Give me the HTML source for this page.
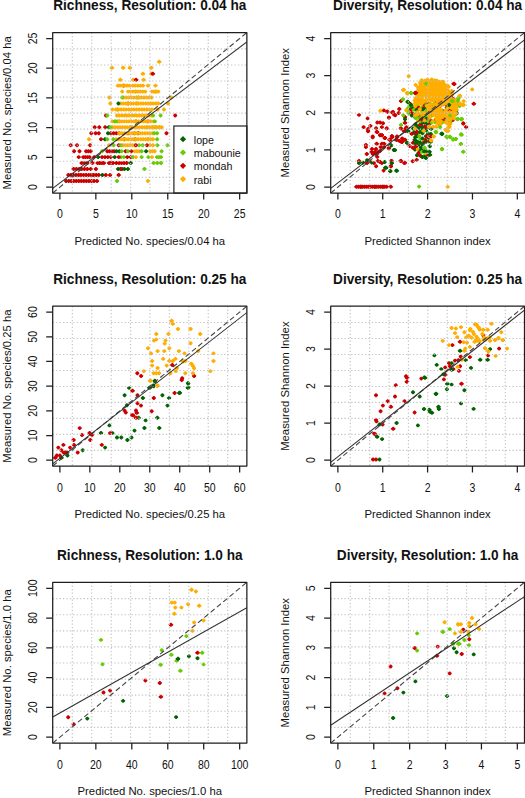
<!DOCTYPE html>
<html><head><meta charset="utf-8"><title>Richness and diversity</title>
<style>
html,body{margin:0;padding:0;background:#fff;}
body{width:525px;height:798px;overflow:hidden;}
svg{display:block;font-family:"Liberation Sans", sans-serif;fill:#000;}
text{fill:#111;}
</style></head><body>
<svg width="525" height="798" viewBox="0 0 525 798">
<rect width="525" height="798" fill="#fff"/>
<clipPath id="c0"><rect x="52.7" y="32.55" width="194.16" height="160.52"/></clipPath>
<g clip-path="url(#c0)"><path d="M157.23 61.32l1.47 -1.47h1l1.47 1.47v1l-1.47 1.47h-1l-1.47 -1.47z" fill="#FFAE00"/><path d="M109.93 67.28l1.47 -1.47h1l1.47 1.47v1l-1.47 1.47h-1l-1.47 -1.47z" fill="#FFAE00"/><path d="M121.23 67.28l1.47 -1.47h1l1.47 1.47v1l-1.47 1.47h-1l-1.47 -1.47z" fill="#FFAE00"/><path d="M127.93 67.28l1.47 -1.47h1l1.47 1.47v1l-1.47 1.47h-1l-1.47 -1.47z" fill="#FFAE00"/><path d="M149.23 67.28l1.47 -1.47h1l1.47 1.47v1l-1.47 1.47h-1l-1.47 -1.47z" fill="#FFAE00"/><path d="M140.93 73.24l1.47 -1.47h1l1.47 1.47v1l-1.47 1.47h-1l-1.47 -1.47z" fill="#FFAE00"/><path d="M149.43 73.24l1.47 -1.47h1l1.47 1.47v1l-1.47 1.47h-1l-1.47 -1.47z" fill="#FFAE00"/><path d="M150.83 73.24l1.47 -1.47h1l1.47 1.47v1l-1.47 1.47h-1l-1.47 -1.47z" fill="#CD0000"/><path d="M118.43 79.19l1.47 -1.47h1l1.47 1.47v1l-1.47 1.47h-1l-1.47 -1.47z" fill="#FFAE00"/><path d="M131.33 79.19l1.47 -1.47h1l1.47 1.47v1l-1.47 1.47h-1l-1.47 -1.47z" fill="#FFAE00"/><path d="M134.13 79.19l1.47 -1.47h1l1.47 1.47v1l-1.47 1.47h-1l-1.47 -1.47z" fill="#CD0000"/><path d="M141.63 79.19l1.47 -1.47h1l1.47 1.47v1l-1.47 1.47h-1l-1.47 -1.47z" fill="#FFAE00"/><path d="M121.63 85.15l1.47 -1.47h1l1.47 1.47v1l-1.47 1.47h-1l-1.47 -1.47z" fill="#CD0000"/><path d="M115.93 85.15l1.47 -1.47h1l1.47 1.47v1l-1.47 1.47h-1l-1.47 -1.47z" fill="#FFAE00"/><path d="M118.21 85.15l1.47 -1.47h1l1.47 1.47v1l-1.47 1.47h-1l-1.47 -1.47z" fill="#FFAE00"/><path d="M120.49 85.15l1.47 -1.47h1l1.47 1.47v1l-1.47 1.47h-1l-1.47 -1.47z" fill="#FFAE00"/><path d="M122.77 85.15l1.47 -1.47h1l1.47 1.47v1l-1.47 1.47h-1l-1.47 -1.47z" fill="#FFAE00"/><path d="M125.05 85.15l1.47 -1.47h1l1.47 1.47v1l-1.47 1.47h-1l-1.47 -1.47z" fill="#FFAE00"/><path d="M127.33 85.15l1.47 -1.47h1l1.47 1.47v1l-1.47 1.47h-1l-1.47 -1.47z" fill="#FFAE00"/><path d="M130.73 85.15l1.47 -1.47h1l1.47 1.47v1l-1.47 1.47h-1l-1.47 -1.47z" fill="#FFAE00"/><path d="M133.3 85.15l1.47 -1.47h1l1.47 1.47v1l-1.47 1.47h-1l-1.47 -1.47z" fill="#FFAE00"/><path d="M135.88 85.15l1.47 -1.47h1l1.47 1.47v1l-1.47 1.47h-1l-1.47 -1.47z" fill="#FFAE00"/><path d="M138.46 85.15l1.47 -1.47h1l1.47 1.47v1l-1.47 1.47h-1l-1.47 -1.47z" fill="#FFAE00"/><path d="M141.03 85.15l1.47 -1.47h1l1.47 1.47v1l-1.47 1.47h-1l-1.47 -1.47z" fill="#FFAE00"/><path d="M146.03 85.15l1.47 -1.47h1l1.47 1.47v1l-1.47 1.47h-1l-1.47 -1.47z" fill="#FFAE00"/><path d="M153.53 85.15l1.47 -1.47h1l1.47 1.47v1l-1.47 1.47h-1l-1.47 -1.47z" fill="#FFAE00"/><path d="M133.63 91.1l1.47 -1.47h1l1.47 1.47v1l-1.47 1.47h-1l-1.47 -1.47z" fill="#66CD00"/><path d="M153.53 91.1l1.47 -1.47h1l1.47 1.47v1l-1.47 1.47h-1l-1.47 -1.47z" fill="#66CD00"/><path d="M126.13 91.1l1.47 -1.47h1l1.47 1.47v1l-1.47 1.47h-1l-1.47 -1.47z" fill="#FFAE00"/><path d="M128.59 91.1l1.47 -1.47h1l1.47 1.47v1l-1.47 1.47h-1l-1.47 -1.47z" fill="#FFAE00"/><path d="M131.04 91.1l1.47 -1.47h1l1.47 1.47v1l-1.47 1.47h-1l-1.47 -1.47z" fill="#FFAE00"/><path d="M133.5 91.1l1.47 -1.47h1l1.47 1.47v1l-1.47 1.47h-1l-1.47 -1.47z" fill="#FFAE00"/><path d="M135.96 91.1l1.47 -1.47h1l1.47 1.47v1l-1.47 1.47h-1l-1.47 -1.47z" fill="#FFAE00"/><path d="M138.42 91.1l1.47 -1.47h1l1.47 1.47v1l-1.47 1.47h-1l-1.47 -1.47z" fill="#FFAE00"/><path d="M140.87 91.1l1.47 -1.47h1l1.47 1.47v1l-1.47 1.47h-1l-1.47 -1.47z" fill="#FFAE00"/><path d="M143.33 91.1l1.47 -1.47h1l1.47 1.47v1l-1.47 1.47h-1l-1.47 -1.47z" fill="#FFAE00"/><path d="M150.03 91.1l1.47 -1.47h1l1.47 1.47v1l-1.47 1.47h-1l-1.47 -1.47z" fill="#FFAE00"/><path d="M152.13 91.1l1.47 -1.47h1l1.47 1.47v1l-1.47 1.47h-1l-1.47 -1.47z" fill="#FFAE00"/><path d="M154.23 91.1l1.47 -1.47h1l1.47 1.47v1l-1.47 1.47h-1l-1.47 -1.47z" fill="#FFAE00"/><path d="M156.33 91.1l1.47 -1.47h1l1.47 1.47v1l-1.47 1.47h-1l-1.47 -1.47z" fill="#FFAE00"/><path d="M120.23 91.1l1.47 -1.47h1l1.47 1.47v1l-1.47 1.47h-1l-1.47 -1.47z" fill="#FFAE00"/><path d="M136.03 97.06l1.47 -1.47h1l1.47 1.47v1l-1.47 1.47h-1l-1.47 -1.47z" fill="#66CD00"/><path d="M121.63 97.06l1.47 -1.47h1l1.47 1.47v1l-1.47 1.47h-1l-1.47 -1.47z" fill="#FFAE00"/><path d="M124.18 97.06l1.47 -1.47h1l1.47 1.47v1l-1.47 1.47h-1l-1.47 -1.47z" fill="#FFAE00"/><path d="M126.72 97.06l1.47 -1.47h1l1.47 1.47v1l-1.47 1.47h-1l-1.47 -1.47z" fill="#FFAE00"/><path d="M129.27 97.06l1.47 -1.47h1l1.47 1.47v1l-1.47 1.47h-1l-1.47 -1.47z" fill="#FFAE00"/><path d="M131.81 97.06l1.47 -1.47h1l1.47 1.47v1l-1.47 1.47h-1l-1.47 -1.47z" fill="#FFAE00"/><path d="M134.36 97.06l1.47 -1.47h1l1.47 1.47v1l-1.47 1.47h-1l-1.47 -1.47z" fill="#FFAE00"/><path d="M136.9 97.06l1.47 -1.47h1l1.47 1.47v1l-1.47 1.47h-1l-1.47 -1.47z" fill="#FFAE00"/><path d="M139.45 97.06l1.47 -1.47h1l1.47 1.47v1l-1.47 1.47h-1l-1.47 -1.47z" fill="#FFAE00"/><path d="M141.99 97.06l1.47 -1.47h1l1.47 1.47v1l-1.47 1.47h-1l-1.47 -1.47z" fill="#FFAE00"/><path d="M144.54 97.06l1.47 -1.47h1l1.47 1.47v1l-1.47 1.47h-1l-1.47 -1.47z" fill="#FFAE00"/><path d="M147.08 97.06l1.47 -1.47h1l1.47 1.47v1l-1.47 1.47h-1l-1.47 -1.47z" fill="#FFAE00"/><path d="M149.63 97.06l1.47 -1.47h1l1.47 1.47v1l-1.47 1.47h-1l-1.47 -1.47z" fill="#FFAE00"/><path d="M107.23 97.06l1.47 -1.47h1l1.47 1.47v1l-1.47 1.47h-1l-1.47 -1.47z" fill="#FFAE00"/><path d="M120.23 97.06l1.47 -1.47h1l1.47 1.47v1l-1.47 1.47h-1l-1.47 -1.47z" fill="#66CD00"/><path d="M169.43 97.06l1.47 -1.47h1l1.47 1.47v1l-1.47 1.47h-1l-1.47 -1.47z" fill="#FFAE00"/><path d="M126.13 103.02l1.47 -1.47h1l1.47 1.47v1l-1.47 1.47h-1l-1.47 -1.47z" fill="#CD0000"/><path d="M135.03 103.02l1.47 -1.47h1l1.47 1.47v1l-1.47 1.47h-1l-1.47 -1.47z" fill="#66CD00"/><path d="M118.73 103.02l1.47 -1.47h1l1.47 1.47v1l-1.47 1.47h-1l-1.47 -1.47z" fill="#FFAE00"/><path d="M121.24 103.02l1.47 -1.47h1l1.47 1.47v1l-1.47 1.47h-1l-1.47 -1.47z" fill="#FFAE00"/><path d="M123.74 103.02l1.47 -1.47h1l1.47 1.47v1l-1.47 1.47h-1l-1.47 -1.47z" fill="#FFAE00"/><path d="M126.25 103.02l1.47 -1.47h1l1.47 1.47v1l-1.47 1.47h-1l-1.47 -1.47z" fill="#FFAE00"/><path d="M128.76 103.02l1.47 -1.47h1l1.47 1.47v1l-1.47 1.47h-1l-1.47 -1.47z" fill="#FFAE00"/><path d="M131.26 103.02l1.47 -1.47h1l1.47 1.47v1l-1.47 1.47h-1l-1.47 -1.47z" fill="#FFAE00"/><path d="M133.77 103.02l1.47 -1.47h1l1.47 1.47v1l-1.47 1.47h-1l-1.47 -1.47z" fill="#FFAE00"/><path d="M136.28 103.02l1.47 -1.47h1l1.47 1.47v1l-1.47 1.47h-1l-1.47 -1.47z" fill="#FFAE00"/><path d="M138.78 103.02l1.47 -1.47h1l1.47 1.47v1l-1.47 1.47h-1l-1.47 -1.47z" fill="#FFAE00"/><path d="M141.29 103.02l1.47 -1.47h1l1.47 1.47v1l-1.47 1.47h-1l-1.47 -1.47z" fill="#FFAE00"/><path d="M143.8 103.02l1.47 -1.47h1l1.47 1.47v1l-1.47 1.47h-1l-1.47 -1.47z" fill="#FFAE00"/><path d="M146.3 103.02l1.47 -1.47h1l1.47 1.47v1l-1.47 1.47h-1l-1.47 -1.47z" fill="#FFAE00"/><path d="M148.81 103.02l1.47 -1.47h1l1.47 1.47v1l-1.47 1.47h-1l-1.47 -1.47z" fill="#FFAE00"/><path d="M151.32 103.02l1.47 -1.47h1l1.47 1.47v1l-1.47 1.47h-1l-1.47 -1.47z" fill="#FFAE00"/><path d="M153.82 103.02l1.47 -1.47h1l1.47 1.47v1l-1.47 1.47h-1l-1.47 -1.47z" fill="#FFAE00"/><path d="M156.33 103.02l1.47 -1.47h1l1.47 1.47v1l-1.47 1.47h-1l-1.47 -1.47z" fill="#FFAE00"/><path d="M108.33 103.02l1.47 -1.47h1l1.47 1.47v1l-1.47 1.47h-1l-1.47 -1.47z" fill="#FFAE00"/><path d="M116.43 103.02l1.47 -1.47h1l1.47 1.47v1l-1.47 1.47h-1l-1.47 -1.47z" fill="#006400"/><path d="M166.03 103.02l1.47 -1.47h1l1.47 1.47v1l-1.47 1.47h-1l-1.47 -1.47z" fill="#FFAE00"/><path d="M115.53 108.97l1.47 -1.47h1l1.47 1.47v1l-1.47 1.47h-1l-1.47 -1.47z" fill="#66CD00"/><path d="M113.93 108.97l1.47 -1.47h1l1.47 1.47v1l-1.47 1.47h-1l-1.47 -1.47z" fill="#FFAE00"/><path d="M116.51 108.97l1.47 -1.47h1l1.47 1.47v1l-1.47 1.47h-1l-1.47 -1.47z" fill="#FFAE00"/><path d="M119.09 108.97l1.47 -1.47h1l1.47 1.47v1l-1.47 1.47h-1l-1.47 -1.47z" fill="#FFAE00"/><path d="M121.67 108.97l1.47 -1.47h1l1.47 1.47v1l-1.47 1.47h-1l-1.47 -1.47z" fill="#FFAE00"/><path d="M124.24 108.97l1.47 -1.47h1l1.47 1.47v1l-1.47 1.47h-1l-1.47 -1.47z" fill="#FFAE00"/><path d="M126.82 108.97l1.47 -1.47h1l1.47 1.47v1l-1.47 1.47h-1l-1.47 -1.47z" fill="#FFAE00"/><path d="M129.4 108.97l1.47 -1.47h1l1.47 1.47v1l-1.47 1.47h-1l-1.47 -1.47z" fill="#FFAE00"/><path d="M131.98 108.97l1.47 -1.47h1l1.47 1.47v1l-1.47 1.47h-1l-1.47 -1.47z" fill="#FFAE00"/><path d="M134.56 108.97l1.47 -1.47h1l1.47 1.47v1l-1.47 1.47h-1l-1.47 -1.47z" fill="#FFAE00"/><path d="M137.14 108.97l1.47 -1.47h1l1.47 1.47v1l-1.47 1.47h-1l-1.47 -1.47z" fill="#FFAE00"/><path d="M139.72 108.97l1.47 -1.47h1l1.47 1.47v1l-1.47 1.47h-1l-1.47 -1.47z" fill="#FFAE00"/><path d="M142.29 108.97l1.47 -1.47h1l1.47 1.47v1l-1.47 1.47h-1l-1.47 -1.47z" fill="#FFAE00"/><path d="M144.87 108.97l1.47 -1.47h1l1.47 1.47v1l-1.47 1.47h-1l-1.47 -1.47z" fill="#FFAE00"/><path d="M147.45 108.97l1.47 -1.47h1l1.47 1.47v1l-1.47 1.47h-1l-1.47 -1.47z" fill="#FFAE00"/><path d="M150.03 108.97l1.47 -1.47h1l1.47 1.47v1l-1.47 1.47h-1l-1.47 -1.47z" fill="#FFAE00"/><path d="M110.43 108.97l1.47 -1.47h1l1.47 1.47v1l-1.47 1.47h-1l-1.47 -1.47z" fill="#FFAE00"/><path d="M155.73 108.97l1.47 -1.47h1l1.47 1.47v1l-1.47 1.47h-1l-1.47 -1.47z" fill="#FFAE00"/><path d="M162.03 108.97l1.47 -1.47h1l1.47 1.47v1l-1.47 1.47h-1l-1.47 -1.47z" fill="#FFAE00"/><path d="M115.03 114.93l1.47 -1.47h1l1.47 1.47v1l-1.47 1.47h-1l-1.47 -1.47z" fill="#FFAE00"/><path d="M117.49 114.93l1.47 -1.47h1l1.47 1.47v1l-1.47 1.47h-1l-1.47 -1.47z" fill="#FFAE00"/><path d="M119.94 114.93l1.47 -1.47h1l1.47 1.47v1l-1.47 1.47h-1l-1.47 -1.47z" fill="#FFAE00"/><path d="M122.4 114.93l1.47 -1.47h1l1.47 1.47v1l-1.47 1.47h-1l-1.47 -1.47z" fill="#FFAE00"/><path d="M124.86 114.93l1.47 -1.47h1l1.47 1.47v1l-1.47 1.47h-1l-1.47 -1.47z" fill="#FFAE00"/><path d="M127.32 114.93l1.47 -1.47h1l1.47 1.47v1l-1.47 1.47h-1l-1.47 -1.47z" fill="#FFAE00"/><path d="M129.77 114.93l1.47 -1.47h1l1.47 1.47v1l-1.47 1.47h-1l-1.47 -1.47z" fill="#FFAE00"/><path d="M132.23 114.93l1.47 -1.47h1l1.47 1.47v1l-1.47 1.47h-1l-1.47 -1.47z" fill="#FFAE00"/><path d="M134.69 114.93l1.47 -1.47h1l1.47 1.47v1l-1.47 1.47h-1l-1.47 -1.47z" fill="#FFAE00"/><path d="M137.14 114.93l1.47 -1.47h1l1.47 1.47v1l-1.47 1.47h-1l-1.47 -1.47z" fill="#FFAE00"/><path d="M139.6 114.93l1.47 -1.47h1l1.47 1.47v1l-1.47 1.47h-1l-1.47 -1.47z" fill="#FFAE00"/><path d="M142.06 114.93l1.47 -1.47h1l1.47 1.47v1l-1.47 1.47h-1l-1.47 -1.47z" fill="#FFAE00"/><path d="M144.52 114.93l1.47 -1.47h1l1.47 1.47v1l-1.47 1.47h-1l-1.47 -1.47z" fill="#FFAE00"/><path d="M146.97 114.93l1.47 -1.47h1l1.47 1.47v1l-1.47 1.47h-1l-1.47 -1.47z" fill="#FFAE00"/><path d="M149.43 114.93l1.47 -1.47h1l1.47 1.47v1l-1.47 1.47h-1l-1.47 -1.47z" fill="#FFAE00"/><path d="M103.93 114.93l1.47 -1.47h1l1.47 1.47v1l-1.47 1.47h-1l-1.47 -1.47z" fill="#CD0000"/><path d="M105.33 114.93l1.47 -1.47h1l1.47 1.47v1l-1.47 1.47h-1l-1.47 -1.47z" fill="#66CD00"/><path d="M151.13 114.93l1.47 -1.47h1l1.47 1.47v1l-1.47 1.47h-1l-1.47 -1.47z" fill="#66CD00"/><path d="M158.63 114.93l1.47 -1.47h1l1.47 1.47v1l-1.47 1.47h-1l-1.47 -1.47z" fill="#66CD00"/><path d="M173.23 114.93l1.47 -1.47h1l1.47 1.47v1l-1.47 1.47h-1l-1.47 -1.47z" fill="#CD0000"/><path d="M134.03 120.88l1.47 -1.47h1l1.47 1.47v1l-1.47 1.47h-1l-1.47 -1.47z" fill="#CD0000"/><path d="M146.03 120.88l1.47 -1.47h1l1.47 1.47v1l-1.47 1.47h-1l-1.47 -1.47z" fill="#CD0000"/><path d="M113.33 120.88l1.47 -1.47h1l1.47 1.47v1l-1.47 1.47h-1l-1.47 -1.47z" fill="#66CD00"/><path d="M115.33 120.88l1.47 -1.47h1l1.47 1.47v1l-1.47 1.47h-1l-1.47 -1.47z" fill="#66CD00"/><path d="M117.33 120.88l1.47 -1.47h1l1.47 1.47v1l-1.47 1.47h-1l-1.47 -1.47z" fill="#66CD00"/><path d="M117.33 120.88l1.47 -1.47h1l1.47 1.47v1l-1.47 1.47h-1l-1.47 -1.47z" fill="#FFAE00"/><path d="M119.76 120.88l1.47 -1.47h1l1.47 1.47v1l-1.47 1.47h-1l-1.47 -1.47z" fill="#FFAE00"/><path d="M122.19 120.88l1.47 -1.47h1l1.47 1.47v1l-1.47 1.47h-1l-1.47 -1.47z" fill="#FFAE00"/><path d="M124.62 120.88l1.47 -1.47h1l1.47 1.47v1l-1.47 1.47h-1l-1.47 -1.47z" fill="#FFAE00"/><path d="M127.04 120.88l1.47 -1.47h1l1.47 1.47v1l-1.47 1.47h-1l-1.47 -1.47z" fill="#FFAE00"/><path d="M129.47 120.88l1.47 -1.47h1l1.47 1.47v1l-1.47 1.47h-1l-1.47 -1.47z" fill="#FFAE00"/><path d="M131.9 120.88l1.47 -1.47h1l1.47 1.47v1l-1.47 1.47h-1l-1.47 -1.47z" fill="#FFAE00"/><path d="M134.33 120.88l1.47 -1.47h1l1.47 1.47v1l-1.47 1.47h-1l-1.47 -1.47z" fill="#FFAE00"/><path d="M136.76 120.88l1.47 -1.47h1l1.47 1.47v1l-1.47 1.47h-1l-1.47 -1.47z" fill="#FFAE00"/><path d="M139.19 120.88l1.47 -1.47h1l1.47 1.47v1l-1.47 1.47h-1l-1.47 -1.47z" fill="#FFAE00"/><path d="M141.62 120.88l1.47 -1.47h1l1.47 1.47v1l-1.47 1.47h-1l-1.47 -1.47z" fill="#FFAE00"/><path d="M144.04 120.88l1.47 -1.47h1l1.47 1.47v1l-1.47 1.47h-1l-1.47 -1.47z" fill="#FFAE00"/><path d="M146.47 120.88l1.47 -1.47h1l1.47 1.47v1l-1.47 1.47h-1l-1.47 -1.47z" fill="#FFAE00"/><path d="M148.9 120.88l1.47 -1.47h1l1.47 1.47v1l-1.47 1.47h-1l-1.47 -1.47z" fill="#FFAE00"/><path d="M151.33 120.88l1.47 -1.47h1l1.47 1.47v1l-1.47 1.47h-1l-1.47 -1.47z" fill="#FFAE00"/><path d="M110.43 120.88l1.47 -1.47h1l1.47 1.47v1l-1.47 1.47h-1l-1.47 -1.47z" fill="#FFAE00"/><path d="M152.93 120.88l1.47 -1.47h1l1.47 1.47v1l-1.47 1.47h-1l-1.47 -1.47z" fill="#66CD00"/><path d="M112.73 120.88l1.47 -1.47h1l1.47 1.47v1l-1.47 1.47h-1l-1.47 -1.47z" fill="#66CD00"/><path d="M128.73 126.84l1.47 -1.47h1l1.47 1.47v1l-1.47 1.47h-1l-1.47 -1.47z" fill="#CD0000"/><path d="M144.93 126.84l1.47 -1.47h1l1.47 1.47v1l-1.47 1.47h-1l-1.47 -1.47z" fill="#66CD00"/><path d="M150.63 126.84l1.47 -1.47h1l1.47 1.47v1l-1.47 1.47h-1l-1.47 -1.47z" fill="#66CD00"/><path d="M154.03 126.84l1.47 -1.47h1l1.47 1.47v1l-1.47 1.47h-1l-1.47 -1.47z" fill="#66CD00"/><path d="M157.53 126.84l1.47 -1.47h1l1.47 1.47v1l-1.47 1.47h-1l-1.47 -1.47z" fill="#66CD00"/><path d="M110.73 126.84l1.47 -1.47h1l1.47 1.47v1l-1.47 1.47h-1l-1.47 -1.47z" fill="#FFAE00"/><path d="M113.18 126.84l1.47 -1.47h1l1.47 1.47v1l-1.47 1.47h-1l-1.47 -1.47z" fill="#FFAE00"/><path d="M115.63 126.84l1.47 -1.47h1l1.47 1.47v1l-1.47 1.47h-1l-1.47 -1.47z" fill="#FFAE00"/><path d="M118.08 126.84l1.47 -1.47h1l1.47 1.47v1l-1.47 1.47h-1l-1.47 -1.47z" fill="#FFAE00"/><path d="M120.53 126.84l1.47 -1.47h1l1.47 1.47v1l-1.47 1.47h-1l-1.47 -1.47z" fill="#FFAE00"/><path d="M122.98 126.84l1.47 -1.47h1l1.47 1.47v1l-1.47 1.47h-1l-1.47 -1.47z" fill="#FFAE00"/><path d="M125.43 126.84l1.47 -1.47h1l1.47 1.47v1l-1.47 1.47h-1l-1.47 -1.47z" fill="#FFAE00"/><path d="M127.88 126.84l1.47 -1.47h1l1.47 1.47v1l-1.47 1.47h-1l-1.47 -1.47z" fill="#FFAE00"/><path d="M130.33 126.84l1.47 -1.47h1l1.47 1.47v1l-1.47 1.47h-1l-1.47 -1.47z" fill="#FFAE00"/><path d="M132.78 126.84l1.47 -1.47h1l1.47 1.47v1l-1.47 1.47h-1l-1.47 -1.47z" fill="#FFAE00"/><path d="M135.23 126.84l1.47 -1.47h1l1.47 1.47v1l-1.47 1.47h-1l-1.47 -1.47z" fill="#FFAE00"/><path d="M137.68 126.84l1.47 -1.47h1l1.47 1.47v1l-1.47 1.47h-1l-1.47 -1.47z" fill="#FFAE00"/><path d="M140.13 126.84l1.47 -1.47h1l1.47 1.47v1l-1.47 1.47h-1l-1.47 -1.47z" fill="#FFAE00"/><path d="M142.58 126.84l1.47 -1.47h1l1.47 1.47v1l-1.47 1.47h-1l-1.47 -1.47z" fill="#FFAE00"/><path d="M145.03 126.84l1.47 -1.47h1l1.47 1.47v1l-1.47 1.47h-1l-1.47 -1.47z" fill="#FFAE00"/><path d="M147.48 126.84l1.47 -1.47h1l1.47 1.47v1l-1.47 1.47h-1l-1.47 -1.47z" fill="#FFAE00"/><path d="M149.93 126.84l1.47 -1.47h1l1.47 1.47v1l-1.47 1.47h-1l-1.47 -1.47z" fill="#FFAE00"/><path d="M152.38 126.84l1.47 -1.47h1l1.47 1.47v1l-1.47 1.47h-1l-1.47 -1.47z" fill="#FFAE00"/><path d="M154.83 126.84l1.47 -1.47h1l1.47 1.47v1l-1.47 1.47h-1l-1.47 -1.47z" fill="#FFAE00"/><path d="M157.28 126.84l1.47 -1.47h1l1.47 1.47v1l-1.47 1.47h-1l-1.47 -1.47z" fill="#FFAE00"/><path d="M159.73 126.84l1.47 -1.47h1l1.47 1.47v1l-1.47 1.47h-1l-1.47 -1.47z" fill="#FFAE00"/><path d="M92.73 126.84l1.47 -1.47h1l1.47 1.47v1l-1.47 1.47h-1l-1.47 -1.47z" fill="#CD0000"/><path d="M97.33 126.84l1.47 -1.47h1l1.47 1.47v1l-1.47 1.47h-1l-1.47 -1.47z" fill="#CD0000"/><path d="M103.23 126.84l1.47 -1.47h1l1.47 1.47v1l-1.47 1.47h-1l-1.47 -1.47z" fill="#CD0000"/><path d="M106.83 126.84l1.47 -1.47h1l1.47 1.47v1l-1.47 1.47h-1l-1.47 -1.47z" fill="#006400"/><path d="M108.53 126.84l1.47 -1.47h1l1.47 1.47v1l-1.47 1.47h-1l-1.47 -1.47z" fill="#66CD00"/><path d="M126.03 132.8l1.47 -1.47h1l1.47 1.47v1l-1.47 1.47h-1l-1.47 -1.47z" fill="#CD0000"/><path d="M132.53 132.8l1.47 -1.47h1l1.47 1.47v1l-1.47 1.47h-1l-1.47 -1.47z" fill="#CD0000"/><path d="M136.03 132.8l1.47 -1.47h1l1.47 1.47v1l-1.47 1.47h-1l-1.47 -1.47z" fill="#CD0000"/><path d="M93.63 132.8l1.47 -1.47h1l1.47 1.47v1l-1.47 1.47h-1l-1.47 -1.47z" fill="#CD0000"/><path d="M96.83 132.8l1.47 -1.47h1l1.47 1.47v1l-1.47 1.47h-1l-1.47 -1.47z" fill="#CD0000"/><path d="M108.73 132.8l1.47 -1.47h1l1.47 1.47v1l-1.47 1.47h-1l-1.47 -1.47z" fill="#CD0000"/><path d="M111.6 132.8l1.47 -1.47h1l1.47 1.47v1l-1.47 1.47h-1l-1.47 -1.47z" fill="#CD0000"/><path d="M114.46 132.8l1.47 -1.47h1l1.47 1.47v1l-1.47 1.47h-1l-1.47 -1.47z" fill="#CD0000"/><path d="M117.33 132.8l1.47 -1.47h1l1.47 1.47v1l-1.47 1.47h-1l-1.47 -1.47z" fill="#CD0000"/><path d="M117.33 132.8l1.47 -1.47h1l1.47 1.47v1l-1.47 1.47h-1l-1.47 -1.47z" fill="#FFAE00"/><path d="M119.89 132.8l1.47 -1.47h1l1.47 1.47v1l-1.47 1.47h-1l-1.47 -1.47z" fill="#FFAE00"/><path d="M122.45 132.8l1.47 -1.47h1l1.47 1.47v1l-1.47 1.47h-1l-1.47 -1.47z" fill="#FFAE00"/><path d="M125.01 132.8l1.47 -1.47h1l1.47 1.47v1l-1.47 1.47h-1l-1.47 -1.47z" fill="#FFAE00"/><path d="M127.58 132.8l1.47 -1.47h1l1.47 1.47v1l-1.47 1.47h-1l-1.47 -1.47z" fill="#FFAE00"/><path d="M130.14 132.8l1.47 -1.47h1l1.47 1.47v1l-1.47 1.47h-1l-1.47 -1.47z" fill="#FFAE00"/><path d="M132.7 132.8l1.47 -1.47h1l1.47 1.47v1l-1.47 1.47h-1l-1.47 -1.47z" fill="#FFAE00"/><path d="M135.26 132.8l1.47 -1.47h1l1.47 1.47v1l-1.47 1.47h-1l-1.47 -1.47z" fill="#FFAE00"/><path d="M137.82 132.8l1.47 -1.47h1l1.47 1.47v1l-1.47 1.47h-1l-1.47 -1.47z" fill="#FFAE00"/><path d="M140.38 132.8l1.47 -1.47h1l1.47 1.47v1l-1.47 1.47h-1l-1.47 -1.47z" fill="#FFAE00"/><path d="M142.95 132.8l1.47 -1.47h1l1.47 1.47v1l-1.47 1.47h-1l-1.47 -1.47z" fill="#FFAE00"/><path d="M145.51 132.8l1.47 -1.47h1l1.47 1.47v1l-1.47 1.47h-1l-1.47 -1.47z" fill="#FFAE00"/><path d="M148.07 132.8l1.47 -1.47h1l1.47 1.47v1l-1.47 1.47h-1l-1.47 -1.47z" fill="#FFAE00"/><path d="M150.63 132.8l1.47 -1.47h1l1.47 1.47v1l-1.47 1.47h-1l-1.47 -1.47z" fill="#FFAE00"/><path d="M152.33 132.8l1.47 -1.47h1l1.47 1.47v1l-1.47 1.47h-1l-1.47 -1.47z" fill="#66CD00"/><path d="M155.13 132.8l1.47 -1.47h1l1.47 1.47v1l-1.47 1.47h-1l-1.47 -1.47z" fill="#66CD00"/><path d="M89.33 132.8l1.47 -1.47h1l1.47 1.47v1l-1.47 1.47h-1l-1.47 -1.47z" fill="#CD0000"/><path d="M106.03 132.8l1.47 -1.47h1l1.47 1.47v1l-1.47 1.47h-1l-1.47 -1.47z" fill="#006400"/><path d="M164.53 132.8l1.47 -1.47h1l1.47 1.47v1l-1.47 1.47h-1l-1.47 -1.47z" fill="#CD0000"/><path d="M133.33 138.75l1.47 -1.47h1l1.47 1.47v1l-1.47 1.47h-1l-1.47 -1.47z" fill="#006400"/><path d="M146.03 138.75l1.47 -1.47h1l1.47 1.47v1l-1.47 1.47h-1l-1.47 -1.47z" fill="#66CD00"/><path d="M122.03 138.75l1.47 -1.47h1l1.47 1.47v1l-1.47 1.47h-1l-1.47 -1.47z" fill="#CD0000"/><path d="M114.03 138.75l1.47 -1.47h1l1.47 1.47v1l-1.47 1.47h-1l-1.47 -1.47z" fill="#FFAE00"/><path d="M116.5 138.75l1.47 -1.47h1l1.47 1.47v1l-1.47 1.47h-1l-1.47 -1.47z" fill="#FFAE00"/><path d="M118.96 138.75l1.47 -1.47h1l1.47 1.47v1l-1.47 1.47h-1l-1.47 -1.47z" fill="#FFAE00"/><path d="M121.43 138.75l1.47 -1.47h1l1.47 1.47v1l-1.47 1.47h-1l-1.47 -1.47z" fill="#FFAE00"/><path d="M123.9 138.75l1.47 -1.47h1l1.47 1.47v1l-1.47 1.47h-1l-1.47 -1.47z" fill="#FFAE00"/><path d="M126.36 138.75l1.47 -1.47h1l1.47 1.47v1l-1.47 1.47h-1l-1.47 -1.47z" fill="#FFAE00"/><path d="M128.83 138.75l1.47 -1.47h1l1.47 1.47v1l-1.47 1.47h-1l-1.47 -1.47z" fill="#FFAE00"/><path d="M131.3 138.75l1.47 -1.47h1l1.47 1.47v1l-1.47 1.47h-1l-1.47 -1.47z" fill="#FFAE00"/><path d="M133.76 138.75l1.47 -1.47h1l1.47 1.47v1l-1.47 1.47h-1l-1.47 -1.47z" fill="#FFAE00"/><path d="M136.23 138.75l1.47 -1.47h1l1.47 1.47v1l-1.47 1.47h-1l-1.47 -1.47z" fill="#FFAE00"/><path d="M138.7 138.75l1.47 -1.47h1l1.47 1.47v1l-1.47 1.47h-1l-1.47 -1.47z" fill="#FFAE00"/><path d="M141.16 138.75l1.47 -1.47h1l1.47 1.47v1l-1.47 1.47h-1l-1.47 -1.47z" fill="#FFAE00"/><path d="M143.63 138.75l1.47 -1.47h1l1.47 1.47v1l-1.47 1.47h-1l-1.47 -1.47z" fill="#FFAE00"/><path d="M146.1 138.75l1.47 -1.47h1l1.47 1.47v1l-1.47 1.47h-1l-1.47 -1.47z" fill="#FFAE00"/><path d="M148.56 138.75l1.47 -1.47h1l1.47 1.47v1l-1.47 1.47h-1l-1.47 -1.47z" fill="#FFAE00"/><path d="M151.03 138.75l1.47 -1.47h1l1.47 1.47v1l-1.47 1.47h-1l-1.47 -1.47z" fill="#FFAE00"/><path d="M87.03 138.75l1.47 -1.47h1l1.47 1.47v1l-1.47 1.47h-1l-1.47 -1.47z" fill="#FFAE00"/><path d="M99.03 138.75l1.47 -1.47h1l1.47 1.47v1l-1.47 1.47h-1l-1.47 -1.47z" fill="#CD0000"/><path d="M103.03 138.75l1.47 -1.47h1l1.47 1.47v1l-1.47 1.47h-1l-1.47 -1.47z" fill="#006400"/><path d="M105.33 138.75l1.47 -1.47h1l1.47 1.47v1l-1.47 1.47h-1l-1.47 -1.47z" fill="#66CD00"/><path d="M111.33 138.75l1.47 -1.47h1l1.47 1.47v1l-1.47 1.47h-1l-1.47 -1.47z" fill="#66CD00"/><path d="M155.13 138.75l1.47 -1.47h1l1.47 1.47v1l-1.47 1.47h-1l-1.47 -1.47z" fill="#66CD00"/><path d="M121.03 144.71l1.47 -1.47h1l1.47 1.47v1l-1.47 1.47h-1l-1.47 -1.47z" fill="#FFAE00"/><path d="M123.37 144.71l1.47 -1.47h1l1.47 1.47v1l-1.47 1.47h-1l-1.47 -1.47z" fill="#FFAE00"/><path d="M125.71 144.71l1.47 -1.47h1l1.47 1.47v1l-1.47 1.47h-1l-1.47 -1.47z" fill="#FFAE00"/><path d="M128.05 144.71l1.47 -1.47h1l1.47 1.47v1l-1.47 1.47h-1l-1.47 -1.47z" fill="#FFAE00"/><path d="M130.39 144.71l1.47 -1.47h1l1.47 1.47v1l-1.47 1.47h-1l-1.47 -1.47z" fill="#FFAE00"/><path d="M132.73 144.71l1.47 -1.47h1l1.47 1.47v1l-1.47 1.47h-1l-1.47 -1.47z" fill="#FFAE00"/><path d="M137.03 144.71l1.47 -1.47h1l1.47 1.47v1l-1.47 1.47h-1l-1.47 -1.47z" fill="#66CD00"/><path d="M140.73 144.71l1.47 -1.47h1l1.47 1.47v1l-1.47 1.47h-1l-1.47 -1.47z" fill="#66CD00"/><path d="M148.03 144.71l1.47 -1.47h1l1.47 1.47v1l-1.47 1.47h-1l-1.47 -1.47z" fill="#FFAE00"/><path d="M151.03 144.71l1.47 -1.47h1l1.47 1.47v1l-1.47 1.47h-1l-1.47 -1.47z" fill="#FFAE00"/><path d="M68.73 144.71l1.47 -1.47h1l1.47 1.47v1l-1.47 1.47h-1l-1.47 -1.47z" fill="#CD0000"/><path d="M75.03 144.71l1.47 -1.47h1l1.47 1.47v1l-1.47 1.47h-1l-1.47 -1.47z" fill="#CD0000"/><path d="M88.13 144.71l1.47 -1.47h1l1.47 1.47v1l-1.47 1.47h-1l-1.47 -1.47z" fill="#CD0000"/><path d="M107.03 144.71l1.47 -1.47h1l1.47 1.47v1l-1.47 1.47h-1l-1.47 -1.47z" fill="#FFAE00"/><path d="M111.63 144.71l1.47 -1.47h1l1.47 1.47v1l-1.47 1.47h-1l-1.47 -1.47z" fill="#66CD00"/><path d="M116.73 144.71l1.47 -1.47h1l1.47 1.47v1l-1.47 1.47h-1l-1.47 -1.47z" fill="#CD0000"/><path d="M119.03 144.71l1.47 -1.47h1l1.47 1.47v1l-1.47 1.47h-1l-1.47 -1.47z" fill="#66CD00"/><path d="M133.93 144.71l1.47 -1.47h1l1.47 1.47v1l-1.47 1.47h-1l-1.47 -1.47z" fill="#CD0000"/><path d="M145.03 144.71l1.47 -1.47h1l1.47 1.47v1l-1.47 1.47h-1l-1.47 -1.47z" fill="#CD0000"/><path d="M155.33 144.71l1.47 -1.47h1l1.47 1.47v1l-1.47 1.47h-1l-1.47 -1.47z" fill="#66CD00"/><path d="M165.43 144.71l1.47 -1.47h1l1.47 1.47v1l-1.47 1.47h-1l-1.47 -1.47z" fill="#66CD00"/><path d="M84.13 150.66l1.47 -1.47h1l1.47 1.47v1l-1.47 1.47h-1l-1.47 -1.47z" fill="#CD0000"/><path d="M86.43 150.66l1.47 -1.47h1l1.47 1.47v1l-1.47 1.47h-1l-1.47 -1.47z" fill="#CD0000"/><path d="M88.73 150.66l1.47 -1.47h1l1.47 1.47v1l-1.47 1.47h-1l-1.47 -1.47z" fill="#CD0000"/><path d="M105.33 150.66l1.47 -1.47h1l1.47 1.47v1l-1.47 1.47h-1l-1.47 -1.47z" fill="#CD0000"/><path d="M107.6 150.66l1.47 -1.47h1l1.47 1.47v1l-1.47 1.47h-1l-1.47 -1.47z" fill="#CD0000"/><path d="M109.86 150.66l1.47 -1.47h1l1.47 1.47v1l-1.47 1.47h-1l-1.47 -1.47z" fill="#CD0000"/><path d="M112.13 150.66l1.47 -1.47h1l1.47 1.47v1l-1.47 1.47h-1l-1.47 -1.47z" fill="#CD0000"/><path d="M114.43 150.66l1.47 -1.47h1l1.47 1.47v1l-1.47 1.47h-1l-1.47 -1.47z" fill="#006400"/><path d="M117.33 150.66l1.47 -1.47h1l1.47 1.47v1l-1.47 1.47h-1l-1.47 -1.47z" fill="#006400"/><path d="M132.73 150.66l1.47 -1.47h1l1.47 1.47v1l-1.47 1.47h-1l-1.47 -1.47z" fill="#FFAE00"/><path d="M135.03 150.66l1.47 -1.47h1l1.47 1.47v1l-1.47 1.47h-1l-1.47 -1.47z" fill="#FFAE00"/><path d="M137.33 150.66l1.47 -1.47h1l1.47 1.47v1l-1.47 1.47h-1l-1.47 -1.47z" fill="#FFAE00"/><path d="M148.13 150.66l1.47 -1.47h1l1.47 1.47v1l-1.47 1.47h-1l-1.47 -1.47z" fill="#FFAE00"/><path d="M150.43 150.66l1.47 -1.47h1l1.47 1.47v1l-1.47 1.47h-1l-1.47 -1.47z" fill="#FFAE00"/><path d="M152.73 150.66l1.47 -1.47h1l1.47 1.47v1l-1.47 1.47h-1l-1.47 -1.47z" fill="#FFAE00"/><path d="M72.13 150.66l1.47 -1.47h1l1.47 1.47v1l-1.47 1.47h-1l-1.47 -1.47z" fill="#CD0000"/><path d="M77.53 150.66l1.47 -1.47h1l1.47 1.47v1l-1.47 1.47h-1l-1.47 -1.47z" fill="#CD0000"/><path d="M100.13 150.66l1.47 -1.47h1l1.47 1.47v1l-1.47 1.47h-1l-1.47 -1.47z" fill="#66CD00"/><path d="M119.63 150.66l1.47 -1.47h1l1.47 1.47v1l-1.47 1.47h-1l-1.47 -1.47z" fill="#66CD00"/><path d="M123.63 150.66l1.47 -1.47h1l1.47 1.47v1l-1.47 1.47h-1l-1.47 -1.47z" fill="#CD0000"/><path d="M125.93 150.66l1.47 -1.47h1l1.47 1.47v1l-1.47 1.47h-1l-1.47 -1.47z" fill="#66CD00"/><path d="M129.33 150.66l1.47 -1.47h1l1.47 1.47v1l-1.47 1.47h-1l-1.47 -1.47z" fill="#CD0000"/><path d="M139.63 150.66l1.47 -1.47h1l1.47 1.47v1l-1.47 1.47h-1l-1.47 -1.47z" fill="#66CD00"/><path d="M144.13 150.66l1.47 -1.47h1l1.47 1.47v1l-1.47 1.47h-1l-1.47 -1.47z" fill="#006400"/><path d="M159.63 150.66l1.47 -1.47h1l1.47 1.47v1l-1.47 1.47h-1l-1.47 -1.47z" fill="#66CD00"/><path d="M81.33 156.62l1.47 -1.47h1l1.47 1.47v1l-1.47 1.47h-1l-1.47 -1.47z" fill="#CD0000"/><path d="M83.43 156.62l1.47 -1.47h1l1.47 1.47v1l-1.47 1.47h-1l-1.47 -1.47z" fill="#CD0000"/><path d="M85.53 156.62l1.47 -1.47h1l1.47 1.47v1l-1.47 1.47h-1l-1.47 -1.47z" fill="#CD0000"/><path d="M87.63 156.62l1.47 -1.47h1l1.47 1.47v1l-1.47 1.47h-1l-1.47 -1.47z" fill="#CD0000"/><path d="M100.13 156.62l1.47 -1.47h1l1.47 1.47v1l-1.47 1.47h-1l-1.47 -1.47z" fill="#CD0000"/><path d="M103 156.62l1.47 -1.47h1l1.47 1.47v1l-1.47 1.47h-1l-1.47 -1.47z" fill="#CD0000"/><path d="M105.86 156.62l1.47 -1.47h1l1.47 1.47v1l-1.47 1.47h-1l-1.47 -1.47z" fill="#CD0000"/><path d="M108.73 156.62l1.47 -1.47h1l1.47 1.47v1l-1.47 1.47h-1l-1.47 -1.47z" fill="#CD0000"/><path d="M119.03 156.62l1.47 -1.47h1l1.47 1.47v1l-1.47 1.47h-1l-1.47 -1.47z" fill="#66CD00"/><path d="M121.93 156.62l1.47 -1.47h1l1.47 1.47v1l-1.47 1.47h-1l-1.47 -1.47z" fill="#66CD00"/><path d="M125.33 156.62l1.47 -1.47h1l1.47 1.47v1l-1.47 1.47h-1l-1.47 -1.47z" fill="#CD0000"/><path d="M128.73 156.62l1.47 -1.47h1l1.47 1.47v1l-1.47 1.47h-1l-1.47 -1.47z" fill="#CD0000"/><path d="M155.03 156.62l1.47 -1.47h1l1.47 1.47v1l-1.47 1.47h-1l-1.47 -1.47z" fill="#66CD00"/><path d="M157.03 156.62l1.47 -1.47h1l1.47 1.47v1l-1.47 1.47h-1l-1.47 -1.47z" fill="#66CD00"/><path d="M159.03 156.62l1.47 -1.47h1l1.47 1.47v1l-1.47 1.47h-1l-1.47 -1.47z" fill="#66CD00"/><path d="M76.73 156.62l1.47 -1.47h1l1.47 1.47v1l-1.47 1.47h-1l-1.47 -1.47z" fill="#CD0000"/><path d="M92.13 156.62l1.47 -1.47h1l1.47 1.47v1l-1.47 1.47h-1l-1.47 -1.47z" fill="#CD0000"/><path d="M96.13 156.62l1.47 -1.47h1l1.47 1.47v1l-1.47 1.47h-1l-1.47 -1.47z" fill="#006400"/><path d="M112.73 156.62l1.47 -1.47h1l1.47 1.47v1l-1.47 1.47h-1l-1.47 -1.47z" fill="#006400"/><path d="M116.73 156.62l1.47 -1.47h1l1.47 1.47v1l-1.47 1.47h-1l-1.47 -1.47z" fill="#CD0000"/><path d="M131.03 156.62l1.47 -1.47h1l1.47 1.47v1l-1.47 1.47h-1l-1.47 -1.47z" fill="#66CD00"/><path d="M133.93 156.62l1.47 -1.47h1l1.47 1.47v1l-1.47 1.47h-1l-1.47 -1.47z" fill="#FFAE00"/><path d="M139.63 156.62l1.47 -1.47h1l1.47 1.47v1l-1.47 1.47h-1l-1.47 -1.47z" fill="#66CD00"/><path d="M146.43 156.62l1.47 -1.47h1l1.47 1.47v1l-1.47 1.47h-1l-1.47 -1.47z" fill="#66CD00"/><path d="M149.93 156.62l1.47 -1.47h1l1.47 1.47v1l-1.47 1.47h-1l-1.47 -1.47z" fill="#FFAE00"/><path d="M79.63 162.58l1.47 -1.47h1l1.47 1.47v1l-1.47 1.47h-1l-1.47 -1.47z" fill="#CD0000"/><path d="M82.48 162.58l1.47 -1.47h1l1.47 1.47v1l-1.47 1.47h-1l-1.47 -1.47z" fill="#CD0000"/><path d="M85.33 162.58l1.47 -1.47h1l1.47 1.47v1l-1.47 1.47h-1l-1.47 -1.47z" fill="#CD0000"/><path d="M95.63 162.58l1.47 -1.47h1l1.47 1.47v1l-1.47 1.47h-1l-1.47 -1.47z" fill="#CD0000"/><path d="M97.73 162.58l1.47 -1.47h1l1.47 1.47v1l-1.47 1.47h-1l-1.47 -1.47z" fill="#CD0000"/><path d="M99.83 162.58l1.47 -1.47h1l1.47 1.47v1l-1.47 1.47h-1l-1.47 -1.47z" fill="#CD0000"/><path d="M101.93 162.58l1.47 -1.47h1l1.47 1.47v1l-1.47 1.47h-1l-1.47 -1.47z" fill="#CD0000"/><path d="M107.03 162.58l1.47 -1.47h1l1.47 1.47v1l-1.47 1.47h-1l-1.47 -1.47z" fill="#CD0000"/><path d="M109.03 162.58l1.47 -1.47h1l1.47 1.47v1l-1.47 1.47h-1l-1.47 -1.47z" fill="#CD0000"/><path d="M111.03 162.58l1.47 -1.47h1l1.47 1.47v1l-1.47 1.47h-1l-1.47 -1.47z" fill="#CD0000"/><path d="M114.43 162.58l1.47 -1.47h1l1.47 1.47v1l-1.47 1.47h-1l-1.47 -1.47z" fill="#CD0000"/><path d="M117.01 162.58l1.47 -1.47h1l1.47 1.47v1l-1.47 1.47h-1l-1.47 -1.47z" fill="#CD0000"/><path d="M119.58 162.58l1.47 -1.47h1l1.47 1.47v1l-1.47 1.47h-1l-1.47 -1.47z" fill="#CD0000"/><path d="M122.16 162.58l1.47 -1.47h1l1.47 1.47v1l-1.47 1.47h-1l-1.47 -1.47z" fill="#CD0000"/><path d="M124.73 162.58l1.47 -1.47h1l1.47 1.47v1l-1.47 1.47h-1l-1.47 -1.47z" fill="#CD0000"/><path d="M90.43 162.58l1.47 -1.47h1l1.47 1.47v1l-1.47 1.47h-1l-1.47 -1.47z" fill="#CD0000"/><path d="M128.73 162.58l1.47 -1.47h1l1.47 1.47v1l-1.47 1.47h-1l-1.47 -1.47z" fill="#006400"/><path d="M151.63 162.58l1.47 -1.47h1l1.47 1.47v1l-1.47 1.47h-1l-1.47 -1.47z" fill="#66CD00"/><path d="M155.33 162.58l1.47 -1.47h1l1.47 1.47v1l-1.47 1.47h-1l-1.47 -1.47z" fill="#66CD00"/><path d="M159.03 162.58l1.47 -1.47h1l1.47 1.47v1l-1.47 1.47h-1l-1.47 -1.47z" fill="#66CD00"/><path d="M71.63 168.53l1.47 -1.47h1l1.47 1.47v1l-1.47 1.47h-1l-1.47 -1.47z" fill="#CD0000"/><path d="M74.48 168.53l1.47 -1.47h1l1.47 1.47v1l-1.47 1.47h-1l-1.47 -1.47z" fill="#CD0000"/><path d="M77.33 168.53l1.47 -1.47h1l1.47 1.47v1l-1.47 1.47h-1l-1.47 -1.47z" fill="#CD0000"/><path d="M79.63 168.53l1.47 -1.47h1l1.47 1.47v1l-1.47 1.47h-1l-1.47 -1.47z" fill="#CD0000"/><path d="M82.48 168.53l1.47 -1.47h1l1.47 1.47v1l-1.47 1.47h-1l-1.47 -1.47z" fill="#CD0000"/><path d="M85.33 168.53l1.47 -1.47h1l1.47 1.47v1l-1.47 1.47h-1l-1.47 -1.47z" fill="#CD0000"/><path d="M118.53 168.53l1.47 -1.47h1l1.47 1.47v1l-1.47 1.47h-1l-1.47 -1.47z" fill="#CD0000"/><path d="M120.03 168.53l1.47 -1.47h1l1.47 1.47v1l-1.47 1.47h-1l-1.47 -1.47z" fill="#CD0000"/><path d="M122.43 168.53l1.47 -1.47h1l1.47 1.47v1l-1.47 1.47h-1l-1.47 -1.47z" fill="#006400"/><path d="M125.93 168.53l1.47 -1.47h1l1.47 1.47v1l-1.47 1.47h-1l-1.47 -1.47z" fill="#006400"/><path d="M88.73 168.53l1.47 -1.47h1l1.47 1.47v1l-1.47 1.47h-1l-1.47 -1.47z" fill="#CD0000"/><path d="M93.93 168.53l1.47 -1.47h1l1.47 1.47v1l-1.47 1.47h-1l-1.47 -1.47z" fill="#CD0000"/><path d="M116.13 168.53l1.47 -1.47h1l1.47 1.47v1l-1.47 1.47h-1l-1.47 -1.47z" fill="#006400"/><path d="M142.43 168.53l1.47 -1.47h1l1.47 1.47v1l-1.47 1.47h-1l-1.47 -1.47z" fill="#66CD00"/><path d="M69.93 174.49l1.47 -1.47h1l1.47 1.47v1l-1.47 1.47h-1l-1.47 -1.47z" fill="#66CD00"/><path d="M78.43 174.49l1.47 -1.47h1l1.47 1.47v1l-1.47 1.47h-1l-1.47 -1.47z" fill="#66CD00"/><path d="M90.43 174.49l1.47 -1.47h1l1.47 1.47v1l-1.47 1.47h-1l-1.47 -1.47z" fill="#006400"/><path d="M66.43 174.49l1.47 -1.47h1l1.47 1.47v1l-1.47 1.47h-1l-1.47 -1.47z" fill="#CD0000"/><path d="M68.96 174.49l1.47 -1.47h1l1.47 1.47v1l-1.47 1.47h-1l-1.47 -1.47z" fill="#CD0000"/><path d="M71.48 174.49l1.47 -1.47h1l1.47 1.47v1l-1.47 1.47h-1l-1.47 -1.47z" fill="#CD0000"/><path d="M74.01 174.49l1.47 -1.47h1l1.47 1.47v1l-1.47 1.47h-1l-1.47 -1.47z" fill="#CD0000"/><path d="M76.53 174.49l1.47 -1.47h1l1.47 1.47v1l-1.47 1.47h-1l-1.47 -1.47z" fill="#CD0000"/><path d="M79.06 174.49l1.47 -1.47h1l1.47 1.47v1l-1.47 1.47h-1l-1.47 -1.47z" fill="#CD0000"/><path d="M81.58 174.49l1.47 -1.47h1l1.47 1.47v1l-1.47 1.47h-1l-1.47 -1.47z" fill="#CD0000"/><path d="M84.11 174.49l1.47 -1.47h1l1.47 1.47v1l-1.47 1.47h-1l-1.47 -1.47z" fill="#CD0000"/><path d="M86.63 174.49l1.47 -1.47h1l1.47 1.47v1l-1.47 1.47h-1l-1.47 -1.47z" fill="#CD0000"/><path d="M89.16 174.49l1.47 -1.47h1l1.47 1.47v1l-1.47 1.47h-1l-1.47 -1.47z" fill="#CD0000"/><path d="M91.68 174.49l1.47 -1.47h1l1.47 1.47v1l-1.47 1.47h-1l-1.47 -1.47z" fill="#CD0000"/><path d="M94.2 174.49l1.47 -1.47h1l1.47 1.47v1l-1.47 1.47h-1l-1.47 -1.47z" fill="#CD0000"/><path d="M96.73 174.49l1.47 -1.47h1l1.47 1.47v1l-1.47 1.47h-1l-1.47 -1.47z" fill="#CD0000"/><path d="M100.43 174.49l1.47 -1.47h1l1.47 1.47v1l-1.47 1.47h-1l-1.47 -1.47z" fill="#006400"/><path d="M103.83 174.49l1.47 -1.47h1l1.47 1.47v1l-1.47 1.47h-1l-1.47 -1.47z" fill="#CD0000"/><path d="M108.13 174.49l1.47 -1.47h1l1.47 1.47v1l-1.47 1.47h-1l-1.47 -1.47z" fill="#CD0000"/><path d="M116.73 174.49l1.47 -1.47h1l1.47 1.47v1l-1.47 1.47h-1l-1.47 -1.47z" fill="#CD0000"/><path d="M64.13 180.44l1.47 -1.47h1l1.47 1.47v1l-1.47 1.47h-1l-1.47 -1.47z" fill="#CD0000"/><path d="M66.67 180.44l1.47 -1.47h1l1.47 1.47v1l-1.47 1.47h-1l-1.47 -1.47z" fill="#CD0000"/><path d="M69.2 180.44l1.47 -1.47h1l1.47 1.47v1l-1.47 1.47h-1l-1.47 -1.47z" fill="#CD0000"/><path d="M71.74 180.44l1.47 -1.47h1l1.47 1.47v1l-1.47 1.47h-1l-1.47 -1.47z" fill="#CD0000"/><path d="M74.28 180.44l1.47 -1.47h1l1.47 1.47v1l-1.47 1.47h-1l-1.47 -1.47z" fill="#CD0000"/><path d="M76.81 180.44l1.47 -1.47h1l1.47 1.47v1l-1.47 1.47h-1l-1.47 -1.47z" fill="#CD0000"/><path d="M79.35 180.44l1.47 -1.47h1l1.47 1.47v1l-1.47 1.47h-1l-1.47 -1.47z" fill="#CD0000"/><path d="M81.88 180.44l1.47 -1.47h1l1.47 1.47v1l-1.47 1.47h-1l-1.47 -1.47z" fill="#CD0000"/><path d="M84.42 180.44l1.47 -1.47h1l1.47 1.47v1l-1.47 1.47h-1l-1.47 -1.47z" fill="#CD0000"/><path d="M86.96 180.44l1.47 -1.47h1l1.47 1.47v1l-1.47 1.47h-1l-1.47 -1.47z" fill="#CD0000"/><path d="M89.49 180.44l1.47 -1.47h1l1.47 1.47v1l-1.47 1.47h-1l-1.47 -1.47z" fill="#CD0000"/><path d="M92.03 180.44l1.47 -1.47h1l1.47 1.47v1l-1.47 1.47h-1l-1.47 -1.47z" fill="#CD0000"/><path d="M95.03 180.44l1.47 -1.47h1l1.47 1.47v1l-1.47 1.47h-1l-1.47 -1.47z" fill="#CD0000"/><path d="M115.03 180.44l1.47 -1.47h1l1.47 1.47v1l-1.47 1.47h-1l-1.47 -1.47z" fill="#66CD00"/><path d="M145.93 180.44l1.47 -1.47h1l1.47 1.47v1l-1.47 1.47h-1l-1.47 -1.47z" fill="#FFAE00"/></g>
<path d="M72.32 32.55V193.07M52.7 48.9H246.86M91.73 32.55V193.07M52.7 64.95H246.86M111.15 32.55V193.07M52.7 81.01H246.86M130.56 32.55V193.07M52.7 97.06H246.86M149.98 32.55V193.07M52.7 113.11H246.86M169.4 32.55V193.07M52.7 129.16H246.86M188.81 32.55V193.07M52.7 145.21H246.86M208.23 32.55V193.07M52.7 161.27H246.86M227.64 32.55V193.07M52.7 177.32H246.86" stroke="#c2c2c2" stroke-width="1.15" stroke-dasharray="1.25 2.18" fill="none"/>
<g clip-path="url(#c0)">
<path d="M52.7 193.07L246.86 32.55" stroke="#444" stroke-width="1.1" stroke-dasharray="5.2 3" fill="none"/>
<path d="M52.7 188.45L246.86 41.9" stroke="#303030" stroke-width="1.05" fill="none"/>
</g>
<rect x="173.9" y="126" width="72.96" height="67.07" fill="#fff" stroke="#222" stroke-width="1.2"/>
<path d="M179.9 139.2l3.1 -3.1l3.1 3.1l-3.1 3.1z" fill="#006400"/>
<text x="193.8" y="143.8" font-size="10.7">lope</text>
<path d="M179.9 152.5l3.1 -3.1l3.1 3.1l-3.1 3.1z" fill="#66CD00"/>
<text x="193.8" y="157.1" font-size="10.7">mabounie</text>
<path d="M179.9 165.8l3.1 -3.1l3.1 3.1l-3.1 3.1z" fill="#CD0000"/>
<text x="193.8" y="170.4" font-size="10.7">mondah</text>
<path d="M179.9 179.1l3.1 -3.1l3.1 3.1l-3.1 3.1z" fill="#FFAE00"/>
<text x="193.8" y="183.7" font-size="10.7">rabi</text>
<rect x="52.7" y="32.55" width="194.16" height="160.52" fill="none" stroke="#1e1e1e" stroke-width="1.25" stroke-linejoin="round"/>
<path d="M59.89 193.07V199.57M52.7 187.12H46.2M95.85 193.07V199.57M52.7 157.4H46.2M131.8 193.07V199.57M52.7 127.67H46.2M167.76 193.07V199.57M52.7 97.95H46.2M203.71 193.07V199.57M52.7 68.22H46.2M239.67 193.07V199.57M52.7 38.5H46.2" stroke="#1e1e1e" stroke-width="1.25" fill="none"/>
<text transform="translate(59.89 218.47) scale(0.93 1.06)" font-size="11.3" text-anchor="middle">0</text>
<text transform="translate(37.1 187.12) rotate(-90) scale(0.93 1.06)" font-size="11.3" text-anchor="middle">0</text>
<text transform="translate(95.85 218.47) scale(0.93 1.06)" font-size="11.3" text-anchor="middle">5</text>
<text transform="translate(37.1 157.4) rotate(-90) scale(0.93 1.06)" font-size="11.3" text-anchor="middle">5</text>
<text transform="translate(131.8 218.47) scale(0.93 1.06)" font-size="11.3" text-anchor="middle">10</text>
<text transform="translate(37.1 127.67) rotate(-90) scale(0.93 1.06)" font-size="11.3" text-anchor="middle">10</text>
<text transform="translate(167.76 218.47) scale(0.93 1.06)" font-size="11.3" text-anchor="middle">15</text>
<text transform="translate(37.1 97.95) rotate(-90) scale(0.93 1.06)" font-size="11.3" text-anchor="middle">15</text>
<text transform="translate(203.71 218.47) scale(0.93 1.06)" font-size="11.3" text-anchor="middle">20</text>
<text transform="translate(37.1 68.22) rotate(-90) scale(0.93 1.06)" font-size="11.3" text-anchor="middle">20</text>
<text transform="translate(239.67 218.47) scale(0.93 1.06)" font-size="11.3" text-anchor="middle">25</text>
<text transform="translate(37.1 38.5) rotate(-90) scale(0.93 1.06)" font-size="11.3" text-anchor="middle">25</text>
<text x="149.78" y="244.87" font-size="11.3" text-anchor="middle">Predicted No. species/0.04 ha</text>
<text transform="translate(10.5 112.81) rotate(-90)" font-size="11.3" text-anchor="middle">Measured No. species/0.04 ha</text>
<text transform="translate(149.78 10.45) scale(1 1.1)" font-size="13.65" font-weight="bold" text-anchor="middle">Richness, Resolution: 0.04 ha</text>
<clipPath id="c1"><rect x="330.7" y="32.55" width="193.8" height="160.52"/></clipPath>
<g clip-path="url(#c1)"><path d="M359.03 186.2l1.47 -1.47h1l1.47 1.47v1l-1.47 1.47h-1l-1.47 -1.47z" fill="#006400"/><path d="M373.03 186.2l1.47 -1.47h1l1.47 1.47v1l-1.47 1.47h-1l-1.47 -1.47z" fill="#006400"/><path d="M381.03 186.2l1.47 -1.47h1l1.47 1.47v1l-1.47 1.47h-1l-1.47 -1.47z" fill="#006400"/><path d="M354.53 186.2l1.47 -1.47h1l1.47 1.47v1l-1.47 1.47h-1l-1.47 -1.47z" fill="#CD0000"/><path d="M356.53 186.2l1.47 -1.47h1l1.47 1.47v1l-1.47 1.47h-1l-1.47 -1.47z" fill="#CD0000"/><path d="M358.53 186.2l1.47 -1.47h1l1.47 1.47v1l-1.47 1.47h-1l-1.47 -1.47z" fill="#CD0000"/><path d="M360.53 186.2l1.47 -1.47h1l1.47 1.47v1l-1.47 1.47h-1l-1.47 -1.47z" fill="#CD0000"/><path d="M362.53 186.2l1.47 -1.47h1l1.47 1.47v1l-1.47 1.47h-1l-1.47 -1.47z" fill="#CD0000"/><path d="M364.53 186.2l1.47 -1.47h1l1.47 1.47v1l-1.47 1.47h-1l-1.47 -1.47z" fill="#CD0000"/><path d="M366.53 186.2l1.47 -1.47h1l1.47 1.47v1l-1.47 1.47h-1l-1.47 -1.47z" fill="#CD0000"/><path d="M368.53 186.2l1.47 -1.47h1l1.47 1.47v1l-1.47 1.47h-1l-1.47 -1.47z" fill="#CD0000"/><path d="M370.53 186.2l1.47 -1.47h1l1.47 1.47v1l-1.47 1.47h-1l-1.47 -1.47z" fill="#CD0000"/><path d="M372.53 186.2l1.47 -1.47h1l1.47 1.47v1l-1.47 1.47h-1l-1.47 -1.47z" fill="#CD0000"/><path d="M374.53 186.2l1.47 -1.47h1l1.47 1.47v1l-1.47 1.47h-1l-1.47 -1.47z" fill="#CD0000"/><path d="M376.53 186.2l1.47 -1.47h1l1.47 1.47v1l-1.47 1.47h-1l-1.47 -1.47z" fill="#CD0000"/><path d="M378.53 186.2l1.47 -1.47h1l1.47 1.47v1l-1.47 1.47h-1l-1.47 -1.47z" fill="#CD0000"/><path d="M380.53 186.2l1.47 -1.47h1l1.47 1.47v1l-1.47 1.47h-1l-1.47 -1.47z" fill="#CD0000"/><path d="M382.53 186.2l1.47 -1.47h1l1.47 1.47v1l-1.47 1.47h-1l-1.47 -1.47z" fill="#CD0000"/><path d="M384.53 186.2l1.47 -1.47h1l1.47 1.47v1l-1.47 1.47h-1l-1.47 -1.47z" fill="#CD0000"/><path d="M388.73 186.2l1.47 -1.47h1l1.47 1.47v1l-1.47 1.47h-1l-1.47 -1.47z" fill="#CD0000"/><path d="M417.13 186.1l1.47 -1.47h1l1.47 1.47v1l-1.47 1.47h-1l-1.47 -1.47z" fill="#66CD00"/><path d="M445.73 186.4l1.47 -1.47h1l1.47 1.47v1l-1.47 1.47h-1l-1.47 -1.47z" fill="#FFAE00"/><path d="M413.59 123.82l1.47 -1.47h1l1.47 1.47v1l-1.47 1.47h-1l-1.47 -1.47z" fill="#006400"/><path d="M419.06 123.26l1.47 -1.47h1l1.47 1.47v1l-1.47 1.47h-1l-1.47 -1.47z" fill="#006400"/><path d="M422.39 122.23l1.47 -1.47h1l1.47 1.47v1l-1.47 1.47h-1l-1.47 -1.47z" fill="#006400"/><path d="M425.25 122.96l1.47 -1.47h1l1.47 1.47v1l-1.47 1.47h-1l-1.47 -1.47z" fill="#006400"/><path d="M414.5 125.54l1.47 -1.47h1l1.47 1.47v1l-1.47 1.47h-1l-1.47 -1.47z" fill="#006400"/><path d="M417.84 124.78l1.47 -1.47h1l1.47 1.47v1l-1.47 1.47h-1l-1.47 -1.47z" fill="#CD0000"/><path d="M420.61 126.45l1.47 -1.47h1l1.47 1.47v1l-1.47 1.47h-1l-1.47 -1.47z" fill="#CD0000"/><path d="M423.25 125.86l1.47 -1.47h1l1.47 1.47v1l-1.47 1.47h-1l-1.47 -1.47z" fill="#CD0000"/><path d="M426.55 125.65l1.47 -1.47h1l1.47 1.47v1l-1.47 1.47h-1l-1.47 -1.47z" fill="#006400"/><path d="M411.14 128.07l1.47 -1.47h1l1.47 1.47v1l-1.47 1.47h-1l-1.47 -1.47z" fill="#006400"/><path d="M414.09 127.64l1.47 -1.47h1l1.47 1.47v1l-1.47 1.47h-1l-1.47 -1.47z" fill="#006400"/><path d="M417.3 127.56l1.47 -1.47h1l1.47 1.47v1l-1.47 1.47h-1l-1.47 -1.47z" fill="#006400"/><path d="M420.11 127.46l1.47 -1.47h1l1.47 1.47v1l-1.47 1.47h-1l-1.47 -1.47z" fill="#006400"/><path d="M424.12 128.13l1.47 -1.47h1l1.47 1.47v1l-1.47 1.47h-1l-1.47 -1.47z" fill="#CD0000"/><path d="M428.08 127.6l1.47 -1.47h1l1.47 1.47v1l-1.47 1.47h-1l-1.47 -1.47z" fill="#006400"/><path d="M429.23 128.27l1.47 -1.47h1l1.47 1.47v1l-1.47 1.47h-1l-1.47 -1.47z" fill="#006400"/><path d="M412.17 131.81l1.47 -1.47h1l1.47 1.47v1l-1.47 1.47h-1l-1.47 -1.47z" fill="#006400"/><path d="M414.88 131.25l1.47 -1.47h1l1.47 1.47v1l-1.47 1.47h-1l-1.47 -1.47z" fill="#CD0000"/><path d="M417.8 131.65l1.47 -1.47h1l1.47 1.47v1l-1.47 1.47h-1l-1.47 -1.47z" fill="#006400"/><path d="M419.64 130.11l1.47 -1.47h1l1.47 1.47v1l-1.47 1.47h-1l-1.47 -1.47z" fill="#006400"/><path d="M421.58 130.32l1.47 -1.47h1l1.47 1.47v1l-1.47 1.47h-1l-1.47 -1.47z" fill="#006400"/><path d="M424.15 129.9l1.47 -1.47h1l1.47 1.47v1l-1.47 1.47h-1l-1.47 -1.47z" fill="#006400"/><path d="M409.78 133.23l1.47 -1.47h1l1.47 1.47v1l-1.47 1.47h-1l-1.47 -1.47z" fill="#CD0000"/><path d="M413.67 133.43l1.47 -1.47h1l1.47 1.47v1l-1.47 1.47h-1l-1.47 -1.47z" fill="#006400"/><path d="M414.49 133.19l1.47 -1.47h1l1.47 1.47v1l-1.47 1.47h-1l-1.47 -1.47z" fill="#CD0000"/><path d="M420.54 132.79l1.47 -1.47h1l1.47 1.47v1l-1.47 1.47h-1l-1.47 -1.47z" fill="#006400"/><path d="M426.08 133.02l1.47 -1.47h1l1.47 1.47v1l-1.47 1.47h-1l-1.47 -1.47z" fill="#006400"/><path d="M428.83 133.57l1.47 -1.47h1l1.47 1.47v1l-1.47 1.47h-1l-1.47 -1.47z" fill="#006400"/><path d="M413.22 136.74l1.47 -1.47h1l1.47 1.47v1l-1.47 1.47h-1l-1.47 -1.47z" fill="#006400"/><path d="M415.25 135.81l1.47 -1.47h1l1.47 1.47v1l-1.47 1.47h-1l-1.47 -1.47z" fill="#006400"/><path d="M417.37 135.62l1.47 -1.47h1l1.47 1.47v1l-1.47 1.47h-1l-1.47 -1.47z" fill="#66CD00"/><path d="M423.92 135.83l1.47 -1.47h1l1.47 1.47v1l-1.47 1.47h-1l-1.47 -1.47z" fill="#006400"/><path d="M425 135.51l1.47 -1.47h1l1.47 1.47v1l-1.47 1.47h-1l-1.47 -1.47z" fill="#CD0000"/><path d="M428.89 136.06l1.47 -1.47h1l1.47 1.47v1l-1.47 1.47h-1l-1.47 -1.47z" fill="#CD0000"/><path d="M412.82 139.2l1.47 -1.47h1l1.47 1.47v1l-1.47 1.47h-1l-1.47 -1.47z" fill="#006400"/><path d="M418.39 138.49l1.47 -1.47h1l1.47 1.47v1l-1.47 1.47h-1l-1.47 -1.47z" fill="#66CD00"/><path d="M420.5 138.04l1.47 -1.47h1l1.47 1.47v1l-1.47 1.47h-1l-1.47 -1.47z" fill="#006400"/><path d="M423.46 139.31l1.47 -1.47h1l1.47 1.47v1l-1.47 1.47h-1l-1.47 -1.47z" fill="#CD0000"/><path d="M426.21 139.01l1.47 -1.47h1l1.47 1.47v1l-1.47 1.47h-1l-1.47 -1.47z" fill="#006400"/><path d="M411.17 142.17l1.47 -1.47h1l1.47 1.47v1l-1.47 1.47h-1l-1.47 -1.47z" fill="#CD0000"/><path d="M414.37 140.72l1.47 -1.47h1l1.47 1.47v1l-1.47 1.47h-1l-1.47 -1.47z" fill="#006400"/><path d="M415.8 141.47l1.47 -1.47h1l1.47 1.47v1l-1.47 1.47h-1l-1.47 -1.47z" fill="#006400"/><path d="M418.18 142.12l1.47 -1.47h1l1.47 1.47v1l-1.47 1.47h-1l-1.47 -1.47z" fill="#006400"/><path d="M421.69 142.11l1.47 -1.47h1l1.47 1.47v1l-1.47 1.47h-1l-1.47 -1.47z" fill="#CD0000"/><path d="M424.12 141.36l1.47 -1.47h1l1.47 1.47v1l-1.47 1.47h-1l-1.47 -1.47z" fill="#006400"/><path d="M426.6 140.67l1.47 -1.47h1l1.47 1.47v1l-1.47 1.47h-1l-1.47 -1.47z" fill="#CD0000"/><path d="M428.66 141.25l1.47 -1.47h1l1.47 1.47v1l-1.47 1.47h-1l-1.47 -1.47z" fill="#006400"/><path d="M413.45 143.11l1.47 -1.47h1l1.47 1.47v1l-1.47 1.47h-1l-1.47 -1.47z" fill="#006400"/><path d="M415.03 144.44l1.47 -1.47h1l1.47 1.47v1l-1.47 1.47h-1l-1.47 -1.47z" fill="#006400"/><path d="M418.6 144.72l1.47 -1.47h1l1.47 1.47v1l-1.47 1.47h-1l-1.47 -1.47z" fill="#006400"/><path d="M420.69 143.92l1.47 -1.47h1l1.47 1.47v1l-1.47 1.47h-1l-1.47 -1.47z" fill="#006400"/><path d="M414.1 145.65l1.47 -1.47h1l1.47 1.47v1l-1.47 1.47h-1l-1.47 -1.47z" fill="#006400"/><path d="M418.72 146.93l1.47 -1.47h1l1.47 1.47v1l-1.47 1.47h-1l-1.47 -1.47z" fill="#006400"/><path d="M422.78 147.44l1.47 -1.47h1l1.47 1.47v1l-1.47 1.47h-1l-1.47 -1.47z" fill="#66CD00"/><path d="M427.88 145.82l1.47 -1.47h1l1.47 1.47v1l-1.47 1.47h-1l-1.47 -1.47z" fill="#006400"/><path d="M412.97 148.98l1.47 -1.47h1l1.47 1.47v1l-1.47 1.47h-1l-1.47 -1.47z" fill="#006400"/><path d="M415.71 149.12l1.47 -1.47h1l1.47 1.47v1l-1.47 1.47h-1l-1.47 -1.47z" fill="#FFAE00"/><path d="M418.63 150.04l1.47 -1.47h1l1.47 1.47v1l-1.47 1.47h-1l-1.47 -1.47z" fill="#006400"/><path d="M419.74 149.66l1.47 -1.47h1l1.47 1.47v1l-1.47 1.47h-1l-1.47 -1.47z" fill="#006400"/><path d="M416.63 152.41l1.47 -1.47h1l1.47 1.47v1l-1.47 1.47h-1l-1.47 -1.47z" fill="#CD0000"/><path d="M419.97 151.38l1.47 -1.47h1l1.47 1.47v1l-1.47 1.47h-1l-1.47 -1.47z" fill="#66CD00"/><path d="M422.2 150.96l1.47 -1.47h1l1.47 1.47v1l-1.47 1.47h-1l-1.47 -1.47z" fill="#006400"/><path d="M424.48 151.02l1.47 -1.47h1l1.47 1.47v1l-1.47 1.47h-1l-1.47 -1.47z" fill="#006400"/><path d="M427.49 151.31l1.47 -1.47h1l1.47 1.47v1l-1.47 1.47h-1l-1.47 -1.47z" fill="#006400"/><path d="M414.96 154.77l1.47 -1.47h1l1.47 1.47v1l-1.47 1.47h-1l-1.47 -1.47z" fill="#006400"/><path d="M418.48 155.17l1.47 -1.47h1l1.47 1.47v1l-1.47 1.47h-1l-1.47 -1.47z" fill="#CD0000"/><path d="M423.52 154.31l1.47 -1.47h1l1.47 1.47v1l-1.47 1.47h-1l-1.47 -1.47z" fill="#FFAE00"/><path d="M426.02 154.96l1.47 -1.47h1l1.47 1.47v1l-1.47 1.47h-1l-1.47 -1.47z" fill="#CD0000"/><path d="M420.31 156.46l1.47 -1.47h1l1.47 1.47v1l-1.47 1.47h-1l-1.47 -1.47z" fill="#006400"/><path d="M422.49 156.22l1.47 -1.47h1l1.47 1.47v1l-1.47 1.47h-1l-1.47 -1.47z" fill="#006400"/><path d="M451.39 98.39l1.47 -1.47h1l1.47 1.47v1l-1.47 1.47h-1l-1.47 -1.47z" fill="#CD0000"/><path d="M447.63 100.44l1.47 -1.47h1l1.47 1.47v1l-1.47 1.47h-1l-1.47 -1.47z" fill="#CD0000"/><path d="M450.17 100.13l1.47 -1.47h1l1.47 1.47v1l-1.47 1.47h-1l-1.47 -1.47z" fill="#CD0000"/><path d="M452.33 100.89l1.47 -1.47h1l1.47 1.47v1l-1.47 1.47h-1l-1.47 -1.47z" fill="#006400"/><path d="M408.4 103.49l1.47 -1.47h1l1.47 1.47v1l-1.47 1.47h-1l-1.47 -1.47z" fill="#CD0000"/><path d="M420.94 103.4l1.47 -1.47h1l1.47 1.47v1l-1.47 1.47h-1l-1.47 -1.47z" fill="#66CD00"/><path d="M422.98 102.58l1.47 -1.47h1l1.47 1.47v1l-1.47 1.47h-1l-1.47 -1.47z" fill="#66CD00"/><path d="M425.76 102.29l1.47 -1.47h1l1.47 1.47v1l-1.47 1.47h-1l-1.47 -1.47z" fill="#CD0000"/><path d="M427.98 103.1l1.47 -1.47h1l1.47 1.47v1l-1.47 1.47h-1l-1.47 -1.47z" fill="#66CD00"/><path d="M433.56 102.34l1.47 -1.47h1l1.47 1.47v1l-1.47 1.47h-1l-1.47 -1.47z" fill="#006400"/><path d="M436.66 102.32l1.47 -1.47h1l1.47 1.47v1l-1.47 1.47h-1l-1.47 -1.47z" fill="#66CD00"/><path d="M438.07 101.8l1.47 -1.47h1l1.47 1.47v1l-1.47 1.47h-1l-1.47 -1.47z" fill="#66CD00"/><path d="M442.35 102.1l1.47 -1.47h1l1.47 1.47v1l-1.47 1.47h-1l-1.47 -1.47z" fill="#CD0000"/><path d="M447.25 103.22l1.47 -1.47h1l1.47 1.47v1l-1.47 1.47h-1l-1.47 -1.47z" fill="#006400"/><path d="M449.86 102.7l1.47 -1.47h1l1.47 1.47v1l-1.47 1.47h-1l-1.47 -1.47z" fill="#66CD00"/><path d="M451.94 102.5l1.47 -1.47h1l1.47 1.47v1l-1.47 1.47h-1l-1.47 -1.47z" fill="#CD0000"/><path d="M455.73 102.54l1.47 -1.47h1l1.47 1.47v1l-1.47 1.47h-1l-1.47 -1.47z" fill="#66CD00"/><path d="M407.49 104.7l1.47 -1.47h1l1.47 1.47v1l-1.47 1.47h-1l-1.47 -1.47z" fill="#66CD00"/><path d="M409.01 104.42l1.47 -1.47h1l1.47 1.47v1l-1.47 1.47h-1l-1.47 -1.47z" fill="#006400"/><path d="M415.67 105l1.47 -1.47h1l1.47 1.47v1l-1.47 1.47h-1l-1.47 -1.47z" fill="#66CD00"/><path d="M416.36 104.78l1.47 -1.47h1l1.47 1.47v1l-1.47 1.47h-1l-1.47 -1.47z" fill="#66CD00"/><path d="M422.68 104.93l1.47 -1.47h1l1.47 1.47v1l-1.47 1.47h-1l-1.47 -1.47z" fill="#CD0000"/><path d="M424.43 104.78l1.47 -1.47h1l1.47 1.47v1l-1.47 1.47h-1l-1.47 -1.47z" fill="#66CD00"/><path d="M428.11 104.35l1.47 -1.47h1l1.47 1.47v1l-1.47 1.47h-1l-1.47 -1.47z" fill="#CD0000"/><path d="M430.4 104.53l1.47 -1.47h1l1.47 1.47v1l-1.47 1.47h-1l-1.47 -1.47z" fill="#66CD00"/><path d="M435.37 105.85l1.47 -1.47h1l1.47 1.47v1l-1.47 1.47h-1l-1.47 -1.47z" fill="#66CD00"/><path d="M437.6 105.89l1.47 -1.47h1l1.47 1.47v1l-1.47 1.47h-1l-1.47 -1.47z" fill="#CD0000"/><path d="M444.17 104.32l1.47 -1.47h1l1.47 1.47v1l-1.47 1.47h-1l-1.47 -1.47z" fill="#CD0000"/><path d="M447.54 105.98l1.47 -1.47h1l1.47 1.47v1l-1.47 1.47h-1l-1.47 -1.47z" fill="#CD0000"/><path d="M450.21 105.01l1.47 -1.47h1l1.47 1.47v1l-1.47 1.47h-1l-1.47 -1.47z" fill="#66CD00"/><path d="M454.97 104.71l1.47 -1.47h1l1.47 1.47v1l-1.47 1.47h-1l-1.47 -1.47z" fill="#66CD00"/><path d="M457.45 105.5l1.47 -1.47h1l1.47 1.47v1l-1.47 1.47h-1l-1.47 -1.47z" fill="#66CD00"/><path d="M406.09 107.8l1.47 -1.47h1l1.47 1.47v1l-1.47 1.47h-1l-1.47 -1.47z" fill="#66CD00"/><path d="M409.06 108.52l1.47 -1.47h1l1.47 1.47v1l-1.47 1.47h-1l-1.47 -1.47z" fill="#006400"/><path d="M411.59 107.07l1.47 -1.47h1l1.47 1.47v1l-1.47 1.47h-1l-1.47 -1.47z" fill="#006400"/><path d="M414.55 107.21l1.47 -1.47h1l1.47 1.47v1l-1.47 1.47h-1l-1.47 -1.47z" fill="#CD0000"/><path d="M416.99 107.44l1.47 -1.47h1l1.47 1.47v1l-1.47 1.47h-1l-1.47 -1.47z" fill="#CD0000"/><path d="M419.99 107.05l1.47 -1.47h1l1.47 1.47v1l-1.47 1.47h-1l-1.47 -1.47z" fill="#66CD00"/><path d="M421.48 107.97l1.47 -1.47h1l1.47 1.47v1l-1.47 1.47h-1l-1.47 -1.47z" fill="#CD0000"/><path d="M424.62 107.61l1.47 -1.47h1l1.47 1.47v1l-1.47 1.47h-1l-1.47 -1.47z" fill="#006400"/><path d="M426.26 108.24l1.47 -1.47h1l1.47 1.47v1l-1.47 1.47h-1l-1.47 -1.47z" fill="#66CD00"/><path d="M431.63 106.97l1.47 -1.47h1l1.47 1.47v1l-1.47 1.47h-1l-1.47 -1.47z" fill="#66CD00"/><path d="M434.47 108.5l1.47 -1.47h1l1.47 1.47v1l-1.47 1.47h-1l-1.47 -1.47z" fill="#66CD00"/><path d="M436.07 108.55l1.47 -1.47h1l1.47 1.47v1l-1.47 1.47h-1l-1.47 -1.47z" fill="#66CD00"/><path d="M445 107.26l1.47 -1.47h1l1.47 1.47v1l-1.47 1.47h-1l-1.47 -1.47z" fill="#006400"/><path d="M447.13 106.66l1.47 -1.47h1l1.47 1.47v1l-1.47 1.47h-1l-1.47 -1.47z" fill="#66CD00"/><path d="M448.89 107.26l1.47 -1.47h1l1.47 1.47v1l-1.47 1.47h-1l-1.47 -1.47z" fill="#66CD00"/><path d="M453.39 108.53l1.47 -1.47h1l1.47 1.47v1l-1.47 1.47h-1l-1.47 -1.47z" fill="#66CD00"/><path d="M406.16 110.94l1.47 -1.47h1l1.47 1.47v1l-1.47 1.47h-1l-1.47 -1.47z" fill="#66CD00"/><path d="M409.71 109.16l1.47 -1.47h1l1.47 1.47v1l-1.47 1.47h-1l-1.47 -1.47z" fill="#CD0000"/><path d="M411.94 109.18l1.47 -1.47h1l1.47 1.47v1l-1.47 1.47h-1l-1.47 -1.47z" fill="#66CD00"/><path d="M414.75 109.61l1.47 -1.47h1l1.47 1.47v1l-1.47 1.47h-1l-1.47 -1.47z" fill="#006400"/><path d="M419.15 109.62l1.47 -1.47h1l1.47 1.47v1l-1.47 1.47h-1l-1.47 -1.47z" fill="#66CD00"/><path d="M420.96 109.11l1.47 -1.47h1l1.47 1.47v1l-1.47 1.47h-1l-1.47 -1.47z" fill="#006400"/><path d="M424.18 110.99l1.47 -1.47h1l1.47 1.47v1l-1.47 1.47h-1l-1.47 -1.47z" fill="#66CD00"/><path d="M428.68 109.6l1.47 -1.47h1l1.47 1.47v1l-1.47 1.47h-1l-1.47 -1.47z" fill="#CD0000"/><path d="M432.27 109.47l1.47 -1.47h1l1.47 1.47v1l-1.47 1.47h-1l-1.47 -1.47z" fill="#CD0000"/><path d="M434.56 110.65l1.47 -1.47h1l1.47 1.47v1l-1.47 1.47h-1l-1.47 -1.47z" fill="#66CD00"/><path d="M436.05 109.82l1.47 -1.47h1l1.47 1.47v1l-1.47 1.47h-1l-1.47 -1.47z" fill="#66CD00"/><path d="M438.31 110.61l1.47 -1.47h1l1.47 1.47v1l-1.47 1.47h-1l-1.47 -1.47z" fill="#66CD00"/><path d="M440.48 110.21l1.47 -1.47h1l1.47 1.47v1l-1.47 1.47h-1l-1.47 -1.47z" fill="#006400"/><path d="M444.68 111.08l1.47 -1.47h1l1.47 1.47v1l-1.47 1.47h-1l-1.47 -1.47z" fill="#66CD00"/><path d="M445.6 110.1l1.47 -1.47h1l1.47 1.47v1l-1.47 1.47h-1l-1.47 -1.47z" fill="#CD0000"/><path d="M448.38 109.93l1.47 -1.47h1l1.47 1.47v1l-1.47 1.47h-1l-1.47 -1.47z" fill="#CD0000"/><path d="M451.91 110.79l1.47 -1.47h1l1.47 1.47v1l-1.47 1.47h-1l-1.47 -1.47z" fill="#66CD00"/><path d="M454.59 109.69l1.47 -1.47h1l1.47 1.47v1l-1.47 1.47h-1l-1.47 -1.47z" fill="#66CD00"/><path d="M406.72 112.76l1.47 -1.47h1l1.47 1.47v1l-1.47 1.47h-1l-1.47 -1.47z" fill="#66CD00"/><path d="M409.43 112.61l1.47 -1.47h1l1.47 1.47v1l-1.47 1.47h-1l-1.47 -1.47z" fill="#CD0000"/><path d="M411.26 113.58l1.47 -1.47h1l1.47 1.47v1l-1.47 1.47h-1l-1.47 -1.47z" fill="#CD0000"/><path d="M415.03 112.19l1.47 -1.47h1l1.47 1.47v1l-1.47 1.47h-1l-1.47 -1.47z" fill="#66CD00"/><path d="M420.69 113.33l1.47 -1.47h1l1.47 1.47v1l-1.47 1.47h-1l-1.47 -1.47z" fill="#66CD00"/><path d="M424 113.49l1.47 -1.47h1l1.47 1.47v1l-1.47 1.47h-1l-1.47 -1.47z" fill="#CD0000"/><path d="M426.19 112.04l1.47 -1.47h1l1.47 1.47v1l-1.47 1.47h-1l-1.47 -1.47z" fill="#66CD00"/><path d="M427.86 112.11l1.47 -1.47h1l1.47 1.47v1l-1.47 1.47h-1l-1.47 -1.47z" fill="#CD0000"/><path d="M430.36 111.62l1.47 -1.47h1l1.47 1.47v1l-1.47 1.47h-1l-1.47 -1.47z" fill="#CD0000"/><path d="M432.82 112.22l1.47 -1.47h1l1.47 1.47v1l-1.47 1.47h-1l-1.47 -1.47z" fill="#CD0000"/><path d="M436.04 111.73l1.47 -1.47h1l1.47 1.47v1l-1.47 1.47h-1l-1.47 -1.47z" fill="#66CD00"/><path d="M438.55 112.88l1.47 -1.47h1l1.47 1.47v1l-1.47 1.47h-1l-1.47 -1.47z" fill="#66CD00"/><path d="M441.34 112.42l1.47 -1.47h1l1.47 1.47v1l-1.47 1.47h-1l-1.47 -1.47z" fill="#66CD00"/><path d="M444.35 112.22l1.47 -1.47h1l1.47 1.47v1l-1.47 1.47h-1l-1.47 -1.47z" fill="#66CD00"/><path d="M448.18 111.99l1.47 -1.47h1l1.47 1.47v1l-1.47 1.47h-1l-1.47 -1.47z" fill="#66CD00"/><path d="M449.96 113.4l1.47 -1.47h1l1.47 1.47v1l-1.47 1.47h-1l-1.47 -1.47z" fill="#CD0000"/><path d="M453.26 113.37l1.47 -1.47h1l1.47 1.47v1l-1.47 1.47h-1l-1.47 -1.47z" fill="#66CD00"/><path d="M454.98 112.7l1.47 -1.47h1l1.47 1.47v1l-1.47 1.47h-1l-1.47 -1.47z" fill="#006400"/><path d="M409.77 115.08l1.47 -1.47h1l1.47 1.47v1l-1.47 1.47h-1l-1.47 -1.47z" fill="#006400"/><path d="M416.5 115.07l1.47 -1.47h1l1.47 1.47v1l-1.47 1.47h-1l-1.47 -1.47z" fill="#006400"/><path d="M417.83 115.91l1.47 -1.47h1l1.47 1.47v1l-1.47 1.47h-1l-1.47 -1.47z" fill="#CD0000"/><path d="M419.87 115.67l1.47 -1.47h1l1.47 1.47v1l-1.47 1.47h-1l-1.47 -1.47z" fill="#66CD00"/><path d="M423.75 115.76l1.47 -1.47h1l1.47 1.47v1l-1.47 1.47h-1l-1.47 -1.47z" fill="#66CD00"/><path d="M425.35 115.14l1.47 -1.47h1l1.47 1.47v1l-1.47 1.47h-1l-1.47 -1.47z" fill="#66CD00"/><path d="M429.63 115.22l1.47 -1.47h1l1.47 1.47v1l-1.47 1.47h-1l-1.47 -1.47z" fill="#66CD00"/><path d="M433.73 114.34l1.47 -1.47h1l1.47 1.47v1l-1.47 1.47h-1l-1.47 -1.47z" fill="#CD0000"/><path d="M435.81 114.71l1.47 -1.47h1l1.47 1.47v1l-1.47 1.47h-1l-1.47 -1.47z" fill="#CD0000"/><path d="M437.9 115.42l1.47 -1.47h1l1.47 1.47v1l-1.47 1.47h-1l-1.47 -1.47z" fill="#CD0000"/><path d="M439.6 115.34l1.47 -1.47h1l1.47 1.47v1l-1.47 1.47h-1l-1.47 -1.47z" fill="#66CD00"/><path d="M443.58 115.66l1.47 -1.47h1l1.47 1.47v1l-1.47 1.47h-1l-1.47 -1.47z" fill="#66CD00"/><path d="M445.5 114.31l1.47 -1.47h1l1.47 1.47v1l-1.47 1.47h-1l-1.47 -1.47z" fill="#CD0000"/><path d="M447.24 114.98l1.47 -1.47h1l1.47 1.47v1l-1.47 1.47h-1l-1.47 -1.47z" fill="#66CD00"/><path d="M450.83 114.26l1.47 -1.47h1l1.47 1.47v1l-1.47 1.47h-1l-1.47 -1.47z" fill="#CD0000"/><path d="M453.08 114.21l1.47 -1.47h1l1.47 1.47v1l-1.47 1.47h-1l-1.47 -1.47z" fill="#66CD00"/><path d="M413.3 116.93l1.47 -1.47h1l1.47 1.47v1l-1.47 1.47h-1l-1.47 -1.47z" fill="#006400"/><path d="M414.1 117.3l1.47 -1.47h1l1.47 1.47v1l-1.47 1.47h-1l-1.47 -1.47z" fill="#66CD00"/><path d="M418.27 117.15l1.47 -1.47h1l1.47 1.47v1l-1.47 1.47h-1l-1.47 -1.47z" fill="#66CD00"/><path d="M419.98 118.44l1.47 -1.47h1l1.47 1.47v1l-1.47 1.47h-1l-1.47 -1.47z" fill="#66CD00"/><path d="M422.48 117.24l1.47 -1.47h1l1.47 1.47v1l-1.47 1.47h-1l-1.47 -1.47z" fill="#66CD00"/><path d="M424.3 118.47l1.47 -1.47h1l1.47 1.47v1l-1.47 1.47h-1l-1.47 -1.47z" fill="#006400"/><path d="M426.81 118.17l1.47 -1.47h1l1.47 1.47v1l-1.47 1.47h-1l-1.47 -1.47z" fill="#CD0000"/><path d="M434.18 118.59l1.47 -1.47h1l1.47 1.47v1l-1.47 1.47h-1l-1.47 -1.47z" fill="#66CD00"/><path d="M440.13 117.32l1.47 -1.47h1l1.47 1.47v1l-1.47 1.47h-1l-1.47 -1.47z" fill="#CD0000"/><path d="M441.83 118.09l1.47 -1.47h1l1.47 1.47v1l-1.47 1.47h-1l-1.47 -1.47z" fill="#CD0000"/><path d="M447.64 117.93l1.47 -1.47h1l1.47 1.47v1l-1.47 1.47h-1l-1.47 -1.47z" fill="#66CD00"/><path d="M449.04 116.9l1.47 -1.47h1l1.47 1.47v1l-1.47 1.47h-1l-1.47 -1.47z" fill="#CD0000"/><path d="M416.21 119.59l1.47 -1.47h1l1.47 1.47v1l-1.47 1.47h-1l-1.47 -1.47z" fill="#66CD00"/><path d="M418.11 120.84l1.47 -1.47h1l1.47 1.47v1l-1.47 1.47h-1l-1.47 -1.47z" fill="#66CD00"/><path d="M419.87 119.12l1.47 -1.47h1l1.47 1.47v1l-1.47 1.47h-1l-1.47 -1.47z" fill="#CD0000"/><path d="M422.54 120.39l1.47 -1.47h1l1.47 1.47v1l-1.47 1.47h-1l-1.47 -1.47z" fill="#006400"/><path d="M426.92 120.16l1.47 -1.47h1l1.47 1.47v1l-1.47 1.47h-1l-1.47 -1.47z" fill="#66CD00"/><path d="M429.45 120.66l1.47 -1.47h1l1.47 1.47v1l-1.47 1.47h-1l-1.47 -1.47z" fill="#CD0000"/><path d="M433.72 119.38l1.47 -1.47h1l1.47 1.47v1l-1.47 1.47h-1l-1.47 -1.47z" fill="#CD0000"/><path d="M435.35 120.38l1.47 -1.47h1l1.47 1.47v1l-1.47 1.47h-1l-1.47 -1.47z" fill="#66CD00"/><path d="M437.46 119.7l1.47 -1.47h1l1.47 1.47v1l-1.47 1.47h-1l-1.47 -1.47z" fill="#006400"/><path d="M440.9 120.53l1.47 -1.47h1l1.47 1.47v1l-1.47 1.47h-1l-1.47 -1.47z" fill="#CD0000"/><path d="M443.33 120.03l1.47 -1.47h1l1.47 1.47v1l-1.47 1.47h-1l-1.47 -1.47z" fill="#CD0000"/><path d="M444.79 119.31l1.47 -1.47h1l1.47 1.47v1l-1.47 1.47h-1l-1.47 -1.47z" fill="#66CD00"/><path d="M447.51 120.6l1.47 -1.47h1l1.47 1.47v1l-1.47 1.47h-1l-1.47 -1.47z" fill="#CD0000"/><path d="M450.76 119.63l1.47 -1.47h1l1.47 1.47v1l-1.47 1.47h-1l-1.47 -1.47z" fill="#CD0000"/><path d="M428.25 122.47l1.47 -1.47h1l1.47 1.47v1l-1.47 1.47h-1l-1.47 -1.47z" fill="#CD0000"/><path d="M429.65 122.02l1.47 -1.47h1l1.47 1.47v1l-1.47 1.47h-1l-1.47 -1.47z" fill="#66CD00"/><path d="M433.35 121.89l1.47 -1.47h1l1.47 1.47v1l-1.47 1.47h-1l-1.47 -1.47z" fill="#66CD00"/><path d="M435.89 122.29l1.47 -1.47h1l1.47 1.47v1l-1.47 1.47h-1l-1.47 -1.47z" fill="#66CD00"/><path d="M436.61 122.99l1.47 -1.47h1l1.47 1.47v1l-1.47 1.47h-1l-1.47 -1.47z" fill="#CD0000"/><path d="M440.5 121.73l1.47 -1.47h1l1.47 1.47v1l-1.47 1.47h-1l-1.47 -1.47z" fill="#66CD00"/><path d="M448.42 121.81l1.47 -1.47h1l1.47 1.47v1l-1.47 1.47h-1l-1.47 -1.47z" fill="#66CD00"/><path d="M434.94 103.5l1.47 -1.47h1l1.47 1.47v1l-1.47 1.47h-1l-1.47 -1.47z" fill="#FFAE00"/><path d="M439.82 103.44l1.47 -1.47h1l1.47 1.47v1l-1.47 1.47h-1l-1.47 -1.47z" fill="#FFAE00"/><path d="M447.35 104.39l1.47 -1.47h1l1.47 1.47v1l-1.47 1.47h-1l-1.47 -1.47z" fill="#FFAE00"/><path d="M450.21 103.98l1.47 -1.47h1l1.47 1.47v1l-1.47 1.47h-1l-1.47 -1.47z" fill="#FFAE00"/><path d="M453.03 102.42l1.47 -1.47h1l1.47 1.47v1l-1.47 1.47h-1l-1.47 -1.47z" fill="#FFAE00"/><path d="M413.32 105.67l1.47 -1.47h1l1.47 1.47v1l-1.47 1.47h-1l-1.47 -1.47z" fill="#FFAE00"/><path d="M425.85 106.23l1.47 -1.47h1l1.47 1.47v1l-1.47 1.47h-1l-1.47 -1.47z" fill="#FFAE00"/><path d="M433.31 106.14l1.47 -1.47h1l1.47 1.47v1l-1.47 1.47h-1l-1.47 -1.47z" fill="#FFAE00"/><path d="M437.24 105.82l1.47 -1.47h1l1.47 1.47v1l-1.47 1.47h-1l-1.47 -1.47z" fill="#FFAE00"/><path d="M449.25 106.92l1.47 -1.47h1l1.47 1.47v1l-1.47 1.47h-1l-1.47 -1.47z" fill="#FFAE00"/><path d="M451.55 105.23l1.47 -1.47h1l1.47 1.47v1l-1.47 1.47h-1l-1.47 -1.47z" fill="#FFAE00"/><path d="M454.5 105.75l1.47 -1.47h1l1.47 1.47v1l-1.47 1.47h-1l-1.47 -1.47z" fill="#FFAE00"/><path d="M404.16 109.84l1.47 -1.47h1l1.47 1.47v1l-1.47 1.47h-1l-1.47 -1.47z" fill="#FFAE00"/><path d="M417.89 108.68l1.47 -1.47h1l1.47 1.47v1l-1.47 1.47h-1l-1.47 -1.47z" fill="#FFAE00"/><path d="M426.56 110l1.47 -1.47h1l1.47 1.47v1l-1.47 1.47h-1l-1.47 -1.47z" fill="#FFAE00"/><path d="M415.28 111.7l1.47 -1.47h1l1.47 1.47v1l-1.47 1.47h-1l-1.47 -1.47z" fill="#FFAE00"/><path d="M418.85 112.73l1.47 -1.47h1l1.47 1.47v1l-1.47 1.47h-1l-1.47 -1.47z" fill="#FFAE00"/><path d="M422.3 112.2l1.47 -1.47h1l1.47 1.47v1l-1.47 1.47h-1l-1.47 -1.47z" fill="#FFAE00"/><path d="M438.76 112.68l1.47 -1.47h1l1.47 1.47v1l-1.47 1.47h-1l-1.47 -1.47z" fill="#FFAE00"/><path d="M448.19 112.24l1.47 -1.47h1l1.47 1.47v1l-1.47 1.47h-1l-1.47 -1.47z" fill="#FFAE00"/><path d="M453.67 113.05l1.47 -1.47h1l1.47 1.47v1l-1.47 1.47h-1l-1.47 -1.47z" fill="#FFAE00"/><path d="M413.14 114.81l1.47 -1.47h1l1.47 1.47v1l-1.47 1.47h-1l-1.47 -1.47z" fill="#FFAE00"/><path d="M415.47 114.23l1.47 -1.47h1l1.47 1.47v1l-1.47 1.47h-1l-1.47 -1.47z" fill="#FFAE00"/><path d="M420.99 115.81l1.47 -1.47h1l1.47 1.47v1l-1.47 1.47h-1l-1.47 -1.47z" fill="#FFAE00"/><path d="M436.31 115.95l1.47 -1.47h1l1.47 1.47v1l-1.47 1.47h-1l-1.47 -1.47z" fill="#FFAE00"/><path d="M439.78 113.93l1.47 -1.47h1l1.47 1.47v1l-1.47 1.47h-1l-1.47 -1.47z" fill="#FFAE00"/><path d="M442.9 114.08l1.47 -1.47h1l1.47 1.47v1l-1.47 1.47h-1l-1.47 -1.47z" fill="#FFAE00"/><path d="M450.76 115.39l1.47 -1.47h1l1.47 1.47v1l-1.47 1.47h-1l-1.47 -1.47z" fill="#FFAE00"/><path d="M427.83 116.8l1.47 -1.47h1l1.47 1.47v1l-1.47 1.47h-1l-1.47 -1.47z" fill="#FFAE00"/><path d="M437.82 118.06l1.47 -1.47h1l1.47 1.47v1l-1.47 1.47h-1l-1.47 -1.47z" fill="#FFAE00"/><path d="M451.9 117.82l1.47 -1.47h1l1.47 1.47v1l-1.47 1.47h-1l-1.47 -1.47z" fill="#FFAE00"/><path d="M416.09 120.12l1.47 -1.47h1l1.47 1.47v1l-1.47 1.47h-1l-1.47 -1.47z" fill="#FFAE00"/><path d="M422.61 120.03l1.47 -1.47h1l1.47 1.47v1l-1.47 1.47h-1l-1.47 -1.47z" fill="#FFAE00"/><path d="M430.93 120.84l1.47 -1.47h1l1.47 1.47v1l-1.47 1.47h-1l-1.47 -1.47z" fill="#FFAE00"/><path d="M443.57 121.82l1.47 -1.47h1l1.47 1.47v1l-1.47 1.47h-1l-1.47 -1.47z" fill="#FFAE00"/><path d="M445.11 120.1l1.47 -1.47h1l1.47 1.47v1l-1.47 1.47h-1l-1.47 -1.47z" fill="#FFAE00"/><path d="M435.68 122.72l1.47 -1.47h1l1.47 1.47v1l-1.47 1.47h-1l-1.47 -1.47z" fill="#FFAE00"/><path d="M438.48 124.09l1.47 -1.47h1l1.47 1.47v1l-1.47 1.47h-1l-1.47 -1.47z" fill="#FFAE00"/><path d="M445.48 123.12l1.47 -1.47h1l1.47 1.47v1l-1.47 1.47h-1l-1.47 -1.47z" fill="#FFAE00"/><path d="M443.57 100.69l1.47 -1.47h1l1.47 1.47v1l-1.47 1.47h-1l-1.47 -1.47z" fill="#FFAE00"/><path d="M445.98 100.86l1.47 -1.47h1l1.47 1.47v1l-1.47 1.47h-1l-1.47 -1.47z" fill="#FFAE00"/><path d="M448.48 99.18l1.47 -1.47h1l1.47 1.47v1l-1.47 1.47h-1l-1.47 -1.47z" fill="#FFAE00"/><path d="M451.25 99.27l1.47 -1.47h1l1.47 1.47v1l-1.47 1.47h-1l-1.47 -1.47z" fill="#FFAE00"/><path d="M453.03 100.04l1.47 -1.47h1l1.47 1.47v1l-1.47 1.47h-1l-1.47 -1.47z" fill="#FFAE00"/><path d="M435.63 102.77l1.47 -1.47h1l1.47 1.47v1l-1.47 1.47h-1l-1.47 -1.47z" fill="#FFAE00"/><path d="M438.01 102.92l1.47 -1.47h1l1.47 1.47v1l-1.47 1.47h-1l-1.47 -1.47z" fill="#FFAE00"/><path d="M442.03 102.29l1.47 -1.47h1l1.47 1.47v1l-1.47 1.47h-1l-1.47 -1.47z" fill="#FFAE00"/><path d="M443.66 103.04l1.47 -1.47h1l1.47 1.47v1l-1.47 1.47h-1l-1.47 -1.47z" fill="#FFAE00"/><path d="M446.77 102.03l1.47 -1.47h1l1.47 1.47v1l-1.47 1.47h-1l-1.47 -1.47z" fill="#FFAE00"/><path d="M448.69 101.31l1.47 -1.47h1l1.47 1.47v1l-1.47 1.47h-1l-1.47 -1.47z" fill="#FFAE00"/><path d="M453.94 103.03l1.47 -1.47h1l1.47 1.47v1l-1.47 1.47h-1l-1.47 -1.47z" fill="#FFAE00"/><path d="M424.92 105.61l1.47 -1.47h1l1.47 1.47v1l-1.47 1.47h-1l-1.47 -1.47z" fill="#FFAE00"/><path d="M426.64 104.77l1.47 -1.47h1l1.47 1.47v1l-1.47 1.47h-1l-1.47 -1.47z" fill="#FFAE00"/><path d="M428.42 104.06l1.47 -1.47h1l1.47 1.47v1l-1.47 1.47h-1l-1.47 -1.47z" fill="#FFAE00"/><path d="M432.01 103.76l1.47 -1.47h1l1.47 1.47v1l-1.47 1.47h-1l-1.47 -1.47z" fill="#FFAE00"/><path d="M433.17 103.74l1.47 -1.47h1l1.47 1.47v1l-1.47 1.47h-1l-1.47 -1.47z" fill="#FFAE00"/><path d="M436.22 105.11l1.47 -1.47h1l1.47 1.47v1l-1.47 1.47h-1l-1.47 -1.47z" fill="#FFAE00"/><path d="M439.01 103.79l1.47 -1.47h1l1.47 1.47v1l-1.47 1.47h-1l-1.47 -1.47z" fill="#FFAE00"/><path d="M440.98 104.26l1.47 -1.47h1l1.47 1.47v1l-1.47 1.47h-1l-1.47 -1.47z" fill="#FFAE00"/><path d="M430.04 107.8l1.47 -1.47h1l1.47 1.47v1l-1.47 1.47h-1l-1.47 -1.47z" fill="#FFAE00"/><path d="M432.72 107.97l1.47 -1.47h1l1.47 1.47v1l-1.47 1.47h-1l-1.47 -1.47z" fill="#FFAE00"/><path d="M434.47 106.83l1.47 -1.47h1l1.47 1.47v1l-1.47 1.47h-1l-1.47 -1.47z" fill="#FFAE00"/><path d="M436.47 107.11l1.47 -1.47h1l1.47 1.47v1l-1.47 1.47h-1l-1.47 -1.47z" fill="#FFAE00"/><path d="M445.74 107.46l1.47 -1.47h1l1.47 1.47v1l-1.47 1.47h-1l-1.47 -1.47z" fill="#FFAE00"/><path d="M449.46 107.34l1.47 -1.47h1l1.47 1.47v1l-1.47 1.47h-1l-1.47 -1.47z" fill="#FFAE00"/><path d="M450.87 108l1.47 -1.47h1l1.47 1.47v1l-1.47 1.47h-1l-1.47 -1.47z" fill="#FFAE00"/><path d="M453.7 106.34l1.47 -1.47h1l1.47 1.47v1l-1.47 1.47h-1l-1.47 -1.47z" fill="#FFAE00"/><path d="M426.8 108.76l1.47 -1.47h1l1.47 1.47v1l-1.47 1.47h-1l-1.47 -1.47z" fill="#FFAE00"/><path d="M429.53 108.99l1.47 -1.47h1l1.47 1.47v1l-1.47 1.47h-1l-1.47 -1.47z" fill="#FFAE00"/><path d="M433.03 109.72l1.47 -1.47h1l1.47 1.47v1l-1.47 1.47h-1l-1.47 -1.47z" fill="#FFAE00"/><path d="M434.15 109.92l1.47 -1.47h1l1.47 1.47v1l-1.47 1.47h-1l-1.47 -1.47z" fill="#FFAE00"/><path d="M437.38 109.44l1.47 -1.47h1l1.47 1.47v1l-1.47 1.47h-1l-1.47 -1.47z" fill="#FFAE00"/><path d="M438.99 109.52l1.47 -1.47h1l1.47 1.47v1l-1.47 1.47h-1l-1.47 -1.47z" fill="#FFAE00"/><path d="M443.83 109.61l1.47 -1.47h1l1.47 1.47v1l-1.47 1.47h-1l-1.47 -1.47z" fill="#FFAE00"/><path d="M451.43 108.62l1.47 -1.47h1l1.47 1.47v1l-1.47 1.47h-1l-1.47 -1.47z" fill="#FFAE00"/><path d="M454.42 108.72l1.47 -1.47h1l1.47 1.47v1l-1.47 1.47h-1l-1.47 -1.47z" fill="#FFAE00"/><path d="M431.3 112.54l1.47 -1.47h1l1.47 1.47v1l-1.47 1.47h-1l-1.47 -1.47z" fill="#FFAE00"/><path d="M433.49 112.42l1.47 -1.47h1l1.47 1.47v1l-1.47 1.47h-1l-1.47 -1.47z" fill="#FFAE00"/><path d="M435.82 112.73l1.47 -1.47h1l1.47 1.47v1l-1.47 1.47h-1l-1.47 -1.47z" fill="#FFAE00"/><path d="M436.81 112.43l1.47 -1.47h1l1.47 1.47v1l-1.47 1.47h-1l-1.47 -1.47z" fill="#FFAE00"/><path d="M441.13 112.04l1.47 -1.47h1l1.47 1.47v1l-1.47 1.47h-1l-1.47 -1.47z" fill="#FFAE00"/><path d="M443.35 112.11l1.47 -1.47h1l1.47 1.47v1l-1.47 1.47h-1l-1.47 -1.47z" fill="#FFAE00"/><path d="M444.92 112.35l1.47 -1.47h1l1.47 1.47v1l-1.47 1.47h-1l-1.47 -1.47z" fill="#FFAE00"/><path d="M447.51 111.67l1.47 -1.47h1l1.47 1.47v1l-1.47 1.47h-1l-1.47 -1.47z" fill="#FFAE00"/><path d="M450.5 111.9l1.47 -1.47h1l1.47 1.47v1l-1.47 1.47h-1l-1.47 -1.47z" fill="#FFAE00"/><path d="M451.81 111.19l1.47 -1.47h1l1.47 1.47v1l-1.47 1.47h-1l-1.47 -1.47z" fill="#FFAE00"/><path d="M453.78 112.74l1.47 -1.47h1l1.47 1.47v1l-1.47 1.47h-1l-1.47 -1.47z" fill="#FFAE00"/><path d="M426.96 113.71l1.47 -1.47h1l1.47 1.47v1l-1.47 1.47h-1l-1.47 -1.47z" fill="#FFAE00"/><path d="M427.46 113.39l1.47 -1.47h1l1.47 1.47v1l-1.47 1.47h-1l-1.47 -1.47z" fill="#FFAE00"/><path d="M431.68 114.85l1.47 -1.47h1l1.47 1.47v1l-1.47 1.47h-1l-1.47 -1.47z" fill="#FFAE00"/><path d="M435.42 114.02l1.47 -1.47h1l1.47 1.47v1l-1.47 1.47h-1l-1.47 -1.47z" fill="#FFAE00"/><path d="M438.94 114.65l1.47 -1.47h1l1.47 1.47v1l-1.47 1.47h-1l-1.47 -1.47z" fill="#FFAE00"/><path d="M440.19 114.1l1.47 -1.47h1l1.47 1.47v1l-1.47 1.47h-1l-1.47 -1.47z" fill="#FFAE00"/><path d="M443.6 115.23l1.47 -1.47h1l1.47 1.47v1l-1.47 1.47h-1l-1.47 -1.47z" fill="#FFAE00"/><path d="M445.49 115.29l1.47 -1.47h1l1.47 1.47v1l-1.47 1.47h-1l-1.47 -1.47z" fill="#FFAE00"/><path d="M448.27 113.64l1.47 -1.47h1l1.47 1.47v1l-1.47 1.47h-1l-1.47 -1.47z" fill="#FFAE00"/><path d="M450.69 114.33l1.47 -1.47h1l1.47 1.47v1l-1.47 1.47h-1l-1.47 -1.47z" fill="#FFAE00"/><path d="M434.28 115.78l1.47 -1.47h1l1.47 1.47v1l-1.47 1.47h-1l-1.47 -1.47z" fill="#FFAE00"/><path d="M436.02 117.08l1.47 -1.47h1l1.47 1.47v1l-1.47 1.47h-1l-1.47 -1.47z" fill="#FFAE00"/><path d="M440.6 116.7l1.47 -1.47h1l1.47 1.47v1l-1.47 1.47h-1l-1.47 -1.47z" fill="#FFAE00"/><path d="M446.15 116.52l1.47 -1.47h1l1.47 1.47v1l-1.47 1.47h-1l-1.47 -1.47z" fill="#FFAE00"/><path d="M448.92 115.91l1.47 -1.47h1l1.47 1.47v1l-1.47 1.47h-1l-1.47 -1.47z" fill="#FFAE00"/><path d="M434.3 118.87l1.47 -1.47h1l1.47 1.47v1l-1.47 1.47h-1l-1.47 -1.47z" fill="#FFAE00"/><path d="M436.97 120.02l1.47 -1.47h1l1.47 1.47v1l-1.47 1.47h-1l-1.47 -1.47z" fill="#FFAE00"/><path d="M437.54 121.2l1.47 -1.47h1l1.47 1.47v1l-1.47 1.47h-1l-1.47 -1.47z" fill="#FFAE00"/><path d="M438.86 120.97l1.47 -1.47h1l1.47 1.47v1l-1.47 1.47h-1l-1.47 -1.47z" fill="#FFAE00"/><path d="M434.48 80.15l1.47 -1.47h1l1.47 1.47v1l-1.47 1.47h-1l-1.47 -1.47z" fill="#66CD00"/><path d="M422.62 83.21l1.47 -1.47h1l1.47 1.47v1l-1.47 1.47h-1l-1.47 -1.47z" fill="#66CD00"/><path d="M442.5 86.86l1.47 -1.47h1l1.47 1.47v1l-1.47 1.47h-1l-1.47 -1.47z" fill="#CD0000"/><path d="M420.29 89l1.47 -1.47h1l1.47 1.47v1l-1.47 1.47h-1l-1.47 -1.47z" fill="#CD0000"/><path d="M422.77 92.07l1.47 -1.47h1l1.47 1.47v1l-1.47 1.47h-1l-1.47 -1.47z" fill="#66CD00"/><path d="M428.15 93.82l1.47 -1.47h1l1.47 1.47v1l-1.47 1.47h-1l-1.47 -1.47z" fill="#CD0000"/><path d="M431.62 93.26l1.47 -1.47h1l1.47 1.47v1l-1.47 1.47h-1l-1.47 -1.47z" fill="#CD0000"/><path d="M443.43 92.31l1.47 -1.47h1l1.47 1.47v1l-1.47 1.47h-1l-1.47 -1.47z" fill="#66CD00"/><path d="M420.33 96.05l1.47 -1.47h1l1.47 1.47v1l-1.47 1.47h-1l-1.47 -1.47z" fill="#CD0000"/><path d="M442.85 97.13l1.47 -1.47h1l1.47 1.47v1l-1.47 1.47h-1l-1.47 -1.47z" fill="#CD0000"/><path d="M449.01 95.34l1.47 -1.47h1l1.47 1.47v1l-1.47 1.47h-1l-1.47 -1.47z" fill="#CD0000"/><path d="M425.49 79.21l1.47 -1.47h1l1.47 1.47v1l-1.47 1.47h-1l-1.47 -1.47z" fill="#FFAE00"/><path d="M432.46 79.86l1.47 -1.47h1l1.47 1.47v1l-1.47 1.47h-1l-1.47 -1.47z" fill="#FFAE00"/><path d="M418.58 81.39l1.47 -1.47h1l1.47 1.47v1l-1.47 1.47h-1l-1.47 -1.47z" fill="#FFAE00"/><path d="M420.13 80.77l1.47 -1.47h1l1.47 1.47v1l-1.47 1.47h-1l-1.47 -1.47z" fill="#FFAE00"/><path d="M422.99 80.24l1.47 -1.47h1l1.47 1.47v1l-1.47 1.47h-1l-1.47 -1.47z" fill="#FFAE00"/><path d="M424.61 81.45l1.47 -1.47h1l1.47 1.47v1l-1.47 1.47h-1l-1.47 -1.47z" fill="#FFAE00"/><path d="M426.72 80.58l1.47 -1.47h1l1.47 1.47v1l-1.47 1.47h-1l-1.47 -1.47z" fill="#FFAE00"/><path d="M428.88 81.1l1.47 -1.47h1l1.47 1.47v1l-1.47 1.47h-1l-1.47 -1.47z" fill="#FFAE00"/><path d="M429.61 81.45l1.47 -1.47h1l1.47 1.47v1l-1.47 1.47h-1l-1.47 -1.47z" fill="#FFAE00"/><path d="M431.8 81.27l1.47 -1.47h1l1.47 1.47v1l-1.47 1.47h-1l-1.47 -1.47z" fill="#FFAE00"/><path d="M434.64 81.03l1.47 -1.47h1l1.47 1.47v1l-1.47 1.47h-1l-1.47 -1.47z" fill="#FFAE00"/><path d="M439.74 81.57l1.47 -1.47h1l1.47 1.47v1l-1.47 1.47h-1l-1.47 -1.47z" fill="#FFAE00"/><path d="M441.13 81.48l1.47 -1.47h1l1.47 1.47v1l-1.47 1.47h-1l-1.47 -1.47z" fill="#FFAE00"/><path d="M418.19 82.69l1.47 -1.47h1l1.47 1.47v1l-1.47 1.47h-1l-1.47 -1.47z" fill="#FFAE00"/><path d="M420.09 82.6l1.47 -1.47h1l1.47 1.47v1l-1.47 1.47h-1l-1.47 -1.47z" fill="#FFAE00"/><path d="M422.64 82.14l1.47 -1.47h1l1.47 1.47v1l-1.47 1.47h-1l-1.47 -1.47z" fill="#FFAE00"/><path d="M423.4 82.51l1.47 -1.47h1l1.47 1.47v1l-1.47 1.47h-1l-1.47 -1.47z" fill="#FFAE00"/><path d="M428.35 82.12l1.47 -1.47h1l1.47 1.47v1l-1.47 1.47h-1l-1.47 -1.47z" fill="#FFAE00"/><path d="M430.06 83.31l1.47 -1.47h1l1.47 1.47v1l-1.47 1.47h-1l-1.47 -1.47z" fill="#FFAE00"/><path d="M431.15 82.52l1.47 -1.47h1l1.47 1.47v1l-1.47 1.47h-1l-1.47 -1.47z" fill="#FFAE00"/><path d="M433.97 83.16l1.47 -1.47h1l1.47 1.47v1l-1.47 1.47h-1l-1.47 -1.47z" fill="#FFAE00"/><path d="M435.55 82.88l1.47 -1.47h1l1.47 1.47v1l-1.47 1.47h-1l-1.47 -1.47z" fill="#FFAE00"/><path d="M437.15 82.72l1.47 -1.47h1l1.47 1.47v1l-1.47 1.47h-1l-1.47 -1.47z" fill="#FFAE00"/><path d="M438.68 83.65l1.47 -1.47h1l1.47 1.47v1l-1.47 1.47h-1l-1.47 -1.47z" fill="#FFAE00"/><path d="M440.46 82.45l1.47 -1.47h1l1.47 1.47v1l-1.47 1.47h-1l-1.47 -1.47z" fill="#FFAE00"/><path d="M441.98 83.46l1.47 -1.47h1l1.47 1.47v1l-1.47 1.47h-1l-1.47 -1.47z" fill="#FFAE00"/><path d="M419.21 85.21l1.47 -1.47h1l1.47 1.47v1l-1.47 1.47h-1l-1.47 -1.47z" fill="#FFAE00"/><path d="M422.88 84.38l1.47 -1.47h1l1.47 1.47v1l-1.47 1.47h-1l-1.47 -1.47z" fill="#FFAE00"/><path d="M424.76 85.1l1.47 -1.47h1l1.47 1.47v1l-1.47 1.47h-1l-1.47 -1.47z" fill="#FFAE00"/><path d="M426.56 84.93l1.47 -1.47h1l1.47 1.47v1l-1.47 1.47h-1l-1.47 -1.47z" fill="#FFAE00"/><path d="M431 84.1l1.47 -1.47h1l1.47 1.47v1l-1.47 1.47h-1l-1.47 -1.47z" fill="#FFAE00"/><path d="M432.48 84.19l1.47 -1.47h1l1.47 1.47v1l-1.47 1.47h-1l-1.47 -1.47z" fill="#FFAE00"/><path d="M436.08 84.49l1.47 -1.47h1l1.47 1.47v1l-1.47 1.47h-1l-1.47 -1.47z" fill="#FFAE00"/><path d="M438.28 85.06l1.47 -1.47h1l1.47 1.47v1l-1.47 1.47h-1l-1.47 -1.47z" fill="#FFAE00"/><path d="M440.2 84.04l1.47 -1.47h1l1.47 1.47v1l-1.47 1.47h-1l-1.47 -1.47z" fill="#FFAE00"/><path d="M442.23 84.93l1.47 -1.47h1l1.47 1.47v1l-1.47 1.47h-1l-1.47 -1.47z" fill="#FFAE00"/><path d="M443.36 85.45l1.47 -1.47h1l1.47 1.47v1l-1.47 1.47h-1l-1.47 -1.47z" fill="#FFAE00"/><path d="M445.33 84.95l1.47 -1.47h1l1.47 1.47v1l-1.47 1.47h-1l-1.47 -1.47z" fill="#FFAE00"/><path d="M416.01 86.92l1.47 -1.47h1l1.47 1.47v1l-1.47 1.47h-1l-1.47 -1.47z" fill="#FFAE00"/><path d="M418.21 86.28l1.47 -1.47h1l1.47 1.47v1l-1.47 1.47h-1l-1.47 -1.47z" fill="#FFAE00"/><path d="M420.17 86.36l1.47 -1.47h1l1.47 1.47v1l-1.47 1.47h-1l-1.47 -1.47z" fill="#FFAE00"/><path d="M421.55 86.32l1.47 -1.47h1l1.47 1.47v1l-1.47 1.47h-1l-1.47 -1.47z" fill="#FFAE00"/><path d="M422.94 85.88l1.47 -1.47h1l1.47 1.47v1l-1.47 1.47h-1l-1.47 -1.47z" fill="#FFAE00"/><path d="M426.89 87.08l1.47 -1.47h1l1.47 1.47v1l-1.47 1.47h-1l-1.47 -1.47z" fill="#FFAE00"/><path d="M428.64 85.97l1.47 -1.47h1l1.47 1.47v1l-1.47 1.47h-1l-1.47 -1.47z" fill="#FFAE00"/><path d="M430.62 87.37l1.47 -1.47h1l1.47 1.47v1l-1.47 1.47h-1l-1.47 -1.47z" fill="#FFAE00"/><path d="M434.38 85.92l1.47 -1.47h1l1.47 1.47v1l-1.47 1.47h-1l-1.47 -1.47z" fill="#FFAE00"/><path d="M437.6 86.67l1.47 -1.47h1l1.47 1.47v1l-1.47 1.47h-1l-1.47 -1.47z" fill="#FFAE00"/><path d="M439.21 86.61l1.47 -1.47h1l1.47 1.47v1l-1.47 1.47h-1l-1.47 -1.47z" fill="#FFAE00"/><path d="M440 87.04l1.47 -1.47h1l1.47 1.47v1l-1.47 1.47h-1l-1.47 -1.47z" fill="#FFAE00"/><path d="M442.37 87.25l1.47 -1.47h1l1.47 1.47v1l-1.47 1.47h-1l-1.47 -1.47z" fill="#FFAE00"/><path d="M446.53 86.23l1.47 -1.47h1l1.47 1.47v1l-1.47 1.47h-1l-1.47 -1.47z" fill="#FFAE00"/><path d="M416.43 89.15l1.47 -1.47h1l1.47 1.47v1l-1.47 1.47h-1l-1.47 -1.47z" fill="#FFAE00"/><path d="M419.28 89.09l1.47 -1.47h1l1.47 1.47v1l-1.47 1.47h-1l-1.47 -1.47z" fill="#FFAE00"/><path d="M420.75 89.2l1.47 -1.47h1l1.47 1.47v1l-1.47 1.47h-1l-1.47 -1.47z" fill="#FFAE00"/><path d="M422.83 88.49l1.47 -1.47h1l1.47 1.47v1l-1.47 1.47h-1l-1.47 -1.47z" fill="#FFAE00"/><path d="M424.11 89.18l1.47 -1.47h1l1.47 1.47v1l-1.47 1.47h-1l-1.47 -1.47z" fill="#FFAE00"/><path d="M427.06 88.06l1.47 -1.47h1l1.47 1.47v1l-1.47 1.47h-1l-1.47 -1.47z" fill="#FFAE00"/><path d="M428.05 87.81l1.47 -1.47h1l1.47 1.47v1l-1.47 1.47h-1l-1.47 -1.47z" fill="#FFAE00"/><path d="M429.49 89.23l1.47 -1.47h1l1.47 1.47v1l-1.47 1.47h-1l-1.47 -1.47z" fill="#FFAE00"/><path d="M431.53 88.04l1.47 -1.47h1l1.47 1.47v1l-1.47 1.47h-1l-1.47 -1.47z" fill="#FFAE00"/><path d="M433.82 89.24l1.47 -1.47h1l1.47 1.47v1l-1.47 1.47h-1l-1.47 -1.47z" fill="#FFAE00"/><path d="M436.74 87.82l1.47 -1.47h1l1.47 1.47v1l-1.47 1.47h-1l-1.47 -1.47z" fill="#FFAE00"/><path d="M438.18 87.83l1.47 -1.47h1l1.47 1.47v1l-1.47 1.47h-1l-1.47 -1.47z" fill="#FFAE00"/><path d="M439.66 87.94l1.47 -1.47h1l1.47 1.47v1l-1.47 1.47h-1l-1.47 -1.47z" fill="#FFAE00"/><path d="M441.38 89.18l1.47 -1.47h1l1.47 1.47v1l-1.47 1.47h-1l-1.47 -1.47z" fill="#FFAE00"/><path d="M442.99 88.46l1.47 -1.47h1l1.47 1.47v1l-1.47 1.47h-1l-1.47 -1.47z" fill="#FFAE00"/><path d="M444.91 88.95l1.47 -1.47h1l1.47 1.47v1l-1.47 1.47h-1l-1.47 -1.47z" fill="#FFAE00"/><path d="M416.74 89.74l1.47 -1.47h1l1.47 1.47v1l-1.47 1.47h-1l-1.47 -1.47z" fill="#FFAE00"/><path d="M419.42 90.25l1.47 -1.47h1l1.47 1.47v1l-1.47 1.47h-1l-1.47 -1.47z" fill="#FFAE00"/><path d="M421.48 90.54l1.47 -1.47h1l1.47 1.47v1l-1.47 1.47h-1l-1.47 -1.47z" fill="#FFAE00"/><path d="M423.9 91.07l1.47 -1.47h1l1.47 1.47v1l-1.47 1.47h-1l-1.47 -1.47z" fill="#FFAE00"/><path d="M426.75 90.29l1.47 -1.47h1l1.47 1.47v1l-1.47 1.47h-1l-1.47 -1.47z" fill="#FFAE00"/><path d="M429.63 89.68l1.47 -1.47h1l1.47 1.47v1l-1.47 1.47h-1l-1.47 -1.47z" fill="#FFAE00"/><path d="M430.34 90.65l1.47 -1.47h1l1.47 1.47v1l-1.47 1.47h-1l-1.47 -1.47z" fill="#FFAE00"/><path d="M432.15 89.86l1.47 -1.47h1l1.47 1.47v1l-1.47 1.47h-1l-1.47 -1.47z" fill="#FFAE00"/><path d="M435.19 89.75l1.47 -1.47h1l1.47 1.47v1l-1.47 1.47h-1l-1.47 -1.47z" fill="#FFAE00"/><path d="M436.67 90.55l1.47 -1.47h1l1.47 1.47v1l-1.47 1.47h-1l-1.47 -1.47z" fill="#FFAE00"/><path d="M437.53 90.86l1.47 -1.47h1l1.47 1.47v1l-1.47 1.47h-1l-1.47 -1.47z" fill="#FFAE00"/><path d="M440.38 91.26l1.47 -1.47h1l1.47 1.47v1l-1.47 1.47h-1l-1.47 -1.47z" fill="#FFAE00"/><path d="M442.52 90.28l1.47 -1.47h1l1.47 1.47v1l-1.47 1.47h-1l-1.47 -1.47z" fill="#FFAE00"/><path d="M444.07 90.65l1.47 -1.47h1l1.47 1.47v1l-1.47 1.47h-1l-1.47 -1.47z" fill="#FFAE00"/><path d="M446.14 90.54l1.47 -1.47h1l1.47 1.47v1l-1.47 1.47h-1l-1.47 -1.47z" fill="#FFAE00"/><path d="M447.46 91.12l1.47 -1.47h1l1.47 1.47v1l-1.47 1.47h-1l-1.47 -1.47z" fill="#FFAE00"/><path d="M449.77 90.43l1.47 -1.47h1l1.47 1.47v1l-1.47 1.47h-1l-1.47 -1.47z" fill="#FFAE00"/><path d="M415.66 92.87l1.47 -1.47h1l1.47 1.47v1l-1.47 1.47h-1l-1.47 -1.47z" fill="#FFAE00"/><path d="M418.03 92.31l1.47 -1.47h1l1.47 1.47v1l-1.47 1.47h-1l-1.47 -1.47z" fill="#FFAE00"/><path d="M420.05 92.96l1.47 -1.47h1l1.47 1.47v1l-1.47 1.47h-1l-1.47 -1.47z" fill="#FFAE00"/><path d="M421.85 92.88l1.47 -1.47h1l1.47 1.47v1l-1.47 1.47h-1l-1.47 -1.47z" fill="#FFAE00"/><path d="M422.82 91.73l1.47 -1.47h1l1.47 1.47v1l-1.47 1.47h-1l-1.47 -1.47z" fill="#FFAE00"/><path d="M425.15 92.29l1.47 -1.47h1l1.47 1.47v1l-1.47 1.47h-1l-1.47 -1.47z" fill="#FFAE00"/><path d="M427.81 92.68l1.47 -1.47h1l1.47 1.47v1l-1.47 1.47h-1l-1.47 -1.47z" fill="#FFAE00"/><path d="M429.39 92.78l1.47 -1.47h1l1.47 1.47v1l-1.47 1.47h-1l-1.47 -1.47z" fill="#FFAE00"/><path d="M430.6 92.4l1.47 -1.47h1l1.47 1.47v1l-1.47 1.47h-1l-1.47 -1.47z" fill="#FFAE00"/><path d="M432.46 92.18l1.47 -1.47h1l1.47 1.47v1l-1.47 1.47h-1l-1.47 -1.47z" fill="#FFAE00"/><path d="M434.73 91.66l1.47 -1.47h1l1.47 1.47v1l-1.47 1.47h-1l-1.47 -1.47z" fill="#FFAE00"/><path d="M436.16 92.09l1.47 -1.47h1l1.47 1.47v1l-1.47 1.47h-1l-1.47 -1.47z" fill="#FFAE00"/><path d="M437.76 92.59l1.47 -1.47h1l1.47 1.47v1l-1.47 1.47h-1l-1.47 -1.47z" fill="#FFAE00"/><path d="M440.19 92.84l1.47 -1.47h1l1.47 1.47v1l-1.47 1.47h-1l-1.47 -1.47z" fill="#FFAE00"/><path d="M441.49 92.28l1.47 -1.47h1l1.47 1.47v1l-1.47 1.47h-1l-1.47 -1.47z" fill="#FFAE00"/><path d="M443.79 92.22l1.47 -1.47h1l1.47 1.47v1l-1.47 1.47h-1l-1.47 -1.47z" fill="#FFAE00"/><path d="M445.78 92.19l1.47 -1.47h1l1.47 1.47v1l-1.47 1.47h-1l-1.47 -1.47z" fill="#FFAE00"/><path d="M447.42 93.12l1.47 -1.47h1l1.47 1.47v1l-1.47 1.47h-1l-1.47 -1.47z" fill="#FFAE00"/><path d="M450.08 92.1l1.47 -1.47h1l1.47 1.47v1l-1.47 1.47h-1l-1.47 -1.47z" fill="#FFAE00"/><path d="M415.22 94.68l1.47 -1.47h1l1.47 1.47v1l-1.47 1.47h-1l-1.47 -1.47z" fill="#FFAE00"/><path d="M416.42 94.21l1.47 -1.47h1l1.47 1.47v1l-1.47 1.47h-1l-1.47 -1.47z" fill="#FFAE00"/><path d="M418.33 94.89l1.47 -1.47h1l1.47 1.47v1l-1.47 1.47h-1l-1.47 -1.47z" fill="#FFAE00"/><path d="M420.29 94.79l1.47 -1.47h1l1.47 1.47v1l-1.47 1.47h-1l-1.47 -1.47z" fill="#FFAE00"/><path d="M422.02 93.53l1.47 -1.47h1l1.47 1.47v1l-1.47 1.47h-1l-1.47 -1.47z" fill="#FFAE00"/><path d="M424.51 94.7l1.47 -1.47h1l1.47 1.47v1l-1.47 1.47h-1l-1.47 -1.47z" fill="#FFAE00"/><path d="M425.3 94.78l1.47 -1.47h1l1.47 1.47v1l-1.47 1.47h-1l-1.47 -1.47z" fill="#FFAE00"/><path d="M428.28 94.37l1.47 -1.47h1l1.47 1.47v1l-1.47 1.47h-1l-1.47 -1.47z" fill="#FFAE00"/><path d="M430.11 94.24l1.47 -1.47h1l1.47 1.47v1l-1.47 1.47h-1l-1.47 -1.47z" fill="#FFAE00"/><path d="M434.08 94.87l1.47 -1.47h1l1.47 1.47v1l-1.47 1.47h-1l-1.47 -1.47z" fill="#FFAE00"/><path d="M437.01 93.89l1.47 -1.47h1l1.47 1.47v1l-1.47 1.47h-1l-1.47 -1.47z" fill="#FFAE00"/><path d="M439.85 94.36l1.47 -1.47h1l1.47 1.47v1l-1.47 1.47h-1l-1.47 -1.47z" fill="#FFAE00"/><path d="M440.46 93.96l1.47 -1.47h1l1.47 1.47v1l-1.47 1.47h-1l-1.47 -1.47z" fill="#FFAE00"/><path d="M443.65 93.88l1.47 -1.47h1l1.47 1.47v1l-1.47 1.47h-1l-1.47 -1.47z" fill="#FFAE00"/><path d="M445.03 94.07l1.47 -1.47h1l1.47 1.47v1l-1.47 1.47h-1l-1.47 -1.47z" fill="#FFAE00"/><path d="M447.01 94.06l1.47 -1.47h1l1.47 1.47v1l-1.47 1.47h-1l-1.47 -1.47z" fill="#FFAE00"/><path d="M449.45 94.36l1.47 -1.47h1l1.47 1.47v1l-1.47 1.47h-1l-1.47 -1.47z" fill="#FFAE00"/><path d="M415.4 95.84l1.47 -1.47h1l1.47 1.47v1l-1.47 1.47h-1l-1.47 -1.47z" fill="#FFAE00"/><path d="M418.64 96.77l1.47 -1.47h1l1.47 1.47v1l-1.47 1.47h-1l-1.47 -1.47z" fill="#FFAE00"/><path d="M420.85 95.45l1.47 -1.47h1l1.47 1.47v1l-1.47 1.47h-1l-1.47 -1.47z" fill="#FFAE00"/><path d="M424.53 96.65l1.47 -1.47h1l1.47 1.47v1l-1.47 1.47h-1l-1.47 -1.47z" fill="#FFAE00"/><path d="M426.61 95.84l1.47 -1.47h1l1.47 1.47v1l-1.47 1.47h-1l-1.47 -1.47z" fill="#FFAE00"/><path d="M427.66 96.84l1.47 -1.47h1l1.47 1.47v1l-1.47 1.47h-1l-1.47 -1.47z" fill="#FFAE00"/><path d="M431.89 96.42l1.47 -1.47h1l1.47 1.47v1l-1.47 1.47h-1l-1.47 -1.47z" fill="#FFAE00"/><path d="M434.23 95.62l1.47 -1.47h1l1.47 1.47v1l-1.47 1.47h-1l-1.47 -1.47z" fill="#FFAE00"/><path d="M435.09 96.71l1.47 -1.47h1l1.47 1.47v1l-1.47 1.47h-1l-1.47 -1.47z" fill="#FFAE00"/><path d="M437.86 95.88l1.47 -1.47h1l1.47 1.47v1l-1.47 1.47h-1l-1.47 -1.47z" fill="#FFAE00"/><path d="M440.29 95.89l1.47 -1.47h1l1.47 1.47v1l-1.47 1.47h-1l-1.47 -1.47z" fill="#FFAE00"/><path d="M442.01 96.94l1.47 -1.47h1l1.47 1.47v1l-1.47 1.47h-1l-1.47 -1.47z" fill="#FFAE00"/><path d="M443.24 96.4l1.47 -1.47h1l1.47 1.47v1l-1.47 1.47h-1l-1.47 -1.47z" fill="#FFAE00"/><path d="M444.68 96.11l1.47 -1.47h1l1.47 1.47v1l-1.47 1.47h-1l-1.47 -1.47z" fill="#FFAE00"/><path d="M447.51 95.55l1.47 -1.47h1l1.47 1.47v1l-1.47 1.47h-1l-1.47 -1.47z" fill="#FFAE00"/><path d="M413.78 97.74l1.47 -1.47h1l1.47 1.47v1l-1.47 1.47h-1l-1.47 -1.47z" fill="#FFAE00"/><path d="M415.63 98.76l1.47 -1.47h1l1.47 1.47v1l-1.47 1.47h-1l-1.47 -1.47z" fill="#FFAE00"/><path d="M418.12 98.23l1.47 -1.47h1l1.47 1.47v1l-1.47 1.47h-1l-1.47 -1.47z" fill="#FFAE00"/><path d="M424.89 98.78l1.47 -1.47h1l1.47 1.47v1l-1.47 1.47h-1l-1.47 -1.47z" fill="#FFAE00"/><path d="M426.77 97.99l1.47 -1.47h1l1.47 1.47v1l-1.47 1.47h-1l-1.47 -1.47z" fill="#FFAE00"/><path d="M428.43 98.53l1.47 -1.47h1l1.47 1.47v1l-1.47 1.47h-1l-1.47 -1.47z" fill="#FFAE00"/><path d="M430.93 97.42l1.47 -1.47h1l1.47 1.47v1l-1.47 1.47h-1l-1.47 -1.47z" fill="#FFAE00"/><path d="M432.89 98.01l1.47 -1.47h1l1.47 1.47v1l-1.47 1.47h-1l-1.47 -1.47z" fill="#FFAE00"/><path d="M434 98.3l1.47 -1.47h1l1.47 1.47v1l-1.47 1.47h-1l-1.47 -1.47z" fill="#FFAE00"/><path d="M436.3 97.87l1.47 -1.47h1l1.47 1.47v1l-1.47 1.47h-1l-1.47 -1.47z" fill="#FFAE00"/><path d="M437.91 98.78l1.47 -1.47h1l1.47 1.47v1l-1.47 1.47h-1l-1.47 -1.47z" fill="#FFAE00"/><path d="M440.94 98.04l1.47 -1.47h1l1.47 1.47v1l-1.47 1.47h-1l-1.47 -1.47z" fill="#FFAE00"/><path d="M442.85 97.46l1.47 -1.47h1l1.47 1.47v1l-1.47 1.47h-1l-1.47 -1.47z" fill="#FFAE00"/><path d="M443.53 98.02l1.47 -1.47h1l1.47 1.47v1l-1.47 1.47h-1l-1.47 -1.47z" fill="#FFAE00"/><path d="M446.05 97.86l1.47 -1.47h1l1.47 1.47v1l-1.47 1.47h-1l-1.47 -1.47z" fill="#FFAE00"/><path d="M447.47 97.47l1.47 -1.47h1l1.47 1.47v1l-1.47 1.47h-1l-1.47 -1.47z" fill="#FFAE00"/><path d="M412.69 99.95l1.47 -1.47h1l1.47 1.47v1l-1.47 1.47h-1l-1.47 -1.47z" fill="#FFAE00"/><path d="M414.19 99.54l1.47 -1.47h1l1.47 1.47v1l-1.47 1.47h-1l-1.47 -1.47z" fill="#FFAE00"/><path d="M415.41 99.22l1.47 -1.47h1l1.47 1.47v1l-1.47 1.47h-1l-1.47 -1.47z" fill="#FFAE00"/><path d="M417.35 100.59l1.47 -1.47h1l1.47 1.47v1l-1.47 1.47h-1l-1.47 -1.47z" fill="#FFAE00"/><path d="M419.16 100.12l1.47 -1.47h1l1.47 1.47v1l-1.47 1.47h-1l-1.47 -1.47z" fill="#FFAE00"/><path d="M420.78 99.56l1.47 -1.47h1l1.47 1.47v1l-1.47 1.47h-1l-1.47 -1.47z" fill="#FFAE00"/><path d="M422.65 100.16l1.47 -1.47h1l1.47 1.47v1l-1.47 1.47h-1l-1.47 -1.47z" fill="#FFAE00"/><path d="M425.03 100.47l1.47 -1.47h1l1.47 1.47v1l-1.47 1.47h-1l-1.47 -1.47z" fill="#FFAE00"/><path d="M428.94 99.82l1.47 -1.47h1l1.47 1.47v1l-1.47 1.47h-1l-1.47 -1.47z" fill="#FFAE00"/><path d="M431.36 100.26l1.47 -1.47h1l1.47 1.47v1l-1.47 1.47h-1l-1.47 -1.47z" fill="#FFAE00"/><path d="M432.31 99.49l1.47 -1.47h1l1.47 1.47v1l-1.47 1.47h-1l-1.47 -1.47z" fill="#FFAE00"/><path d="M435.54 100.77l1.47 -1.47h1l1.47 1.47v1l-1.47 1.47h-1l-1.47 -1.47z" fill="#FFAE00"/><path d="M438.99 100.19l1.47 -1.47h1l1.47 1.47v1l-1.47 1.47h-1l-1.47 -1.47z" fill="#FFAE00"/><path d="M413.9 102.35l1.47 -1.47h1l1.47 1.47v1l-1.47 1.47h-1l-1.47 -1.47z" fill="#FFAE00"/><path d="M415.79 102.33l1.47 -1.47h1l1.47 1.47v1l-1.47 1.47h-1l-1.47 -1.47z" fill="#FFAE00"/><path d="M418.46 102.62l1.47 -1.47h1l1.47 1.47v1l-1.47 1.47h-1l-1.47 -1.47z" fill="#FFAE00"/><path d="M421.51 101.44l1.47 -1.47h1l1.47 1.47v1l-1.47 1.47h-1l-1.47 -1.47z" fill="#FFAE00"/><path d="M412.8 103.11l1.47 -1.47h1l1.47 1.47v1l-1.47 1.47h-1l-1.47 -1.47z" fill="#FFAE00"/><path d="M417.42 103.16l1.47 -1.47h1l1.47 1.47v1l-1.47 1.47h-1l-1.47 -1.47z" fill="#FFAE00"/><path d="M419.35 103.26l1.47 -1.47h1l1.47 1.47v1l-1.47 1.47h-1l-1.47 -1.47z" fill="#FFAE00"/><path d="M366.13 130.6l1.47 -1.47h1l1.47 1.47v1l-1.47 1.47h-1l-1.47 -1.47z" fill="#CD0000"/><path d="M375.33 131.6l1.47 -1.47h1l1.47 1.47v1l-1.47 1.47h-1l-1.47 -1.47z" fill="#CD0000"/><path d="M378.13 134.6l1.47 -1.47h1l1.47 1.47v1l-1.47 1.47h-1l-1.47 -1.47z" fill="#CD0000"/><path d="M379.93 134.6l1.47 -1.47h1l1.47 1.47v1l-1.47 1.47h-1l-1.47 -1.47z" fill="#CD0000"/><path d="M370.73 136.9l1.47 -1.47h1l1.47 1.47v1l-1.47 1.47h-1l-1.47 -1.47z" fill="#CD0000"/><path d="M382.73 137.5l1.47 -1.47h1l1.47 1.47v1l-1.47 1.47h-1l-1.47 -1.47z" fill="#CD0000"/><path d="M390.13 136.6l1.47 -1.47h1l1.47 1.47v1l-1.47 1.47h-1l-1.47 -1.47z" fill="#CD0000"/><path d="M387.93 139.2l1.47 -1.47h1l1.47 1.47v1l-1.47 1.47h-1l-1.47 -1.47z" fill="#CD0000"/><path d="M363.93 144.4l1.47 -1.47h1l1.47 1.47v1l-1.47 1.47h-1l-1.47 -1.47z" fill="#CD0000"/><path d="M363.93 146.6l1.47 -1.47h1l1.47 1.47v1l-1.47 1.47h-1l-1.47 -1.47z" fill="#CD0000"/><path d="M374.73 143.2l1.47 -1.47h1l1.47 1.47v1l-1.47 1.47h-1l-1.47 -1.47z" fill="#CD0000"/><path d="M379.93 143.2l1.47 -1.47h1l1.47 1.47v1l-1.47 1.47h-1l-1.47 -1.47z" fill="#CD0000"/><path d="M382.13 143.2l1.47 -1.47h1l1.47 1.47v1l-1.47 1.47h-1l-1.47 -1.47z" fill="#CD0000"/><path d="M378.73 146.6l1.47 -1.47h1l1.47 1.47v1l-1.47 1.47h-1l-1.47 -1.47z" fill="#CD0000"/><path d="M382.13 146.6l1.47 -1.47h1l1.47 1.47v1l-1.47 1.47h-1l-1.47 -1.47z" fill="#CD0000"/><path d="M386.73 147.8l1.47 -1.47h1l1.47 1.47v1l-1.47 1.47h-1l-1.47 -1.47z" fill="#CD0000"/><path d="M370.03 148.5l1.47 -1.47h1l1.47 1.47v1l-1.47 1.47h-1l-1.47 -1.47z" fill="#CD0000"/><path d="M374.03 148.5l1.47 -1.47h1l1.47 1.47v1l-1.47 1.47h-1l-1.47 -1.47z" fill="#CD0000"/><path d="M369.63 151.5l1.47 -1.47h1l1.47 1.47v1l-1.47 1.47h-1l-1.47 -1.47z" fill="#CD0000"/><path d="M373.03 151.5l1.47 -1.47h1l1.47 1.47v1l-1.47 1.47h-1l-1.47 -1.47z" fill="#CD0000"/><path d="M376.43 151.5l1.47 -1.47h1l1.47 1.47v1l-1.47 1.47h-1l-1.47 -1.47z" fill="#CD0000"/><path d="M371.03 153.5l1.47 -1.47h1l1.47 1.47v1l-1.47 1.47h-1l-1.47 -1.47z" fill="#CD0000"/><path d="M374.73 153.5l1.47 -1.47h1l1.47 1.47v1l-1.47 1.47h-1l-1.47 -1.47z" fill="#CD0000"/><path d="M378.03 150.5l1.47 -1.47h1l1.47 1.47v1l-1.47 1.47h-1l-1.47 -1.47z" fill="#CD0000"/><path d="M364.83 153.5l1.47 -1.47h1l1.47 1.47v1l-1.47 1.47h-1l-1.47 -1.47z" fill="#CD0000"/><path d="M375.33 156.4l1.47 -1.47h1l1.47 1.47v1l-1.47 1.47h-1l-1.47 -1.47z" fill="#CD0000"/><path d="M357.03 160.4l1.47 -1.47h1l1.47 1.47v1l-1.47 1.47h-1l-1.47 -1.47z" fill="#CD0000"/><path d="M365.03 162.6l1.47 -1.47h1l1.47 1.47v1l-1.47 1.47h-1l-1.47 -1.47z" fill="#CD0000"/><path d="M367.33 160.4l1.47 -1.47h1l1.47 1.47v1l-1.47 1.47h-1l-1.47 -1.47z" fill="#CD0000"/><path d="M371.93 162.6l1.47 -1.47h1l1.47 1.47v1l-1.47 1.47h-1l-1.47 -1.47z" fill="#CD0000"/><path d="M375.93 160.4l1.47 -1.47h1l1.47 1.47v1l-1.47 1.47h-1l-1.47 -1.47z" fill="#CD0000"/><path d="M378.13 161.5l1.47 -1.47h1l1.47 1.47v1l-1.47 1.47h-1l-1.47 -1.47z" fill="#CD0000"/><path d="M379.93 162.6l1.47 -1.47h1l1.47 1.47v1l-1.47 1.47h-1l-1.47 -1.47z" fill="#CD0000"/><path d="M389.63 160.4l1.47 -1.47h1l1.47 1.47v1l-1.47 1.47h-1l-1.47 -1.47z" fill="#CD0000"/><path d="M374.13 165.8l1.47 -1.47h1l1.47 1.47v1l-1.47 1.47h-1l-1.47 -1.47z" fill="#CD0000"/><path d="M381.63 170.1l1.47 -1.47h1l1.47 1.47v1l-1.47 1.47h-1l-1.47 -1.47z" fill="#CD0000"/><path d="M389.03 165.8l1.47 -1.47h1l1.47 1.47v1l-1.47 1.47h-1l-1.47 -1.47z" fill="#CD0000"/><path d="M389.03 144.9l1.47 -1.47h1l1.47 1.47v1l-1.47 1.47h-1l-1.47 -1.47z" fill="#006400"/><path d="M391.93 149.5l1.47 -1.47h1l1.47 1.47v1l-1.47 1.47h-1l-1.47 -1.47z" fill="#006400"/><path d="M357.03 162.6l1.47 -1.47h1l1.47 1.47v1l-1.47 1.47h-1l-1.47 -1.47z" fill="#006400"/><path d="M361.03 162.1l1.47 -1.47h1l1.47 1.47v1l-1.47 1.47h-1l-1.47 -1.47z" fill="#006400"/><path d="M365.03 159.8l1.47 -1.47h1l1.47 1.47v1l-1.47 1.47h-1l-1.47 -1.47z" fill="#006400"/><path d="M369.63 162.1l1.47 -1.47h1l1.47 1.47v1l-1.47 1.47h-1l-1.47 -1.47z" fill="#006400"/><path d="M382.73 161.5l1.47 -1.47h1l1.47 1.47v1l-1.47 1.47h-1l-1.47 -1.47z" fill="#006400"/><path d="M389.63 162.6l1.47 -1.47h1l1.47 1.47v1l-1.47 1.47h-1l-1.47 -1.47z" fill="#006400"/><path d="M383.33 167.2l1.47 -1.47h1l1.47 1.47v1l-1.47 1.47h-1l-1.47 -1.47z" fill="#006400"/><path d="M388.43 170.6l1.47 -1.47h1l1.47 1.47v1l-1.47 1.47h-1l-1.47 -1.47z" fill="#006400"/><path d="M390.43 136.4l1.47 -1.47h1l1.47 1.47v1l-1.47 1.47h-1l-1.47 -1.47z" fill="#CD0000"/><path d="M387.63 139.2l1.47 -1.47h1l1.47 1.47v1l-1.47 1.47h-1l-1.47 -1.47z" fill="#CD0000"/><path d="M394.43 139.2l1.47 -1.47h1l1.47 1.47v1l-1.47 1.47h-1l-1.47 -1.47z" fill="#CD0000"/><path d="M397.33 140.4l1.47 -1.47h1l1.47 1.47v1l-1.47 1.47h-1l-1.47 -1.47z" fill="#CD0000"/><path d="M400.13 138.1l1.47 -1.47h1l1.47 1.47v1l-1.47 1.47h-1l-1.47 -1.47z" fill="#CD0000"/><path d="M403.03 139.2l1.47 -1.47h1l1.47 1.47v1l-1.47 1.47h-1l-1.47 -1.47z" fill="#CD0000"/><path d="M399.63 141.5l1.47 -1.47h1l1.47 1.47v1l-1.47 1.47h-1l-1.47 -1.47z" fill="#CD0000"/><path d="M403.63 130.6l1.47 -1.47h1l1.47 1.47v1l-1.47 1.47h-1l-1.47 -1.47z" fill="#CD0000"/><path d="M383.03 137.5l1.47 -1.47h1l1.47 1.47v1l-1.47 1.47h-1l-1.47 -1.47z" fill="#CD0000"/><path d="M387.03 147.8l1.47 -1.47h1l1.47 1.47v1l-1.47 1.47h-1l-1.47 -1.47z" fill="#CD0000"/><path d="M407.63 145.5l1.47 -1.47h1l1.47 1.47v1l-1.47 1.47h-1l-1.47 -1.47z" fill="#CD0000"/><path d="M411.03 147.2l1.47 -1.47h1l1.47 1.47v1l-1.47 1.47h-1l-1.47 -1.47z" fill="#CD0000"/><path d="M414.43 145.5l1.47 -1.47h1l1.47 1.47v1l-1.47 1.47h-1l-1.47 -1.47z" fill="#CD0000"/><path d="M389.33 160.4l1.47 -1.47h1l1.47 1.47v1l-1.47 1.47h-1l-1.47 -1.47z" fill="#CD0000"/><path d="M399.03 160.4l1.47 -1.47h1l1.47 1.47v1l-1.47 1.47h-1l-1.47 -1.47z" fill="#CD0000"/><path d="M402.43 162.6l1.47 -1.47h1l1.47 1.47v1l-1.47 1.47h-1l-1.47 -1.47z" fill="#CD0000"/><path d="M388.73 165.8l1.47 -1.47h1l1.47 1.47v1l-1.47 1.47h-1l-1.47 -1.47z" fill="#CD0000"/><path d="M398.73 160.5l1.47 -1.47h1l1.47 1.47v1l-1.47 1.47h-1l-1.47 -1.47z" fill="#CD0000"/><path d="M402.73 162.2l1.47 -1.47h1l1.47 1.47v1l-1.47 1.47h-1l-1.47 -1.47z" fill="#CD0000"/><path d="M410.73 160.8l1.47 -1.47h1l1.47 1.47v1l-1.47 1.47h-1l-1.47 -1.47z" fill="#CD0000"/><path d="M414.73 159.4l1.47 -1.47h1l1.47 1.47v1l-1.47 1.47h-1l-1.47 -1.47z" fill="#CD0000"/><path d="M395.33 136.5l1.47 -1.47h1l1.47 1.47v1l-1.47 1.47h-1l-1.47 -1.47z" fill="#CD0000"/><path d="M394.73 139.4l1.47 -1.47h1l1.47 1.47v1l-1.47 1.47h-1l-1.47 -1.47z" fill="#CD0000"/><path d="M400.43 138.2l1.47 -1.47h1l1.47 1.47v1l-1.47 1.47h-1l-1.47 -1.47z" fill="#CD0000"/><path d="M402.13 139.4l1.47 -1.47h1l1.47 1.47v1l-1.47 1.47h-1l-1.47 -1.47z" fill="#CD0000"/><path d="M399.93 141.6l1.47 -1.47h1l1.47 1.47v1l-1.47 1.47h-1l-1.47 -1.47z" fill="#CD0000"/><path d="M398.73 127.9l1.47 -1.47h1l1.47 1.47v1l-1.47 1.47h-1l-1.47 -1.47z" fill="#CD0000"/><path d="M403.33 128.5l1.47 -1.47h1l1.47 1.47v1l-1.47 1.47h-1l-1.47 -1.47z" fill="#CD0000"/><path d="M404.43 126.8l1.47 -1.47h1l1.47 1.47v1l-1.47 1.47h-1l-1.47 -1.47z" fill="#CD0000"/><path d="M406.43 130.6l1.47 -1.47h1l1.47 1.47v1l-1.47 1.47h-1l-1.47 -1.47z" fill="#006400"/><path d="M405.33 142.6l1.47 -1.47h1l1.47 1.47v1l-1.47 1.47h-1l-1.47 -1.47z" fill="#006400"/><path d="M389.33 144.9l1.47 -1.47h1l1.47 1.47v1l-1.47 1.47h-1l-1.47 -1.47z" fill="#006400"/><path d="M392.13 149.5l1.47 -1.47h1l1.47 1.47v1l-1.47 1.47h-1l-1.47 -1.47z" fill="#006400"/><path d="M440.13 133.5l1.47 -1.47h1l1.47 1.47v1l-1.47 1.47h-1l-1.47 -1.47z" fill="#006400"/><path d="M389.93 162.6l1.47 -1.47h1l1.47 1.47v1l-1.47 1.47h-1l-1.47 -1.47z" fill="#006400"/><path d="M384.13 167.2l1.47 -1.47h1l1.47 1.47v1l-1.47 1.47h-1l-1.47 -1.47z" fill="#006400"/><path d="M388.13 170.6l1.47 -1.47h1l1.47 1.47v1l-1.47 1.47h-1l-1.47 -1.47z" fill="#006400"/><path d="M394.43 170.1l1.47 -1.47h1l1.47 1.47v1l-1.47 1.47h-1l-1.47 -1.47z" fill="#006400"/><path d="M405.03 142.2l1.47 -1.47h1l1.47 1.47v1l-1.47 1.47h-1l-1.47 -1.47z" fill="#006400"/><path d="M394.73 170.2l1.47 -1.47h1l1.47 1.47v1l-1.47 1.47h-1l-1.47 -1.47z" fill="#006400"/><path d="M393.03 149.6l1.47 -1.47h1l1.47 1.47v1l-1.47 1.47h-1l-1.47 -1.47z" fill="#006400"/><path d="M439.93 133.1l1.47 -1.47h1l1.47 1.47v1l-1.47 1.47h-1l-1.47 -1.47z" fill="#006400"/><path d="M423.93 157.6l1.47 -1.47h1l1.47 1.47v1l-1.47 1.47h-1l-1.47 -1.47z" fill="#006400"/><path d="M427.93 154.2l1.47 -1.47h1l1.47 1.47v1l-1.47 1.47h-1l-1.47 -1.47z" fill="#006400"/><path d="M439.63 133.2l1.47 -1.47h1l1.47 1.47v1l-1.47 1.47h-1l-1.47 -1.47z" fill="#006400"/><path d="M433.93 131.2l1.47 -1.47h1l1.47 1.47v1l-1.47 1.47h-1l-1.47 -1.47z" fill="#66CD00"/><path d="M440.13 148.9l1.47 -1.47h1l1.47 1.47v1l-1.47 1.47h-1l-1.47 -1.47z" fill="#66CD00"/><path d="M434.13 131.9l1.47 -1.47h1l1.47 1.47v1l-1.47 1.47h-1l-1.47 -1.47z" fill="#66CD00"/><path d="M445.03 136.5l1.47 -1.47h1l1.47 1.47v1l-1.47 1.47h-1l-1.47 -1.47z" fill="#66CD00"/><path d="M447.93 136.5l1.47 -1.47h1l1.47 1.47v1l-1.47 1.47h-1l-1.47 -1.47z" fill="#66CD00"/><path d="M451.33 138.8l1.47 -1.47h1l1.47 1.47v1l-1.47 1.47h-1l-1.47 -1.47z" fill="#66CD00"/><path d="M439.93 148.5l1.47 -1.47h1l1.47 1.47v1l-1.47 1.47h-1l-1.47 -1.47z" fill="#66CD00"/><path d="M438.13 126.8l1.47 -1.47h1l1.47 1.47v1l-1.47 1.47h-1l-1.47 -1.47z" fill="#66CD00"/><path d="M433.93 131.5l1.47 -1.47h1l1.47 1.47v1l-1.47 1.47h-1l-1.47 -1.47z" fill="#66CD00"/><path d="M444.73 136.1l1.47 -1.47h1l1.47 1.47v1l-1.47 1.47h-1l-1.47 -1.47z" fill="#66CD00"/><path d="M448.13 136.6l1.47 -1.47h1l1.47 1.47v1l-1.47 1.47h-1l-1.47 -1.47z" fill="#66CD00"/><path d="M453.93 138.4l1.47 -1.47h1l1.47 1.47v1l-1.47 1.47h-1l-1.47 -1.47z" fill="#66CD00"/><path d="M459.03 133.8l1.47 -1.47h1l1.47 1.47v1l-1.47 1.47h-1l-1.47 -1.47z" fill="#66CD00"/><path d="M455.63 118.4l1.47 -1.47h1l1.47 1.47v1l-1.47 1.47h-1l-1.47 -1.47z" fill="#66CD00"/><path d="M459.63 118.4l1.47 -1.47h1l1.47 1.47v1l-1.47 1.47h-1l-1.47 -1.47z" fill="#66CD00"/><path d="M459.03 143.5l1.47 -1.47h1l1.47 1.47v1l-1.47 1.47h-1l-1.47 -1.47z" fill="#66CD00"/><path d="M440.13 148.6l1.47 -1.47h1l1.47 1.47v1l-1.47 1.47h-1l-1.47 -1.47z" fill="#66CD00"/><path d="M449.93 100.6l1.47 -1.47h1l1.47 1.47v1l-1.47 1.47h-1l-1.47 -1.47z" fill="#66CD00"/><path d="M456.03 100.1l1.47 -1.47h1l1.47 1.47v1l-1.47 1.47h-1l-1.47 -1.47z" fill="#66CD00"/><path d="M459.53 134.2l1.47 -1.47h1l1.47 1.47v1l-1.47 1.47h-1l-1.47 -1.47z" fill="#66CD00"/><path d="M444.63 136.3l1.47 -1.47h1l1.47 1.47v1l-1.47 1.47h-1l-1.47 -1.47z" fill="#66CD00"/><path d="M447.83 136.3l1.47 -1.47h1l1.47 1.47v1l-1.47 1.47h-1l-1.47 -1.47z" fill="#66CD00"/><path d="M451.03 139l1.47 -1.47h1l1.47 1.47v1l-1.47 1.47h-1l-1.47 -1.47z" fill="#66CD00"/><path d="M453.73 138.5l1.47 -1.47h1l1.47 1.47v1l-1.47 1.47h-1l-1.47 -1.47z" fill="#66CD00"/><path d="M458.83 143.6l1.47 -1.47h1l1.47 1.47v1l-1.47 1.47h-1l-1.47 -1.47z" fill="#66CD00"/><path d="M461.33 151.3l1.47 -1.47h1l1.47 1.47v1l-1.47 1.47h-1l-1.47 -1.47z" fill="#66CD00"/><path d="M456.33 98l1.47 -1.47h1l1.47 1.47v1l-1.47 1.47h-1l-1.47 -1.47z" fill="#66CD00"/><path d="M450.53 100.6l1.47 -1.47h1l1.47 1.47v1l-1.47 1.47h-1l-1.47 -1.47z" fill="#66CD00"/><path d="M448.33 115l1.47 -1.47h1l1.47 1.47v1l-1.47 1.47h-1l-1.47 -1.47z" fill="#66CD00"/><path d="M455.33 118.7l1.47 -1.47h1l1.47 1.47v1l-1.47 1.47h-1l-1.47 -1.47z" fill="#66CD00"/><path d="M459.53 118.7l1.47 -1.47h1l1.47 1.47v1l-1.47 1.47h-1l-1.47 -1.47z" fill="#66CD00"/><path d="M431.93 135.9l1.47 -1.47h1l1.47 1.47v1l-1.47 1.47h-1l-1.47 -1.47z" fill="#FFAE00"/><path d="M429.03 139.9l1.47 -1.47h1l1.47 1.47v1l-1.47 1.47h-1l-1.47 -1.47z" fill="#FFAE00"/><path d="M421.63 130.2l1.47 -1.47h1l1.47 1.47v1l-1.47 1.47h-1l-1.47 -1.47z" fill="#FFAE00"/><path d="M413.03 127.9l1.47 -1.47h1l1.47 1.47v1l-1.47 1.47h-1l-1.47 -1.47z" fill="#FFAE00"/><path d="M427.33 126.2l1.47 -1.47h1l1.47 1.47v1l-1.47 1.47h-1l-1.47 -1.47z" fill="#FFAE00"/><path d="M431.33 126.2l1.47 -1.47h1l1.47 1.47v1l-1.47 1.47h-1l-1.47 -1.47z" fill="#FFAE00"/><path d="M434.13 126.2l1.47 -1.47h1l1.47 1.47v1l-1.47 1.47h-1l-1.47 -1.47z" fill="#FFAE00"/><path d="M443.33 129.1l1.47 -1.47h1l1.47 1.47v1l-1.47 1.47h-1l-1.47 -1.47z" fill="#FFAE00"/><path d="M446.13 130.2l1.47 -1.47h1l1.47 1.47v1l-1.47 1.47h-1l-1.47 -1.47z" fill="#FFAE00"/><path d="M447.33 126.2l1.47 -1.47h1l1.47 1.47v1l-1.47 1.47h-1l-1.47 -1.47z" fill="#FFAE00"/><path d="M431.63 136.1l1.47 -1.47h1l1.47 1.47v1l-1.47 1.47h-1l-1.47 -1.47z" fill="#FFAE00"/><path d="M429.33 140.1l1.47 -1.47h1l1.47 1.47v1l-1.47 1.47h-1l-1.47 -1.47z" fill="#FFAE00"/><path d="M446.43 126.9l1.47 -1.47h1l1.47 1.47v1l-1.47 1.47h-1l-1.47 -1.47z" fill="#FFAE00"/><path d="M444.13 129.8l1.47 -1.47h1l1.47 1.47v1l-1.47 1.47h-1l-1.47 -1.47z" fill="#FFAE00"/><path d="M447.03 122.9l1.47 -1.47h1l1.47 1.47v1l-1.47 1.47h-1l-1.47 -1.47z" fill="#FFAE00"/><path d="M448.73 118.9l1.47 -1.47h1l1.47 1.47v1l-1.47 1.47h-1l-1.47 -1.47z" fill="#FFAE00"/><path d="M451.03 113.8l1.47 -1.47h1l1.47 1.47v1l-1.47 1.47h-1l-1.47 -1.47z" fill="#FFAE00"/><path d="M453.33 108.6l1.47 -1.47h1l1.47 1.47v1l-1.47 1.47h-1l-1.47 -1.47z" fill="#FFAE00"/><path d="M457.93 103.5l1.47 -1.47h1l1.47 1.47v1l-1.47 1.47h-1l-1.47 -1.47z" fill="#FFAE00"/><path d="M460.73 104.1l1.47 -1.47h1l1.47 1.47v1l-1.47 1.47h-1l-1.47 -1.47z" fill="#FFAE00"/><path d="M470.23 88.9l1.47 -1.47h1l1.47 1.47v1l-1.47 1.47h-1l-1.47 -1.47z" fill="#FFAE00"/><path d="M457.93 95.3l1.47 -1.47h1l1.47 1.47v1l-1.47 1.47h-1l-1.47 -1.47z" fill="#FFAE00"/><path d="M461.73 100.6l1.47 -1.47h1l1.47 1.47v1l-1.47 1.47h-1l-1.47 -1.47z" fill="#FFAE00"/><path d="M457.93 103.3l1.47 -1.47h1l1.47 1.47v1l-1.47 1.47h-1l-1.47 -1.47z" fill="#FFAE00"/><path d="M461.73 104.4l1.47 -1.47h1l1.47 1.47v1l-1.47 1.47h-1l-1.47 -1.47z" fill="#FFAE00"/><path d="M453.13 109.7l1.47 -1.47h1l1.47 1.47v1l-1.47 1.47h-1l-1.47 -1.47z" fill="#FFAE00"/><path d="M451.53 113.9l1.47 -1.47h1l1.47 1.47v1l-1.47 1.47h-1l-1.47 -1.47z" fill="#FFAE00"/><path d="M447.33 119.3l1.47 -1.47h1l1.47 1.47v1l-1.47 1.47h-1l-1.47 -1.47z" fill="#FFAE00"/><path d="M448.33 123.5l1.47 -1.47h1l1.47 1.47v1l-1.47 1.47h-1l-1.47 -1.47z" fill="#FFAE00"/><path d="M446.73 126.7l1.47 -1.47h1l1.47 1.47v1l-1.47 1.47h-1l-1.47 -1.47z" fill="#FFAE00"/><path d="M445.13 130.5l1.47 -1.47h1l1.47 1.47v1l-1.47 1.47h-1l-1.47 -1.47z" fill="#FFAE00"/><path d="M406.73 75.8l1.47 -1.47h1l1.47 1.47v1l-1.47 1.47h-1l-1.47 -1.47z" fill="#FFAE00"/><path d="M401.73 89.2l1.47 -1.47h1l1.47 1.47v1l-1.47 1.47h-1l-1.47 -1.47z" fill="#FFAE00"/><path d="M405.03 92.5l1.47 -1.47h1l1.47 1.47v1l-1.47 1.47h-1l-1.47 -1.47z" fill="#FFAE00"/><path d="M413.73 84.5l1.47 -1.47h1l1.47 1.47v1l-1.47 1.47h-1l-1.47 -1.47z" fill="#FFAE00"/><path d="M419.73 79.8l1.47 -1.47h1l1.47 1.47v1l-1.47 1.47h-1l-1.47 -1.47z" fill="#FFAE00"/><path d="M429.73 78.9l1.47 -1.47h1l1.47 1.47v1l-1.47 1.47h-1l-1.47 -1.47z" fill="#FFAE00"/><path d="M437.03 81.2l1.47 -1.47h1l1.47 1.47v1l-1.47 1.47h-1l-1.47 -1.47z" fill="#FFAE00"/><path d="M440.33 81.2l1.47 -1.47h1l1.47 1.47v1l-1.47 1.47h-1l-1.47 -1.47z" fill="#FFAE00"/><path d="M457.73 95.8l1.47 -1.47h1l1.47 1.47v1l-1.47 1.47h-1l-1.47 -1.47z" fill="#FFAE00"/><path d="M458.33 103.2l1.47 -1.47h1l1.47 1.47v1l-1.47 1.47h-1l-1.47 -1.47z" fill="#FFAE00"/><path d="M461.03 104.5l1.47 -1.47h1l1.47 1.47v1l-1.47 1.47h-1l-1.47 -1.47z" fill="#FFAE00"/><path d="M401.33 89.6l1.47 -1.47h1l1.47 1.47v1l-1.47 1.47h-1l-1.47 -1.47z" fill="#FFAE00"/><path d="M405.33 93.1l1.47 -1.47h1l1.47 1.47v1l-1.47 1.47h-1l-1.47 -1.47z" fill="#FFAE00"/><path d="M378.53 110.2l1.47 -1.47h1l1.47 1.47v1l-1.47 1.47h-1l-1.47 -1.47z" fill="#FFAE00"/><path d="M381.93 109.9l1.47 -1.47h1l1.47 1.47v1l-1.47 1.47h-1l-1.47 -1.47z" fill="#CD0000"/><path d="M385.33 111l1.47 -1.47h1l1.47 1.47v1l-1.47 1.47h-1l-1.47 -1.47z" fill="#CD0000"/><path d="M390.13 111.9l1.47 -1.47h1l1.47 1.47v1l-1.47 1.47h-1l-1.47 -1.47z" fill="#CD0000"/><path d="M392.43 114.2l1.47 -1.47h1l1.47 1.47v1l-1.47 1.47h-1l-1.47 -1.47z" fill="#CD0000"/><path d="M357.03 114.4l1.47 -1.47h1l1.47 1.47v1l-1.47 1.47h-1l-1.47 -1.47z" fill="#CD0000"/><path d="M365.63 117.9l1.47 -1.47h1l1.47 1.47v1l-1.47 1.47h-1l-1.47 -1.47z" fill="#CD0000"/><path d="M386.93 117.1l1.47 -1.47h1l1.47 1.47v1l-1.47 1.47h-1l-1.47 -1.47z" fill="#CD0000"/><path d="M375.33 122l1.47 -1.47h1l1.47 1.47v1l-1.47 1.47h-1l-1.47 -1.47z" fill="#CD0000"/><path d="M378.13 122l1.47 -1.47h1l1.47 1.47v1l-1.47 1.47h-1l-1.47 -1.47z" fill="#CD0000"/><path d="M381.03 122.8l1.47 -1.47h1l1.47 1.47v1l-1.47 1.47h-1l-1.47 -1.47z" fill="#CD0000"/><path d="M361.63 126.6l1.47 -1.47h1l1.47 1.47v1l-1.47 1.47h-1l-1.47 -1.47z" fill="#CD0000"/><path d="M368.43 125.4l1.47 -1.47h1l1.47 1.47v1l-1.47 1.47h-1l-1.47 -1.47z" fill="#CD0000"/><path d="M366.13 128.5l1.47 -1.47h1l1.47 1.47v1l-1.47 1.47h-1l-1.47 -1.47z" fill="#CD0000"/><path d="M366.13 130.8l1.47 -1.47h1l1.47 1.47v1l-1.47 1.47h-1l-1.47 -1.47z" fill="#CD0000"/><path d="M374.13 127.7l1.47 -1.47h1l1.47 1.47v1l-1.47 1.47h-1l-1.47 -1.47z" fill="#CD0000"/><path d="M379.93 126.6l1.47 -1.47h1l1.47 1.47v1l-1.47 1.47h-1l-1.47 -1.47z" fill="#CD0000"/><path d="M384.73 127.9l1.47 -1.47h1l1.47 1.47v1l-1.47 1.47h-1l-1.47 -1.47z" fill="#CD0000"/><path d="M374.73 131.4l1.47 -1.47h1l1.47 1.47v1l-1.47 1.47h-1l-1.47 -1.47z" fill="#CD0000"/><path d="M370.73 135.9l1.47 -1.47h1l1.47 1.47v1l-1.47 1.47h-1l-1.47 -1.47z" fill="#CD0000"/><path d="M378.13 134.8l1.47 -1.47h1l1.47 1.47v1l-1.47 1.47h-1l-1.47 -1.47z" fill="#CD0000"/><path d="M379.93 134.8l1.47 -1.47h1l1.47 1.47v1l-1.47 1.47h-1l-1.47 -1.47z" fill="#CD0000"/><path d="M413.93 92.3l1.47 -1.47h1l1.47 1.47v1l-1.47 1.47h-1l-1.47 -1.47z" fill="#CD0000"/><path d="M399.03 100.5l1.47 -1.47h1l1.47 1.47v1l-1.47 1.47h-1l-1.47 -1.47z" fill="#CD0000"/><path d="M397.33 108.5l1.47 -1.47h1l1.47 1.47v1l-1.47 1.47h-1l-1.47 -1.47z" fill="#CD0000"/><path d="M385.33 111.4l1.47 -1.47h1l1.47 1.47v1l-1.47 1.47h-1l-1.47 -1.47z" fill="#CD0000"/><path d="M391.03 111.4l1.47 -1.47h1l1.47 1.47v1l-1.47 1.47h-1l-1.47 -1.47z" fill="#CD0000"/><path d="M393.33 114.8l1.47 -1.47h1l1.47 1.47v1l-1.47 1.47h-1l-1.47 -1.47z" fill="#CD0000"/><path d="M396.73 112.5l1.47 -1.47h1l1.47 1.47v1l-1.47 1.47h-1l-1.47 -1.47z" fill="#CD0000"/><path d="M387.03 117.1l1.47 -1.47h1l1.47 1.47v1l-1.47 1.47h-1l-1.47 -1.47z" fill="#CD0000"/><path d="M384.73 127.9l1.47 -1.47h1l1.47 1.47v1l-1.47 1.47h-1l-1.47 -1.47z" fill="#CD0000"/><path d="M399.03 127.9l1.47 -1.47h1l1.47 1.47v1l-1.47 1.47h-1l-1.47 -1.47z" fill="#CD0000"/><path d="M403.03 122.2l1.47 -1.47h1l1.47 1.47v1l-1.47 1.47h-1l-1.47 -1.47z" fill="#CD0000"/><path d="M403.03 116.5l1.47 -1.47h1l1.47 1.47v1l-1.47 1.47h-1l-1.47 -1.47z" fill="#CD0000"/><path d="M401.93 130.2l1.47 -1.47h1l1.47 1.47v1l-1.47 1.47h-1l-1.47 -1.47z" fill="#CD0000"/><path d="M389.93 135.4l1.47 -1.47h1l1.47 1.47v1l-1.47 1.47h-1l-1.47 -1.47z" fill="#CD0000"/><path d="M395.03 135.9l1.47 -1.47h1l1.47 1.47v1l-1.47 1.47h-1l-1.47 -1.47z" fill="#CD0000"/><path d="M452.43 83.6l1.47 -1.47h1l1.47 1.47v1l-1.47 1.47h-1l-1.47 -1.47z" fill="#CD0000"/><path d="M471.83 103.3l1.47 -1.47h1l1.47 1.47v1l-1.47 1.47h-1l-1.47 -1.47z" fill="#CD0000"/><path d="M461.33 123l1.47 -1.47h1l1.47 1.47v1l-1.47 1.47h-1l-1.47 -1.47z" fill="#CD0000"/><path d="M464.13 126.5l1.47 -1.47h1l1.47 1.47v1l-1.47 1.47h-1l-1.47 -1.47z" fill="#CD0000"/><path d="M451.73 83.2l1.47 -1.47h1l1.47 1.47v1l-1.47 1.47h-1l-1.47 -1.47z" fill="#CD0000"/><path d="M413.03 92.5l1.47 -1.47h1l1.47 1.47v1l-1.47 1.47h-1l-1.47 -1.47z" fill="#CD0000"/><path d="M461.33 122.9l1.47 -1.47h1l1.47 1.47v1l-1.47 1.47h-1l-1.47 -1.47z" fill="#CD0000"/><path d="M409.33 92.7l1.47 -1.47h1l1.47 1.47v1l-1.47 1.47h-1l-1.47 -1.47z" fill="#66CD00"/><path d="M400.73 98.8l1.47 -1.47h1l1.47 1.47v1l-1.47 1.47h-1l-1.47 -1.47z" fill="#66CD00"/><path d="M401.33 114.8l1.47 -1.47h1l1.47 1.47v1l-1.47 1.47h-1l-1.47 -1.47z" fill="#66CD00"/><path d="M399.03 124.5l1.47 -1.47h1l1.47 1.47v1l-1.47 1.47h-1l-1.47 -1.47z" fill="#66CD00"/><path d="M424.33 83.2l1.47 -1.47h1l1.47 1.47v1l-1.47 1.47h-1l-1.47 -1.47z" fill="#66CD00"/><path d="M409.03 92.5l1.47 -1.47h1l1.47 1.47v1l-1.47 1.47h-1l-1.47 -1.47z" fill="#66CD00"/><path d="M401.03 98.9l1.47 -1.47h1l1.47 1.47v1l-1.47 1.47h-1l-1.47 -1.47z" fill="#66CD00"/><path d="M450.33 100.5l1.47 -1.47h1l1.47 1.47v1l-1.47 1.47h-1l-1.47 -1.47z" fill="#66CD00"/><path d="M456.33 97.8l1.47 -1.47h1l1.47 1.47v1l-1.47 1.47h-1l-1.47 -1.47z" fill="#66CD00"/><path d="M455.73 118.5l1.47 -1.47h1l1.47 1.47v1l-1.47 1.47h-1l-1.47 -1.47z" fill="#66CD00"/><path d="M459.73 118.5l1.47 -1.47h1l1.47 1.47v1l-1.47 1.47h-1l-1.47 -1.47z" fill="#66CD00"/><path d="M405.93 101.6l1.47 -1.47h1l1.47 1.47v1l-1.47 1.47h-1l-1.47 -1.47z" fill="#006400"/><path d="M403.03 118.8l1.47 -1.47h1l1.47 1.47v1l-1.47 1.47h-1l-1.47 -1.47z" fill="#006400"/><path d="M405.93 130.8l1.47 -1.47h1l1.47 1.47v1l-1.47 1.47h-1l-1.47 -1.47z" fill="#006400"/><path d="M405.73 101.2l1.47 -1.47h1l1.47 1.47v1l-1.47 1.47h-1l-1.47 -1.47z" fill="#006400"/><path d="M447.03 104.5l1.47 -1.47h1l1.47 1.47v1l-1.47 1.47h-1l-1.47 -1.47z" fill="#006400"/></g>
<path d="M350.28 32.55V193.07M330.7 48.9H524.5M369.66 32.55V193.07M330.7 64.95H524.5M389.04 32.55V193.07M330.7 81.01H524.5M408.42 32.55V193.07M330.7 97.06H524.5M427.8 32.55V193.07M330.7 113.11H524.5M447.18 32.55V193.07M330.7 129.16H524.5M466.56 32.55V193.07M330.7 145.21H524.5M485.94 32.55V193.07M330.7 161.27H524.5M505.32 32.55V193.07M330.7 177.32H524.5" stroke="#c2c2c2" stroke-width="1.15" stroke-dasharray="1.25 2.18" fill="none"/>
<g clip-path="url(#c1)">
<path d="M330.7 193.07L524.5 32.55" stroke="#444" stroke-width="1.1" stroke-dasharray="5.2 3" fill="none"/>
<path d="M330.7 188.39L524.5 39.91" stroke="#303030" stroke-width="1.05" fill="none"/>
</g>
<rect x="330.7" y="32.55" width="193.8" height="160.52" fill="none" stroke="#1e1e1e" stroke-width="1.25" stroke-linejoin="round"/>
<path d="M337.88 193.07V199.57M330.7 187.12H324.2M382.74 193.07V199.57M330.7 149.97H324.2M427.6 193.07V199.57M330.7 112.81H324.2M472.46 193.07V199.57M330.7 75.65H324.2M517.32 193.07V199.57M330.7 38.5H324.2" stroke="#1e1e1e" stroke-width="1.25" fill="none"/>
<text transform="translate(337.88 218.47) scale(0.93 1.06)" font-size="11.3" text-anchor="middle">0</text>
<text transform="translate(315.1 187.12) rotate(-90) scale(0.93 1.06)" font-size="11.3" text-anchor="middle">0</text>
<text transform="translate(382.74 218.47) scale(0.93 1.06)" font-size="11.3" text-anchor="middle">1</text>
<text transform="translate(315.1 149.97) rotate(-90) scale(0.93 1.06)" font-size="11.3" text-anchor="middle">1</text>
<text transform="translate(427.6 218.47) scale(0.93 1.06)" font-size="11.3" text-anchor="middle">2</text>
<text transform="translate(315.1 112.81) rotate(-90) scale(0.93 1.06)" font-size="11.3" text-anchor="middle">2</text>
<text transform="translate(472.46 218.47) scale(0.93 1.06)" font-size="11.3" text-anchor="middle">3</text>
<text transform="translate(315.1 75.65) rotate(-90) scale(0.93 1.06)" font-size="11.3" text-anchor="middle">3</text>
<text transform="translate(517.32 218.47) scale(0.93 1.06)" font-size="11.3" text-anchor="middle">4</text>
<text transform="translate(315.1 38.5) rotate(-90) scale(0.93 1.06)" font-size="11.3" text-anchor="middle">4</text>
<text x="427.6" y="244.87" font-size="11.3" text-anchor="middle">Predicted Shannon index</text>
<text transform="translate(288.5 112.81) rotate(-90)" font-size="11.3" text-anchor="middle">Measured Shannon Index</text>
<text transform="translate(427.6 10.45) scale(1 1.1)" font-size="13.65" font-weight="bold" text-anchor="middle">Diversity, Resolution: 0.04 ha</text>
<clipPath id="c2"><rect x="52.7" y="306.2" width="194.16" height="159.9"/></clipPath>
<g clip-path="url(#c2)"><path d="M122.63 394.8l1.47 -1.47h1l1.47 1.47v1l-1.47 1.47h-1l-1.47 -1.47z" fill="#006400"/><path d="M124.93 404.7l1.47 -1.47h1l1.47 1.47v1l-1.47 1.47h-1l-1.47 -1.47z" fill="#006400"/><path d="M107.43 424.9l1.47 -1.47h1l1.47 1.47v1l-1.47 1.47h-1l-1.47 -1.47z" fill="#006400"/><path d="M99.03 432.5l1.47 -1.47h1l1.47 1.47v1l-1.47 1.47h-1l-1.47 -1.47z" fill="#006400"/><path d="M110.43 432.6l1.47 -1.47h1l1.47 1.47v1l-1.47 1.47h-1l-1.47 -1.47z" fill="#006400"/><path d="M115.03 437l1.47 -1.47h1l1.47 1.47v1l-1.47 1.47h-1l-1.47 -1.47z" fill="#006400"/><path d="M119.33 437l1.47 -1.47h1l1.47 1.47v1l-1.47 1.47h-1l-1.47 -1.47z" fill="#006400"/><path d="M125.43 439.5l1.47 -1.47h1l1.47 1.47v1l-1.47 1.47h-1l-1.47 -1.47z" fill="#006400"/><path d="M129.53 437l1.47 -1.47h1l1.47 1.47v1l-1.47 1.47h-1l-1.47 -1.47z" fill="#006400"/><path d="M103.13 447.1l1.47 -1.47h1l1.47 1.47v1l-1.47 1.47h-1l-1.47 -1.47z" fill="#006400"/><path d="M80.73 449.7l1.47 -1.47h1l1.47 1.47v1l-1.47 1.47h-1l-1.47 -1.47z" fill="#006400"/><path d="M65.53 455l1.47 -1.47h1l1.47 1.47v1l-1.47 1.47h-1l-1.47 -1.47z" fill="#006400"/><path d="M59.43 457.3l1.47 -1.47h1l1.47 1.47v1l-1.47 1.47h-1l-1.47 -1.47z" fill="#006400"/><path d="M153.03 381l1.47 -1.47h1l1.47 1.47v1l-1.47 1.47h-1l-1.47 -1.47z" fill="#006400"/><path d="M151.53 385.9l1.47 -1.47h1l1.47 1.47v1l-1.47 1.47h-1l-1.47 -1.47z" fill="#006400"/><path d="M147.73 387.4l1.47 -1.47h1l1.47 1.47v1l-1.47 1.47h-1l-1.47 -1.47z" fill="#006400"/><path d="M127.13 387.4l1.47 -1.47h1l1.47 1.47v1l-1.47 1.47h-1l-1.47 -1.47z" fill="#006400"/><path d="M140.93 397.5l1.47 -1.47h1l1.47 1.47v1l-1.47 1.47h-1l-1.47 -1.47z" fill="#006400"/><path d="M160.43 394.7l1.47 -1.47h1l1.47 1.47v1l-1.47 1.47h-1l-1.47 -1.47z" fill="#006400"/><path d="M167.13 397.5l1.47 -1.47h1l1.47 1.47v1l-1.47 1.47h-1l-1.47 -1.47z" fill="#006400"/><path d="M177.43 392.5l1.47 -1.47h1l1.47 1.47v1l-1.47 1.47h-1l-1.47 -1.47z" fill="#006400"/><path d="M186.33 382.9l1.47 -1.47h1l1.47 1.47v1l-1.47 1.47h-1l-1.47 -1.47z" fill="#006400"/><path d="M186.33 387.1l1.47 -1.47h1l1.47 1.47v1l-1.47 1.47h-1l-1.47 -1.47z" fill="#006400"/><path d="M165.53 405.1l1.47 -1.47h1l1.47 1.47v1l-1.47 1.47h-1l-1.47 -1.47z" fill="#006400"/><path d="M136.63 417.3l1.47 -1.47h1l1.47 1.47v1l-1.47 1.47h-1l-1.47 -1.47z" fill="#006400"/><path d="M155.33 417.3l1.47 -1.47h1l1.47 1.47v1l-1.47 1.47h-1l-1.47 -1.47z" fill="#006400"/><path d="M143.63 419.9l1.47 -1.47h1l1.47 1.47v1l-1.47 1.47h-1l-1.47 -1.47z" fill="#006400"/><path d="M132.53 430.1l1.47 -1.47h1l1.47 1.47v1l-1.47 1.47h-1l-1.47 -1.47z" fill="#006400"/><path d="M142.43 427.5l1.47 -1.47h1l1.47 1.47v1l-1.47 1.47h-1l-1.47 -1.47z" fill="#006400"/><path d="M157.33 427.5l1.47 -1.47h1l1.47 1.47v1l-1.47 1.47h-1l-1.47 -1.47z" fill="#006400"/><path d="M152.83 380.3l1.47 -1.47h1l1.47 1.47v1l-1.47 1.47h-1l-1.47 -1.47z" fill="#006400"/><path d="M151.33 384.9l1.47 -1.47h1l1.47 1.47v1l-1.47 1.47h-1l-1.47 -1.47z" fill="#006400"/><path d="M147.53 387.3l1.47 -1.47h1l1.47 1.47v1l-1.47 1.47h-1l-1.47 -1.47z" fill="#006400"/><path d="M177.73 392.2l1.47 -1.47h1l1.47 1.47v1l-1.47 1.47h-1l-1.47 -1.47z" fill="#006400"/><path d="M122.63 410.1l1.47 -1.47h1l1.47 1.47v1l-1.47 1.47h-1l-1.47 -1.47z" fill="#CD0000"/><path d="M123.83 412.1l1.47 -1.47h1l1.47 1.47v1l-1.47 1.47h-1l-1.47 -1.47z" fill="#CD0000"/><path d="M130.23 414.6l1.47 -1.47h1l1.47 1.47v1l-1.47 1.47h-1l-1.47 -1.47z" fill="#CD0000"/><path d="M130.53 390.3l1.47 -1.47h1l1.47 1.47v1l-1.47 1.47h-1l-1.47 -1.47z" fill="#CD0000"/><path d="M77.73 427.6l1.47 -1.47h1l1.47 1.47v1l-1.47 1.47h-1l-1.47 -1.47z" fill="#CD0000"/><path d="M80.03 434.5l1.47 -1.47h1l1.47 1.47v1l-1.47 1.47h-1l-1.47 -1.47z" fill="#CD0000"/><path d="M87.63 432.5l1.47 -1.47h1l1.47 1.47v1l-1.47 1.47h-1l-1.47 -1.47z" fill="#CD0000"/><path d="M89.93 434.5l1.47 -1.47h1l1.47 1.47v1l-1.47 1.47h-1l-1.47 -1.47z" fill="#CD0000"/><path d="M108.13 432.6l1.47 -1.47h1l1.47 1.47v1l-1.47 1.47h-1l-1.47 -1.47z" fill="#CD0000"/><path d="M71.63 439.5l1.47 -1.47h1l1.47 1.47v1l-1.47 1.47h-1l-1.47 -1.47z" fill="#CD0000"/><path d="M88.33 439.5l1.47 -1.47h1l1.47 1.47v1l-1.47 1.47h-1l-1.47 -1.47z" fill="#CD0000"/><path d="M61.43 444.4l1.47 -1.47h1l1.47 1.47v1l-1.47 1.47h-1l-1.47 -1.47z" fill="#CD0000"/><path d="M72.03 444.4l1.47 -1.47h1l1.47 1.47v1l-1.47 1.47h-1l-1.47 -1.47z" fill="#CD0000"/><path d="M99.83 444.4l1.47 -1.47h1l1.47 1.47v1l-1.47 1.47h-1l-1.47 -1.47z" fill="#CD0000"/><path d="M56.33 447.1l1.47 -1.47h1l1.47 1.47v1l-1.47 1.47h-1l-1.47 -1.47z" fill="#CD0000"/><path d="M68.13 447.1l1.47 -1.47h1l1.47 1.47v1l-1.47 1.47h-1l-1.47 -1.47z" fill="#CD0000"/><path d="M59.43 449.7l1.47 -1.47h1l1.47 1.47v1l-1.47 1.47h-1l-1.47 -1.47z" fill="#CD0000"/><path d="M61.73 452l1.47 -1.47h1l1.47 1.47v1l-1.47 1.47h-1l-1.47 -1.47z" fill="#CD0000"/><path d="M64.73 452l1.47 -1.47h1l1.47 1.47v1l-1.47 1.47h-1l-1.47 -1.47z" fill="#CD0000"/><path d="M75.73 452l1.47 -1.47h1l1.47 1.47v1l-1.47 1.47h-1l-1.47 -1.47z" fill="#CD0000"/><path d="M54.83 455l1.47 -1.47h1l1.47 1.47v1l-1.47 1.47h-1l-1.47 -1.47z" fill="#CD0000"/><path d="M57.93 455l1.47 -1.47h1l1.47 1.47v1l-1.47 1.47h-1l-1.47 -1.47z" fill="#CD0000"/><path d="M53.33 457.3l1.47 -1.47h1l1.47 1.47v1l-1.47 1.47h-1l-1.47 -1.47z" fill="#CD0000"/><path d="M63.23 452l1.47 -1.47h1l1.47 1.47v1l-1.47 1.47h-1l-1.47 -1.47z" fill="#CD0000"/><path d="M135.53 394.7l1.47 -1.47h1l1.47 1.47v1l-1.47 1.47h-1l-1.47 -1.47z" fill="#CD0000"/><path d="M151.83 397.5l1.47 -1.47h1l1.47 1.47v1l-1.47 1.47h-1l-1.47 -1.47z" fill="#CD0000"/><path d="M172.63 392.5l1.47 -1.47h1l1.47 1.47v1l-1.47 1.47h-1l-1.47 -1.47z" fill="#CD0000"/><path d="M179.73 379.5l1.47 -1.47h1l1.47 1.47v1l-1.47 1.47h-1l-1.47 -1.47z" fill="#CD0000"/><path d="M135.53 402.7l1.47 -1.47h1l1.47 1.47v1l-1.47 1.47h-1l-1.47 -1.47z" fill="#CD0000"/><path d="M139.03 405.1l1.47 -1.47h1l1.47 1.47v1l-1.47 1.47h-1l-1.47 -1.47z" fill="#CD0000"/><path d="M134.03 410l1.47 -1.47h1l1.47 1.47v1l-1.47 1.47h-1l-1.47 -1.47z" fill="#CD0000"/><path d="M134.83 412.3l1.47 -1.47h1l1.47 1.47v1l-1.47 1.47h-1l-1.47 -1.47z" fill="#CD0000"/><path d="M149.73 410.7l1.47 -1.47h1l1.47 1.47v1l-1.47 1.47h-1l-1.47 -1.47z" fill="#CD0000"/><path d="M131.43 414.9l1.47 -1.47h1l1.47 1.47v1l-1.47 1.47h-1l-1.47 -1.47z" fill="#CD0000"/><path d="M134.03 417.3l1.47 -1.47h1l1.47 1.47v1l-1.47 1.47h-1l-1.47 -1.47z" fill="#CD0000"/><path d="M170.33 364.5l1.47 -1.47h1l1.47 1.47v1l-1.47 1.47h-1l-1.47 -1.47z" fill="#CD0000"/><path d="M135.33 372.7l1.47 -1.47h1l1.47 1.47v1l-1.47 1.47h-1l-1.47 -1.47z" fill="#CD0000"/><path d="M139.13 375.5l1.47 -1.47h1l1.47 1.47v1l-1.47 1.47h-1l-1.47 -1.47z" fill="#CD0000"/><path d="M180.23 377.7l1.47 -1.47h1l1.47 1.47v1l-1.47 1.47h-1l-1.47 -1.47z" fill="#CD0000"/><path d="M192.13 375.5l1.47 -1.47h1l1.47 1.47v1l-1.47 1.47h-1l-1.47 -1.47z" fill="#CD0000"/><path d="M148.53 380.3l1.47 -1.47h1l1.47 1.47v1l-1.47 1.47h-1l-1.47 -1.47z" fill="#FFAE00"/><path d="M155.33 385.6l1.47 -1.47h1l1.47 1.47v1l-1.47 1.47h-1l-1.47 -1.47z" fill="#FFAE00"/><path d="M169.63 320.3l1.47 -1.47h1l1.47 1.47v1l-1.47 1.47h-1l-1.47 -1.47z" fill="#FFAE00"/><path d="M170.83 323.3l1.47 -1.47h1l1.47 1.47v1l-1.47 1.47h-1l-1.47 -1.47z" fill="#FFAE00"/><path d="M176.03 328.5l1.47 -1.47h1l1.47 1.47v1l-1.47 1.47h-1l-1.47 -1.47z" fill="#FFAE00"/><path d="M188.63 328.5l1.47 -1.47h1l1.47 1.47v1l-1.47 1.47h-1l-1.47 -1.47z" fill="#FFAE00"/><path d="M154.33 333.5l1.47 -1.47h1l1.47 1.47v1l-1.47 1.47h-1l-1.47 -1.47z" fill="#FFAE00"/><path d="M166.53 333.5l1.47 -1.47h1l1.47 1.47v1l-1.47 1.47h-1l-1.47 -1.47z" fill="#FFAE00"/><path d="M198.23 333.5l1.47 -1.47h1l1.47 1.47v1l-1.47 1.47h-1l-1.47 -1.47z" fill="#FFAE00"/><path d="M152.03 340.1l1.47 -1.47h1l1.47 1.47v1l-1.47 1.47h-1l-1.47 -1.47z" fill="#FFAE00"/><path d="M154.33 338.9l1.47 -1.47h1l1.47 1.47v1l-1.47 1.47h-1l-1.47 -1.47z" fill="#FFAE00"/><path d="M163.53 340.1l1.47 -1.47h1l1.47 1.47v1l-1.47 1.47h-1l-1.47 -1.47z" fill="#FFAE00"/><path d="M162.73 343.1l1.47 -1.47h1l1.47 1.47v1l-1.47 1.47h-1l-1.47 -1.47z" fill="#FFAE00"/><path d="M188.63 342.7l1.47 -1.47h1l1.47 1.47v1l-1.47 1.47h-1l-1.47 -1.47z" fill="#FFAE00"/><path d="M146.03 347.7l1.47 -1.47h1l1.47 1.47v1l-1.47 1.47h-1l-1.47 -1.47z" fill="#FFAE00"/><path d="M167.33 347.7l1.47 -1.47h1l1.47 1.47v1l-1.47 1.47h-1l-1.47 -1.47z" fill="#FFAE00"/><path d="M155.63 350.6l1.47 -1.47h1l1.47 1.47v1l-1.47 1.47h-1l-1.47 -1.47z" fill="#FFAE00"/><path d="M162.33 350.6l1.47 -1.47h1l1.47 1.47v1l-1.47 1.47h-1l-1.47 -1.47z" fill="#FFAE00"/><path d="M176.93 350.6l1.47 -1.47h1l1.47 1.47v1l-1.47 1.47h-1l-1.47 -1.47z" fill="#FFAE00"/><path d="M196.23 350.6l1.47 -1.47h1l1.47 1.47v1l-1.47 1.47h-1l-1.47 -1.47z" fill="#FFAE00"/><path d="M149.03 352.9l1.47 -1.47h1l1.47 1.47v1l-1.47 1.47h-1l-1.47 -1.47z" fill="#FFAE00"/><path d="M182.53 352.9l1.47 -1.47h1l1.47 1.47v1l-1.47 1.47h-1l-1.47 -1.47z" fill="#FFAE00"/><path d="M211.53 352.9l1.47 -1.47h1l1.47 1.47v1l-1.47 1.47h-1l-1.47 -1.47z" fill="#FFAE00"/><path d="M161.23 358.4l1.47 -1.47h1l1.47 1.47v1l-1.47 1.47h-1l-1.47 -1.47z" fill="#FFAE00"/><path d="M173.43 358.4l1.47 -1.47h1l1.47 1.47v1l-1.47 1.47h-1l-1.47 -1.47z" fill="#FFAE00"/><path d="M150.13 360.5l1.47 -1.47h1l1.47 1.47v1l-1.47 1.47h-1l-1.47 -1.47z" fill="#FFAE00"/><path d="M167.33 360.5l1.47 -1.47h1l1.47 1.47v1l-1.47 1.47h-1l-1.47 -1.47z" fill="#FFAE00"/><path d="M170.83 360.5l1.47 -1.47h1l1.47 1.47v1l-1.47 1.47h-1l-1.47 -1.47z" fill="#FFAE00"/><path d="M183.33 360.5l1.47 -1.47h1l1.47 1.47v1l-1.47 1.47h-1l-1.47 -1.47z" fill="#FFAE00"/><path d="M211.53 360.5l1.47 -1.47h1l1.47 1.47v1l-1.47 1.47h-1l-1.47 -1.47z" fill="#FFAE00"/><path d="M150.13 365.1l1.47 -1.47h1l1.47 1.47v1l-1.47 1.47h-1l-1.47 -1.47z" fill="#FFAE00"/><path d="M164.73 365.1l1.47 -1.47h1l1.47 1.47v1l-1.47 1.47h-1l-1.47 -1.47z" fill="#FFAE00"/><path d="M189.43 363.3l1.47 -1.47h1l1.47 1.47v1l-1.47 1.47h-1l-1.47 -1.47z" fill="#FFAE00"/><path d="M190.93 365.5l1.47 -1.47h1l1.47 1.47v1l-1.47 1.47h-1l-1.47 -1.47z" fill="#FFAE00"/><path d="M192.13 367.8l1.47 -1.47h1l1.47 1.47v1l-1.47 1.47h-1l-1.47 -1.47z" fill="#FFAE00"/><path d="M155.63 367.5l1.47 -1.47h1l1.47 1.47v1l-1.47 1.47h-1l-1.47 -1.47z" fill="#FFAE00"/><path d="M174.93 367.5l1.47 -1.47h1l1.47 1.47v1l-1.47 1.47h-1l-1.47 -1.47z" fill="#FFAE00"/><path d="M141.83 370.6l1.47 -1.47h1l1.47 1.47v1l-1.47 1.47h-1l-1.47 -1.47z" fill="#FFAE00"/><path d="M173.83 370.6l1.47 -1.47h1l1.47 1.47v1l-1.47 1.47h-1l-1.47 -1.47z" fill="#FFAE00"/><path d="M208.43 370.6l1.47 -1.47h1l1.47 1.47v1l-1.47 1.47h-1l-1.47 -1.47z" fill="#FFAE00"/><path d="M151.63 372.7l1.47 -1.47h1l1.47 1.47v1l-1.47 1.47h-1l-1.47 -1.47z" fill="#FFAE00"/><path d="M154.33 372.7l1.47 -1.47h1l1.47 1.47v1l-1.47 1.47h-1l-1.47 -1.47z" fill="#FFAE00"/><path d="M157.13 372.7l1.47 -1.47h1l1.47 1.47v1l-1.47 1.47h-1l-1.47 -1.47z" fill="#FFAE00"/><path d="M168.43 372.7l1.47 -1.47h1l1.47 1.47v1l-1.47 1.47h-1l-1.47 -1.47z" fill="#FFAE00"/><path d="M183.33 372.7l1.47 -1.47h1l1.47 1.47v1l-1.47 1.47h-1l-1.47 -1.47z" fill="#FFAE00"/><path d="M190.93 372.7l1.47 -1.47h1l1.47 1.47v1l-1.47 1.47h-1l-1.47 -1.47z" fill="#FFAE00"/><path d="M148.23 380.3l1.47 -1.47h1l1.47 1.47v1l-1.47 1.47h-1l-1.47 -1.47z" fill="#FFAE00"/><path d="M155.63 384.9l1.47 -1.47h1l1.47 1.47v1l-1.47 1.47h-1l-1.47 -1.47z" fill="#FFAE00"/><path d="M181.03 361l1.47 -1.47h1l1.47 1.47v1l-1.47 1.47h-1l-1.47 -1.47z" fill="#FFAE00"/><path d="M186.03 382.8l1.47 -1.47h1l1.47 1.47v1l-1.47 1.47h-1l-1.47 -1.47z" fill="#006400"/><path d="M186.03 387.3l1.47 -1.47h1l1.47 1.47v1l-1.47 1.47h-1l-1.47 -1.47z" fill="#006400"/></g>
<path d="M72.32 306.2V466.1M52.7 322.49H246.86M91.73 306.2V466.1M52.7 338.48H246.86M111.15 306.2V466.1M52.7 354.47H246.86M130.56 306.2V466.1M52.7 370.46H246.86M149.98 306.2V466.1M52.7 386.45H246.86M169.4 306.2V466.1M52.7 402.44H246.86M188.81 306.2V466.1M52.7 418.43H246.86M208.23 306.2V466.1M52.7 434.42H246.86M227.64 306.2V466.1M52.7 450.41H246.86" stroke="#c2c2c2" stroke-width="1.15" stroke-dasharray="1.25 2.18" fill="none"/>
<g clip-path="url(#c2)">
<path d="M52.7 466.1L246.86 306.2" stroke="#444" stroke-width="1.1" stroke-dasharray="5.2 3" fill="none"/>
<path d="M52.7 463.81L246.86 312.54" stroke="#303030" stroke-width="1.05" fill="none"/>
</g>
<rect x="52.7" y="306.2" width="194.16" height="159.9" fill="none" stroke="#1e1e1e" stroke-width="1.25" stroke-linejoin="round"/>
<path d="M59.89 466.1V472.6M52.7 460.18H46.2M89.85 466.1V472.6M52.7 435.5H46.2M119.82 466.1V472.6M52.7 410.83H46.2M149.78 466.1V472.6M52.7 386.15H46.2M179.74 466.1V472.6M52.7 361.47H46.2M209.71 466.1V472.6M52.7 336.8H46.2M239.67 466.1V472.6M52.7 312.12H46.2" stroke="#1e1e1e" stroke-width="1.25" fill="none"/>
<text transform="translate(59.89 491.5) scale(0.93 1.06)" font-size="11.3" text-anchor="middle">0</text>
<text transform="translate(37.1 460.18) rotate(-90) scale(0.93 1.06)" font-size="11.3" text-anchor="middle">0</text>
<text transform="translate(89.85 491.5) scale(0.93 1.06)" font-size="11.3" text-anchor="middle">10</text>
<text transform="translate(37.1 435.5) rotate(-90) scale(0.93 1.06)" font-size="11.3" text-anchor="middle">10</text>
<text transform="translate(119.82 491.5) scale(0.93 1.06)" font-size="11.3" text-anchor="middle">20</text>
<text transform="translate(37.1 410.83) rotate(-90) scale(0.93 1.06)" font-size="11.3" text-anchor="middle">20</text>
<text transform="translate(149.78 491.5) scale(0.93 1.06)" font-size="11.3" text-anchor="middle">30</text>
<text transform="translate(37.1 386.15) rotate(-90) scale(0.93 1.06)" font-size="11.3" text-anchor="middle">30</text>
<text transform="translate(179.74 491.5) scale(0.93 1.06)" font-size="11.3" text-anchor="middle">40</text>
<text transform="translate(37.1 361.47) rotate(-90) scale(0.93 1.06)" font-size="11.3" text-anchor="middle">40</text>
<text transform="translate(209.71 491.5) scale(0.93 1.06)" font-size="11.3" text-anchor="middle">50</text>
<text transform="translate(37.1 336.8) rotate(-90) scale(0.93 1.06)" font-size="11.3" text-anchor="middle">50</text>
<text transform="translate(239.67 491.5) scale(0.93 1.06)" font-size="11.3" text-anchor="middle">60</text>
<text transform="translate(37.1 312.12) rotate(-90) scale(0.93 1.06)" font-size="11.3" text-anchor="middle">60</text>
<text x="149.78" y="517.9" font-size="11.3" text-anchor="middle">Predicted No. species/0.25 ha</text>
<text transform="translate(10.5 386.15) rotate(-90)" font-size="11.3" text-anchor="middle">Measured No. species/0.25 ha</text>
<text transform="translate(149.78 284.1) scale(1 1.1)" font-size="13.65" font-weight="bold" text-anchor="middle">Richness, Resolution: 0.25 ha</text>
<clipPath id="c3"><rect x="330.7" y="306.2" width="193.8" height="159.9"/></clipPath>
<g clip-path="url(#c3)"><path d="M404.93 381.3l1.47 -1.47h1l1.47 1.47v1l-1.47 1.47h-1l-1.47 -1.47z" fill="#CD0000"/><path d="M393.83 384.8l1.47 -1.47h1l1.47 1.47v1l-1.47 1.47h-1l-1.47 -1.47z" fill="#CD0000"/><path d="M374.03 394.7l1.47 -1.47h1l1.47 1.47v1l-1.47 1.47h-1l-1.47 -1.47z" fill="#CD0000"/><path d="M393.03 396l1.47 -1.47h1l1.47 1.47v1l-1.47 1.47h-1l-1.47 -1.47z" fill="#CD0000"/><path d="M385.73 400.8l1.47 -1.47h1l1.47 1.47v1l-1.47 1.47h-1l-1.47 -1.47z" fill="#CD0000"/><path d="M402.53 400.8l1.47 -1.47h1l1.47 1.47v1l-1.47 1.47h-1l-1.47 -1.47z" fill="#CD0000"/><path d="M380.93 405.1l1.47 -1.47h1l1.47 1.47v1l-1.47 1.47h-1l-1.47 -1.47z" fill="#CD0000"/><path d="M388.83 406.2l1.47 -1.47h1l1.47 1.47v1l-1.47 1.47h-1l-1.47 -1.47z" fill="#CD0000"/><path d="M378.63 410.7l1.47 -1.47h1l1.47 1.47v1l-1.47 1.47h-1l-1.47 -1.47z" fill="#CD0000"/><path d="M412.63 412l1.47 -1.47h1l1.47 1.47v1l-1.47 1.47h-1l-1.47 -1.47z" fill="#CD0000"/><path d="M374.03 419.4l1.47 -1.47h1l1.47 1.47v1l-1.47 1.47h-1l-1.47 -1.47z" fill="#CD0000"/><path d="M374.53 420.9l1.47 -1.47h1l1.47 1.47v1l-1.47 1.47h-1l-1.47 -1.47z" fill="#CD0000"/><path d="M380.63 424l1.47 -1.47h1l1.47 1.47v1l-1.47 1.47h-1l-1.47 -1.47z" fill="#CD0000"/><path d="M391.23 428.3l1.47 -1.47h1l1.47 1.47v1l-1.47 1.47h-1l-1.47 -1.47z" fill="#CD0000"/><path d="M372.03 433.1l1.47 -1.47h1l1.47 1.47v1l-1.47 1.47h-1l-1.47 -1.47z" fill="#CD0000"/><path d="M373.23 433.6l1.47 -1.47h1l1.47 1.47v1l-1.47 1.47h-1l-1.47 -1.47z" fill="#CD0000"/><path d="M371.03 459l1.47 -1.47h1l1.47 1.47v1l-1.47 1.47h-1l-1.47 -1.47z" fill="#CD0000"/><path d="M374.03 459l1.47 -1.47h1l1.47 1.47v1l-1.47 1.47h-1l-1.47 -1.47z" fill="#CD0000"/><path d="M458.13 341.2l1.47 -1.47h1l1.47 1.47v1l-1.47 1.47h-1l-1.47 -1.47z" fill="#CD0000"/><path d="M450.43 344.6l1.47 -1.47h1l1.47 1.47v1l-1.47 1.47h-1l-1.47 -1.47z" fill="#CD0000"/><path d="M481.33 334.9l1.47 -1.47h1l1.47 1.47v1l-1.47 1.47h-1l-1.47 -1.47z" fill="#CD0000"/><path d="M497.13 348.1l1.47 -1.47h1l1.47 1.47v1l-1.47 1.47h-1l-1.47 -1.47z" fill="#CD0000"/><path d="M486.13 354.9l1.47 -1.47h1l1.47 1.47v1l-1.47 1.47h-1l-1.47 -1.47z" fill="#CD0000"/><path d="M467.93 356.6l1.47 -1.47h1l1.47 1.47v1l-1.47 1.47h-1l-1.47 -1.47z" fill="#CD0000"/><path d="M458.73 356.1l1.47 -1.47h1l1.47 1.47v1l-1.47 1.47h-1l-1.47 -1.47z" fill="#CD0000"/><path d="M453.03 360.1l1.47 -1.47h1l1.47 1.47v1l-1.47 1.47h-1l-1.47 -1.47z" fill="#CD0000"/><path d="M456.43 359.6l1.47 -1.47h1l1.47 1.47v1l-1.47 1.47h-1l-1.47 -1.47z" fill="#CD0000"/><path d="M447.03 362.6l1.47 -1.47h1l1.47 1.47v1l-1.47 1.47h-1l-1.47 -1.47z" fill="#CD0000"/><path d="M447.93 365.7l1.47 -1.47h1l1.47 1.47v1l-1.47 1.47h-1l-1.47 -1.47z" fill="#CD0000"/><path d="M443.23 366.9l1.47 -1.47h1l1.47 1.47v1l-1.47 1.47h-1l-1.47 -1.47z" fill="#CD0000"/><path d="M458.13 365.7l1.47 -1.47h1l1.47 1.47v1l-1.47 1.47h-1l-1.47 -1.47z" fill="#CD0000"/><path d="M451.33 368.6l1.47 -1.47h1l1.47 1.47v1l-1.47 1.47h-1l-1.47 -1.47z" fill="#CD0000"/><path d="M456.93 370.4l1.47 -1.47h1l1.47 1.47v1l-1.47 1.47h-1l-1.47 -1.47z" fill="#CD0000"/><path d="M443.23 374.3l1.47 -1.47h1l1.47 1.47v1l-1.47 1.47h-1l-1.47 -1.47z" fill="#CD0000"/><path d="M441.93 378.9l1.47 -1.47h1l1.47 1.47v1l-1.47 1.47h-1l-1.47 -1.47z" fill="#CD0000"/><path d="M459.53 383.2l1.47 -1.47h1l1.47 1.47v1l-1.47 1.47h-1l-1.47 -1.47z" fill="#CD0000"/><path d="M411.03 391.7l1.47 -1.47h1l1.47 1.47v1l-1.47 1.47h-1l-1.47 -1.47z" fill="#006400"/><path d="M417.73 396l1.47 -1.47h1l1.47 1.47v1l-1.47 1.47h-1l-1.47 -1.47z" fill="#006400"/><path d="M433.93 393.5l1.47 -1.47h1l1.47 1.47v1l-1.47 1.47h-1l-1.47 -1.47z" fill="#006400"/><path d="M422.03 408.5l1.47 -1.47h1l1.47 1.47v1l-1.47 1.47h-1l-1.47 -1.47z" fill="#006400"/><path d="M427.33 409.2l1.47 -1.47h1l1.47 1.47v1l-1.47 1.47h-1l-1.47 -1.47z" fill="#006400"/><path d="M428.13 411.2l1.47 -1.47h1l1.47 1.47v1l-1.47 1.47h-1l-1.47 -1.47z" fill="#006400"/><path d="M429.93 412.3l1.47 -1.47h1l1.47 1.47v1l-1.47 1.47h-1l-1.47 -1.47z" fill="#006400"/><path d="M436.53 406.2l1.47 -1.47h1l1.47 1.47v1l-1.47 1.47h-1l-1.47 -1.47z" fill="#006400"/><path d="M436.93 408.5l1.47 -1.47h1l1.47 1.47v1l-1.47 1.47h-1l-1.47 -1.47z" fill="#006400"/><path d="M377.53 424l1.47 -1.47h1l1.47 1.47v1l-1.47 1.47h-1l-1.47 -1.47z" fill="#006400"/><path d="M394.63 422.5l1.47 -1.47h1l1.47 1.47v1l-1.47 1.47h-1l-1.47 -1.47z" fill="#006400"/><path d="M415.93 424.9l1.47 -1.47h1l1.47 1.47v1l-1.47 1.47h-1l-1.47 -1.47z" fill="#006400"/><path d="M375.13 436.2l1.47 -1.47h1l1.47 1.47v1l-1.47 1.47h-1l-1.47 -1.47z" fill="#006400"/><path d="M380.13 438.6l1.47 -1.47h1l1.47 1.47v1l-1.47 1.47h-1l-1.47 -1.47z" fill="#006400"/><path d="M377.53 459l1.47 -1.47h1l1.47 1.47v1l-1.47 1.47h-1l-1.47 -1.47z" fill="#006400"/><path d="M458.13 350.3l1.47 -1.47h1l1.47 1.47v1l-1.47 1.47h-1l-1.47 -1.47z" fill="#006400"/><path d="M432.43 354.9l1.47 -1.47h1l1.47 1.47v1l-1.47 1.47h-1l-1.47 -1.47z" fill="#006400"/><path d="M463.83 359.6l1.47 -1.47h1l1.47 1.47v1l-1.47 1.47h-1l-1.47 -1.47z" fill="#006400"/><path d="M478.23 359.2l1.47 -1.47h1l1.47 1.47v1l-1.47 1.47h-1l-1.47 -1.47z" fill="#006400"/><path d="M485.63 359.2l1.47 -1.47h1l1.47 1.47v1l-1.47 1.47h-1l-1.47 -1.47z" fill="#006400"/><path d="M488.13 348.6l1.47 -1.47h1l1.47 1.47v1l-1.47 1.47h-1l-1.47 -1.47z" fill="#006400"/><path d="M449.63 362.6l1.47 -1.47h1l1.47 1.47v1l-1.47 1.47h-1l-1.47 -1.47z" fill="#006400"/><path d="M434.73 364.4l1.47 -1.47h1l1.47 1.47v1l-1.47 1.47h-1l-1.47 -1.47z" fill="#006400"/><path d="M439.33 368.6l1.47 -1.47h1l1.47 1.47v1l-1.47 1.47h-1l-1.47 -1.47z" fill="#006400"/><path d="M449.63 369.2l1.47 -1.47h1l1.47 1.47v1l-1.47 1.47h-1l-1.47 -1.47z" fill="#006400"/><path d="M469.03 367.4l1.47 -1.47h1l1.47 1.47v1l-1.47 1.47h-1l-1.47 -1.47z" fill="#006400"/><path d="M441.53 373.8l1.47 -1.47h1l1.47 1.47v1l-1.47 1.47h-1l-1.47 -1.47z" fill="#006400"/><path d="M445.33 383.2l1.47 -1.47h1l1.47 1.47v1l-1.47 1.47h-1l-1.47 -1.47z" fill="#006400"/><path d="M449.63 384.1l1.47 -1.47h1l1.47 1.47v1l-1.47 1.47h-1l-1.47 -1.47z" fill="#006400"/><path d="M444.93 388.7l1.47 -1.47h1l1.47 1.47v1l-1.47 1.47h-1l-1.47 -1.47z" fill="#006400"/><path d="M462.43 389.7l1.47 -1.47h1l1.47 1.47v1l-1.47 1.47h-1l-1.47 -1.47z" fill="#006400"/><path d="M434.13 393.2l1.47 -1.47h1l1.47 1.47v1l-1.47 1.47h-1l-1.47 -1.47z" fill="#006400"/><path d="M423.03 377.2l1.47 -1.47h1l1.47 1.47v1l-1.47 1.47h-1l-1.47 -1.47z" fill="#006400"/><path d="M459.03 402.9l1.47 -1.47h1l1.47 1.47v1l-1.47 1.47h-1l-1.47 -1.47z" fill="#006400"/><path d="M471.63 408.4l1.47 -1.47h1l1.47 1.47v1l-1.47 1.47h-1l-1.47 -1.47z" fill="#006400"/><path d="M449.63 327.5l1.47 -1.47h1l1.47 1.47v1l-1.47 1.47h-1l-1.47 -1.47z" fill="#FFAE00"/><path d="M453.93 328l1.47 -1.47h1l1.47 1.47v1l-1.47 1.47h-1l-1.47 -1.47z" fill="#FFAE00"/><path d="M459.03 326.6l1.47 -1.47h1l1.47 1.47v1l-1.47 1.47h-1l-1.47 -1.47z" fill="#FFAE00"/><path d="M468.43 328.4l1.47 -1.47h1l1.47 1.47v1l-1.47 1.47h-1l-1.47 -1.47z" fill="#FFAE00"/><path d="M467.93 329.7l1.47 -1.47h1l1.47 1.47v1l-1.47 1.47h-1l-1.47 -1.47z" fill="#FFAE00"/><path d="M474.43 324.1l1.47 -1.47h1l1.47 1.47v1l-1.47 1.47h-1l-1.47 -1.47z" fill="#FFAE00"/><path d="M476.13 326.6l1.47 -1.47h1l1.47 1.47v1l-1.47 1.47h-1l-1.47 -1.47z" fill="#FFAE00"/><path d="M477.53 328.7l1.47 -1.47h1l1.47 1.47v1l-1.47 1.47h-1l-1.47 -1.47z" fill="#FFAE00"/><path d="M481.33 329.2l1.47 -1.47h1l1.47 1.47v1l-1.47 1.47h-1l-1.47 -1.47z" fill="#FFAE00"/><path d="M485.63 329.2l1.47 -1.47h1l1.47 1.47v1l-1.47 1.47h-1l-1.47 -1.47z" fill="#FFAE00"/><path d="M489.53 323.2l1.47 -1.47h1l1.47 1.47v1l-1.47 1.47h-1l-1.47 -1.47z" fill="#FFAE00"/><path d="M453.03 332.6l1.47 -1.47h1l1.47 1.47v1l-1.47 1.47h-1l-1.47 -1.47z" fill="#FFAE00"/><path d="M462.43 331.8l1.47 -1.47h1l1.47 1.47v1l-1.47 1.47h-1l-1.47 -1.47z" fill="#FFAE00"/><path d="M471.03 331.4l1.47 -1.47h1l1.47 1.47v1l-1.47 1.47h-1l-1.47 -1.47z" fill="#FFAE00"/><path d="M471.93 333.5l1.47 -1.47h1l1.47 1.47v1l-1.47 1.47h-1l-1.47 -1.47z" fill="#FFAE00"/><path d="M480.43 333.5l1.47 -1.47h1l1.47 1.47v1l-1.47 1.47h-1l-1.47 -1.47z" fill="#FFAE00"/><path d="M499.33 331.8l1.47 -1.47h1l1.47 1.47v1l-1.47 1.47h-1l-1.47 -1.47z" fill="#FFAE00"/><path d="M455.23 336.6l1.47 -1.47h1l1.47 1.47v1l-1.47 1.47h-1l-1.47 -1.47z" fill="#FFAE00"/><path d="M464.13 336.9l1.47 -1.47h1l1.47 1.47v1l-1.47 1.47h-1l-1.47 -1.47z" fill="#FFAE00"/><path d="M466.73 335.2l1.47 -1.47h1l1.47 1.47v1l-1.47 1.47h-1l-1.47 -1.47z" fill="#FFAE00"/><path d="M469.63 337.3l1.47 -1.47h1l1.47 1.47v1l-1.47 1.47h-1l-1.47 -1.47z" fill="#FFAE00"/><path d="M474.43 336.1l1.47 -1.47h1l1.47 1.47v1l-1.47 1.47h-1l-1.47 -1.47z" fill="#FFAE00"/><path d="M476.13 338.3l1.47 -1.47h1l1.47 1.47v1l-1.47 1.47h-1l-1.47 -1.47z" fill="#FFAE00"/><path d="M482.13 336.9l1.47 -1.47h1l1.47 1.47v1l-1.47 1.47h-1l-1.47 -1.47z" fill="#FFAE00"/><path d="M487.83 336.9l1.47 -1.47h1l1.47 1.47v1l-1.47 1.47h-1l-1.47 -1.47z" fill="#FFAE00"/><path d="M488.13 340.4l1.47 -1.47h1l1.47 1.47v1l-1.47 1.47h-1l-1.47 -1.47z" fill="#FFAE00"/><path d="M493.33 339.5l1.47 -1.47h1l1.47 1.47v1l-1.47 1.47h-1l-1.47 -1.47z" fill="#FFAE00"/><path d="M496.73 337.8l1.47 -1.47h1l1.47 1.47v1l-1.47 1.47h-1l-1.47 -1.47z" fill="#FFAE00"/><path d="M501.03 339.5l1.47 -1.47h1l1.47 1.47v1l-1.47 1.47h-1l-1.47 -1.47z" fill="#FFAE00"/><path d="M440.73 340.4l1.47 -1.47h1l1.47 1.47v1l-1.47 1.47h-1l-1.47 -1.47z" fill="#FFAE00"/><path d="M461.63 341.7l1.47 -1.47h1l1.47 1.47v1l-1.47 1.47h-1l-1.47 -1.47z" fill="#FFAE00"/><path d="M465.03 342.1l1.47 -1.47h1l1.47 1.47v1l-1.47 1.47h-1l-1.47 -1.47z" fill="#FFAE00"/><path d="M472.73 341.2l1.47 -1.47h1l1.47 1.47v1l-1.47 1.47h-1l-1.47 -1.47z" fill="#FFAE00"/><path d="M475.33 340l1.47 -1.47h1l1.47 1.47v1l-1.47 1.47h-1l-1.47 -1.47z" fill="#FFAE00"/><path d="M477.93 340.7l1.47 -1.47h1l1.47 1.47v1l-1.47 1.47h-1l-1.47 -1.47z" fill="#FFAE00"/><path d="M482.13 339.5l1.47 -1.47h1l1.47 1.47v1l-1.47 1.47h-1l-1.47 -1.47z" fill="#FFAE00"/><path d="M447.03 344.6l1.47 -1.47h1l1.47 1.47v1l-1.47 1.47h-1l-1.47 -1.47z" fill="#FFAE00"/><path d="M467.93 346.4l1.47 -1.47h1l1.47 1.47v1l-1.47 1.47h-1l-1.47 -1.47z" fill="#FFAE00"/><path d="M463.33 348.1l1.47 -1.47h1l1.47 1.47v1l-1.47 1.47h-1l-1.47 -1.47z" fill="#FFAE00"/><path d="M462.43 350.3l1.47 -1.47h1l1.47 1.47v1l-1.47 1.47h-1l-1.47 -1.47z" fill="#FFAE00"/><path d="M483.03 347.6l1.47 -1.47h1l1.47 1.47v1l-1.47 1.47h-1l-1.47 -1.47z" fill="#FFAE00"/><path d="M486.43 350.6l1.47 -1.47h1l1.47 1.47v1l-1.47 1.47h-1l-1.47 -1.47z" fill="#FFAE00"/><path d="M505.03 348.1l1.47 -1.47h1l1.47 1.47v1l-1.47 1.47h-1l-1.47 -1.47z" fill="#FFAE00"/><path d="M493.63 355.4l1.47 -1.47h1l1.47 1.47v1l-1.47 1.47h-1l-1.47 -1.47z" fill="#FFAE00"/><path d="M455.63 366.4l1.47 -1.47h1l1.47 1.47v1l-1.47 1.47h-1l-1.47 -1.47z" fill="#FFAE00"/><path d="M459.93 359.2l1.47 -1.47h1l1.47 1.47v1l-1.47 1.47h-1l-1.47 -1.47z" fill="#FFAE00"/><path d="M473.03 323.8l1.47 -1.47h1l1.47 1.47v1l-1.47 1.47h-1l-1.47 -1.47z" fill="#FFAE00"/><path d="M474.93 324.7l1.47 -1.47h1l1.47 1.47v1l-1.47 1.47h-1l-1.47 -1.47z" fill="#FFAE00"/><path d="M476.83 327.1l1.47 -1.47h1l1.47 1.47v1l-1.47 1.47h-1l-1.47 -1.47z" fill="#FFAE00"/><path d="M477.83 329l1.47 -1.47h1l1.47 1.47v1l-1.47 1.47h-1l-1.47 -1.47z" fill="#FFAE00"/><path d="M481.63 338.1l1.47 -1.47h1l1.47 1.47v1l-1.47 1.47h-1l-1.47 -1.47z" fill="#FFAE00"/><path d="M483.53 339l1.47 -1.47h1l1.47 1.47v1l-1.47 1.47h-1l-1.47 -1.47z" fill="#FFAE00"/><path d="M485.43 337.6l1.47 -1.47h1l1.47 1.47v1l-1.47 1.47h-1l-1.47 -1.47z" fill="#FFAE00"/><path d="M476.33 340l1.47 -1.47h1l1.47 1.47v1l-1.47 1.47h-1l-1.47 -1.47z" fill="#FFAE00"/><path d="M474.03 339l1.47 -1.47h1l1.47 1.47v1l-1.47 1.47h-1l-1.47 -1.47z" fill="#FFAE00"/><path d="M483.53 348.1l1.47 -1.47h1l1.47 1.47v1l-1.47 1.47h-1l-1.47 -1.47z" fill="#FFAE00"/><path d="M486.33 350.9l1.47 -1.47h1l1.47 1.47v1l-1.47 1.47h-1l-1.47 -1.47z" fill="#FFAE00"/><path d="M493.03 339.5l1.47 -1.47h1l1.47 1.47v1l-1.47 1.47h-1l-1.47 -1.47z" fill="#FFAE00"/><path d="M496.33 337.6l1.47 -1.47h1l1.47 1.47v1l-1.47 1.47h-1l-1.47 -1.47z" fill="#FFAE00"/><path d="M500.63 339.5l1.47 -1.47h1l1.47 1.47v1l-1.47 1.47h-1l-1.47 -1.47z" fill="#FFAE00"/><path d="M404.03 375.8l1.47 -1.47h1l1.47 1.47v1l-1.47 1.47h-1l-1.47 -1.47z" fill="#CD0000"/><path d="M405.13 377.3l1.47 -1.47h1l1.47 1.47v1l-1.47 1.47h-1l-1.47 -1.47z" fill="#CD0000"/><path d="M419.33 378.1l1.47 -1.47h1l1.47 1.47v1l-1.47 1.47h-1l-1.47 -1.47z" fill="#CD0000"/><path d="M422.33 376.9l1.47 -1.47h1l1.47 1.47v1l-1.47 1.47h-1l-1.47 -1.47z" fill="#006400"/></g>
<path d="M350.28 306.2V466.1M330.7 322.49H524.5M369.66 306.2V466.1M330.7 338.48H524.5M389.04 306.2V466.1M330.7 354.47H524.5M408.42 306.2V466.1M330.7 370.46H524.5M427.8 306.2V466.1M330.7 386.45H524.5M447.18 306.2V466.1M330.7 402.44H524.5M466.56 306.2V466.1M330.7 418.43H524.5M485.94 306.2V466.1M330.7 434.42H524.5M505.32 306.2V466.1M330.7 450.41H524.5" stroke="#c2c2c2" stroke-width="1.15" stroke-dasharray="1.25 2.18" fill="none"/>
<g clip-path="url(#c3)">
<path d="M330.7 466.1L524.5 306.2" stroke="#444" stroke-width="1.1" stroke-dasharray="5.2 3" fill="none"/>
<path d="M330.7 462.3L524.5 310.07" stroke="#303030" stroke-width="1.05" fill="none"/>
</g>
<rect x="330.7" y="306.2" width="193.8" height="159.9" fill="none" stroke="#1e1e1e" stroke-width="1.25" stroke-linejoin="round"/>
<path d="M337.88 466.1V472.6M330.7 460.18H324.2M382.74 466.1V472.6M330.7 423.16H324.2M427.6 466.1V472.6M330.7 386.15H324.2M472.46 466.1V472.6M330.7 349.14H324.2M517.32 466.1V472.6M330.7 312.12H324.2" stroke="#1e1e1e" stroke-width="1.25" fill="none"/>
<text transform="translate(337.88 491.5) scale(0.93 1.06)" font-size="11.3" text-anchor="middle">0</text>
<text transform="translate(315.1 460.18) rotate(-90) scale(0.93 1.06)" font-size="11.3" text-anchor="middle">0</text>
<text transform="translate(382.74 491.5) scale(0.93 1.06)" font-size="11.3" text-anchor="middle">1</text>
<text transform="translate(315.1 423.16) rotate(-90) scale(0.93 1.06)" font-size="11.3" text-anchor="middle">1</text>
<text transform="translate(427.6 491.5) scale(0.93 1.06)" font-size="11.3" text-anchor="middle">2</text>
<text transform="translate(315.1 386.15) rotate(-90) scale(0.93 1.06)" font-size="11.3" text-anchor="middle">2</text>
<text transform="translate(472.46 491.5) scale(0.93 1.06)" font-size="11.3" text-anchor="middle">3</text>
<text transform="translate(315.1 349.14) rotate(-90) scale(0.93 1.06)" font-size="11.3" text-anchor="middle">3</text>
<text transform="translate(517.32 491.5) scale(0.93 1.06)" font-size="11.3" text-anchor="middle">4</text>
<text transform="translate(315.1 312.12) rotate(-90) scale(0.93 1.06)" font-size="11.3" text-anchor="middle">4</text>
<text x="427.6" y="517.9" font-size="11.3" text-anchor="middle">Predicted Shannon index</text>
<text transform="translate(288.5 386.15) rotate(-90)" font-size="11.3" text-anchor="middle">Measured Shannon Index</text>
<text transform="translate(427.6 284.1) scale(1 1.1)" font-size="13.65" font-weight="bold" text-anchor="middle">Diversity, Resolution: 0.25 ha</text>
<clipPath id="c4"><rect x="52.7" y="582.3" width="194.16" height="160.8"/></clipPath>
<g clip-path="url(#c4)"><path d="M99.03 639.4l1.47 -1.47h1l1.47 1.47v1l-1.47 1.47h-1l-1.47 -1.47z" fill="#66CD00"/><path d="M100.53 663.8l1.47 -1.47h1l1.47 1.47v1l-1.47 1.47h-1l-1.47 -1.47z" fill="#66CD00"/><path d="M184.43 635.6l1.47 -1.47h1l1.47 1.47v1l-1.47 1.47h-1l-1.47 -1.47z" fill="#66CD00"/><path d="M159.83 649.7l1.47 -1.47h1l1.47 1.47v1l-1.47 1.47h-1l-1.47 -1.47z" fill="#66CD00"/><path d="M169.33 654.2l1.47 -1.47h1l1.47 1.47v1l-1.47 1.47h-1l-1.47 -1.47z" fill="#66CD00"/><path d="M200.23 652.2l1.47 -1.47h1l1.47 1.47v1l-1.47 1.47h-1l-1.47 -1.47z" fill="#66CD00"/><path d="M174.73 660.2l1.47 -1.47h1l1.47 1.47v1l-1.47 1.47h-1l-1.47 -1.47z" fill="#66CD00"/><path d="M158.63 664.3l1.47 -1.47h1l1.47 1.47v1l-1.47 1.47h-1l-1.47 -1.47z" fill="#66CD00"/><path d="M201.63 663.9l1.47 -1.47h1l1.47 1.47v1l-1.47 1.47h-1l-1.47 -1.47z" fill="#66CD00"/><path d="M178.43 670.3l1.47 -1.47h1l1.47 1.47v1l-1.47 1.47h-1l-1.47 -1.47z" fill="#66CD00"/><path d="M101.53 692l1.47 -1.47h1l1.47 1.47v1l-1.47 1.47h-1l-1.47 -1.47z" fill="#CD0000"/><path d="M108.13 690.1l1.47 -1.47h1l1.47 1.47v1l-1.47 1.47h-1l-1.47 -1.47z" fill="#CD0000"/><path d="M143.43 680l1.47 -1.47h1l1.47 1.47v1l-1.47 1.47h-1l-1.47 -1.47z" fill="#CD0000"/><path d="M66.23 716.7l1.47 -1.47h1l1.47 1.47v1l-1.47 1.47h-1l-1.47 -1.47z" fill="#CD0000"/><path d="M71.63 723.8l1.47 -1.47h1l1.47 1.47v1l-1.47 1.47h-1l-1.47 -1.47z" fill="#CD0000"/><path d="M168.93 624.3l1.47 -1.47h1l1.47 1.47v1l-1.47 1.47h-1l-1.47 -1.47z" fill="#CD0000"/><path d="M195.53 652.2l1.47 -1.47h1l1.47 1.47v1l-1.47 1.47h-1l-1.47 -1.47z" fill="#CD0000"/><path d="M157.83 682.5l1.47 -1.47h1l1.47 1.47v1l-1.47 1.47h-1l-1.47 -1.47z" fill="#CD0000"/><path d="M158.83 696.2l1.47 -1.47h1l1.47 1.47v1l-1.47 1.47h-1l-1.47 -1.47z" fill="#CD0000"/><path d="M121.13 700.4l1.47 -1.47h1l1.47 1.47v1l-1.47 1.47h-1l-1.47 -1.47z" fill="#006400"/><path d="M85.33 718.1l1.47 -1.47h1l1.47 1.47v1l-1.47 1.47h-1l-1.47 -1.47z" fill="#006400"/><path d="M176.03 658.2l1.47 -1.47h1l1.47 1.47v1l-1.47 1.47h-1l-1.47 -1.47z" fill="#006400"/><path d="M186.93 655.8l1.47 -1.47h1l1.47 1.47v1l-1.47 1.47h-1l-1.47 -1.47z" fill="#006400"/><path d="M195.53 657.8l1.47 -1.47h1l1.47 1.47v1l-1.47 1.47h-1l-1.47 -1.47z" fill="#006400"/><path d="M174.13 716.6l1.47 -1.47h1l1.47 1.47v1l-1.47 1.47h-1l-1.47 -1.47z" fill="#006400"/><path d="M189.53 589.2l1.47 -1.47h1l1.47 1.47v1l-1.47 1.47h-1l-1.47 -1.47z" fill="#FFAE00"/><path d="M193.93 591l1.47 -1.47h1l1.47 1.47v1l-1.47 1.47h-1l-1.47 -1.47z" fill="#FFAE00"/><path d="M169.73 602.1l1.47 -1.47h1l1.47 1.47v1l-1.47 1.47h-1l-1.47 -1.47z" fill="#FFAE00"/><path d="M172.73 602.1l1.47 -1.47h1l1.47 1.47v1l-1.47 1.47h-1l-1.47 -1.47z" fill="#FFAE00"/><path d="M173.33 607.1l1.47 -1.47h1l1.47 1.47v1l-1.47 1.47h-1l-1.47 -1.47z" fill="#FFAE00"/><path d="M179.43 607.1l1.47 -1.47h1l1.47 1.47v1l-1.47 1.47h-1l-1.47 -1.47z" fill="#FFAE00"/><path d="M186.13 603.7l1.47 -1.47h1l1.47 1.47v1l-1.47 1.47h-1l-1.47 -1.47z" fill="#FFAE00"/><path d="M197.23 605.3l1.47 -1.47h1l1.47 1.47v1l-1.47 1.47h-1l-1.47 -1.47z" fill="#FFAE00"/><path d="M172.33 613.2l1.47 -1.47h1l1.47 1.47v1l-1.47 1.47h-1l-1.47 -1.47z" fill="#FFAE00"/><path d="M192.13 621.9l1.47 -1.47h1l1.47 1.47v1l-1.47 1.47h-1l-1.47 -1.47z" fill="#FFAE00"/><path d="M201.63 619.9l1.47 -1.47h1l1.47 1.47v1l-1.47 1.47h-1l-1.47 -1.47z" fill="#FFAE00"/><path d="M190.53 630.4l1.47 -1.47h1l1.47 1.47v1l-1.47 1.47h-1l-1.47 -1.47z" fill="#FFAE00"/></g>
<path d="M72.32 582.3V743.1M52.7 598.68H246.86M91.73 582.3V743.1M52.7 614.76H246.86M111.15 582.3V743.1M52.7 630.84H246.86M130.56 582.3V743.1M52.7 646.92H246.86M149.98 582.3V743.1M52.7 663H246.86M169.4 582.3V743.1M52.7 679.08H246.86M188.81 582.3V743.1M52.7 695.16H246.86M208.23 582.3V743.1M52.7 711.24H246.86M227.64 582.3V743.1M52.7 727.32H246.86" stroke="#c2c2c2" stroke-width="1.15" stroke-dasharray="1.25 2.18" fill="none"/>
<g clip-path="url(#c4)">
<path d="M52.7 743.1L246.86 582.3" stroke="#444" stroke-width="1.1" stroke-dasharray="5.2 3" fill="none"/>
<path d="M52.7 717.07L246.86 607.73" stroke="#303030" stroke-width="1.05" fill="none"/>
</g>
<rect x="52.7" y="582.3" width="194.16" height="160.8" fill="none" stroke="#1e1e1e" stroke-width="1.25" stroke-linejoin="round"/>
<path d="M59.89 743.1V749.6M52.7 737.14H46.2M95.85 743.1V749.6M52.7 707.37H46.2M131.8 743.1V749.6M52.7 677.59H46.2M167.76 743.1V749.6M52.7 647.81H46.2M203.71 743.1V749.6M52.7 618.03H46.2M239.67 743.1V749.6M52.7 588.26H46.2" stroke="#1e1e1e" stroke-width="1.25" fill="none"/>
<text transform="translate(59.89 768.5) scale(0.93 1.06)" font-size="11.3" text-anchor="middle">0</text>
<text transform="translate(37.1 737.14) rotate(-90) scale(0.93 1.06)" font-size="11.3" text-anchor="middle">0</text>
<text transform="translate(95.85 768.5) scale(0.93 1.06)" font-size="11.3" text-anchor="middle">20</text>
<text transform="translate(37.1 707.37) rotate(-90) scale(0.93 1.06)" font-size="11.3" text-anchor="middle">20</text>
<text transform="translate(131.8 768.5) scale(0.93 1.06)" font-size="11.3" text-anchor="middle">40</text>
<text transform="translate(37.1 677.59) rotate(-90) scale(0.93 1.06)" font-size="11.3" text-anchor="middle">40</text>
<text transform="translate(167.76 768.5) scale(0.93 1.06)" font-size="11.3" text-anchor="middle">60</text>
<text transform="translate(37.1 647.81) rotate(-90) scale(0.93 1.06)" font-size="11.3" text-anchor="middle">60</text>
<text transform="translate(203.71 768.5) scale(0.93 1.06)" font-size="11.3" text-anchor="middle">80</text>
<text transform="translate(37.1 618.03) rotate(-90) scale(0.93 1.06)" font-size="11.3" text-anchor="middle">80</text>
<text transform="translate(239.67 768.5) scale(0.93 1.06)" font-size="11.3" text-anchor="middle">100</text>
<text transform="translate(37.1 588.26) rotate(-90) scale(0.93 1.06)" font-size="11.3" text-anchor="middle">100</text>
<text x="149.78" y="794.9" font-size="11.3" text-anchor="middle">Predicted No. species/1.0 ha</text>
<text transform="translate(10.5 662.7) rotate(-90)" font-size="11.3" text-anchor="middle">Measured No. species/1.0 ha</text>
<text transform="translate(149.78 560.2) scale(1 1.1)" font-size="13.65" font-weight="bold" text-anchor="middle">Richness, Resolution: 1.0 ha</text>
<clipPath id="c5"><rect x="330.7" y="582.3" width="193.8" height="160.8"/></clipPath>
<g clip-path="url(#c5)"><path d="M415.13 632.9l1.47 -1.47h1l1.47 1.47v1l-1.47 1.47h-1l-1.47 -1.47z" fill="#66CD00"/><path d="M415.13 650.1l1.47 -1.47h1l1.47 1.47v1l-1.47 1.47h-1l-1.47 -1.47z" fill="#66CD00"/><path d="M440.93 631.2l1.47 -1.47h1l1.47 1.47v1l-1.47 1.47h-1l-1.47 -1.47z" fill="#66CD00"/><path d="M447.73 628.6l1.47 -1.47h1l1.47 1.47v1l-1.47 1.47h-1l-1.47 -1.47z" fill="#66CD00"/><path d="M451.13 643.2l1.47 -1.47h1l1.47 1.47v1l-1.47 1.47h-1l-1.47 -1.47z" fill="#66CD00"/><path d="M456.33 643.2l1.47 -1.47h1l1.47 1.47v1l-1.47 1.47h-1l-1.47 -1.47z" fill="#66CD00"/><path d="M440.73 631.2l1.47 -1.47h1l1.47 1.47v1l-1.47 1.47h-1l-1.47 -1.47z" fill="#66CD00"/><path d="M466.73 634.8l1.47 -1.47h1l1.47 1.47v1l-1.47 1.47h-1l-1.47 -1.47z" fill="#66CD00"/><path d="M462.43 639.5l1.47 -1.47h1l1.47 1.47v1l-1.47 1.47h-1l-1.47 -1.47z" fill="#66CD00"/><path d="M457.33 643.2l1.47 -1.47h1l1.47 1.47v1l-1.47 1.47h-1l-1.47 -1.47z" fill="#66CD00"/><path d="M466.93 644.8l1.47 -1.47h1l1.47 1.47v1l-1.47 1.47h-1l-1.47 -1.47z" fill="#66CD00"/><path d="M412.63 647.5l1.47 -1.47h1l1.47 1.47v1l-1.47 1.47h-1l-1.47 -1.47z" fill="#CD0000"/><path d="M435.73 646.1l1.47 -1.47h1l1.47 1.47v1l-1.47 1.47h-1l-1.47 -1.47z" fill="#CD0000"/><path d="M434.93 655.2l1.47 -1.47h1l1.47 1.47v1l-1.47 1.47h-1l-1.47 -1.47z" fill="#CD0000"/><path d="M388.63 666l1.47 -1.47h1l1.47 1.47v1l-1.47 1.47h-1l-1.47 -1.47z" fill="#CD0000"/><path d="M447.73 672.9l1.47 -1.47h1l1.47 1.47v1l-1.47 1.47h-1l-1.47 -1.47z" fill="#CD0000"/><path d="M395.43 687.8l1.47 -1.47h1l1.47 1.47v1l-1.47 1.47h-1l-1.47 -1.47z" fill="#CD0000"/><path d="M382.63 692.9l1.47 -1.47h1l1.47 1.47v1l-1.47 1.47h-1l-1.47 -1.47z" fill="#CD0000"/><path d="M461.33 629.1l1.47 -1.47h1l1.47 1.47v1l-1.47 1.47h-1l-1.47 -1.47z" fill="#CD0000"/><path d="M467.33 638.8l1.47 -1.47h1l1.47 1.47v1l-1.47 1.47h-1l-1.47 -1.47z" fill="#CD0000"/><path d="M459.73 653.5l1.47 -1.47h1l1.47 1.47v1l-1.47 1.47h-1l-1.47 -1.47z" fill="#CD0000"/><path d="M413.43 680.9l1.47 -1.47h1l1.47 1.47v1l-1.47 1.47h-1l-1.47 -1.47z" fill="#006400"/><path d="M401.43 692.1l1.47 -1.47h1l1.47 1.47v1l-1.47 1.47h-1l-1.47 -1.47z" fill="#006400"/><path d="M445.13 695.5l1.47 -1.47h1l1.47 1.47v1l-1.47 1.47h-1l-1.47 -1.47z" fill="#006400"/><path d="M391.13 717.5l1.47 -1.47h1l1.47 1.47v1l-1.47 1.47h-1l-1.47 -1.47z" fill="#006400"/><path d="M452.03 647.8l1.47 -1.47h1l1.47 1.47v1l-1.47 1.47h-1l-1.47 -1.47z" fill="#006400"/><path d="M454.63 651.8l1.47 -1.47h1l1.47 1.47v1l-1.47 1.47h-1l-1.47 -1.47z" fill="#006400"/><path d="M471.73 653.9l1.47 -1.47h1l1.47 1.47v1l-1.47 1.47h-1l-1.47 -1.47z" fill="#006400"/><path d="M442.63 621.8l1.47 -1.47h1l1.47 1.47v1l-1.47 1.47h-1l-1.47 -1.47z" fill="#FFAE00"/><path d="M456.33 624l1.47 -1.47h1l1.47 1.47v1l-1.47 1.47h-1l-1.47 -1.47z" fill="#FFAE00"/><path d="M452.93 632.9l1.47 -1.47h1l1.47 1.47v1l-1.47 1.47h-1l-1.47 -1.47z" fill="#FFAE00"/><path d="M470.03 617.5l1.47 -1.47h1l1.47 1.47v1l-1.47 1.47h-1l-1.47 -1.47z" fill="#FFAE00"/><path d="M456.03 623.8l1.47 -1.47h1l1.47 1.47v1l-1.47 1.47h-1l-1.47 -1.47z" fill="#FFAE00"/><path d="M458.93 623.8l1.47 -1.47h1l1.47 1.47v1l-1.47 1.47h-1l-1.47 -1.47z" fill="#FFAE00"/><path d="M467.33 622.4l1.47 -1.47h1l1.47 1.47v1l-1.47 1.47h-1l-1.47 -1.47z" fill="#FFAE00"/><path d="M467.33 625.5l1.47 -1.47h1l1.47 1.47v1l-1.47 1.47h-1l-1.47 -1.47z" fill="#FFAE00"/><path d="M473.63 623.8l1.47 -1.47h1l1.47 1.47v1l-1.47 1.47h-1l-1.47 -1.47z" fill="#FFAE00"/><path d="M477.13 628.6l1.47 -1.47h1l1.47 1.47v1l-1.47 1.47h-1l-1.47 -1.47z" fill="#FFAE00"/><path d="M458.93 631.2l1.47 -1.47h1l1.47 1.47v1l-1.47 1.47h-1l-1.47 -1.47z" fill="#FFAE00"/><path d="M466.73 631.2l1.47 -1.47h1l1.47 1.47v1l-1.47 1.47h-1l-1.47 -1.47z" fill="#FFAE00"/></g>
<path d="M350.28 582.3V743.1M330.7 598.68H524.5M369.66 582.3V743.1M330.7 614.76H524.5M389.04 582.3V743.1M330.7 630.84H524.5M408.42 582.3V743.1M330.7 646.92H524.5M427.8 582.3V743.1M330.7 663H524.5M447.18 582.3V743.1M330.7 679.08H524.5M466.56 582.3V743.1M330.7 695.16H524.5M485.94 582.3V743.1M330.7 711.24H524.5M505.32 582.3V743.1M330.7 727.32H524.5" stroke="#c2c2c2" stroke-width="1.15" stroke-dasharray="1.25 2.18" fill="none"/>
<g clip-path="url(#c5)">
<path d="M330.7 743.1L524.5 582.3" stroke="#444" stroke-width="1.1" stroke-dasharray="5.2 3" fill="none"/>
<path d="M330.7 725.23L524.5 596.59" stroke="#303030" stroke-width="1.05" fill="none"/>
</g>
<rect x="330.7" y="582.3" width="193.8" height="160.8" fill="none" stroke="#1e1e1e" stroke-width="1.25" stroke-linejoin="round"/>
<path d="M337.88 743.1V749.6M330.7 737.14H324.2M373.77 743.1V749.6M330.7 707.37H324.2M409.66 743.1V749.6M330.7 677.59H324.2M445.54 743.1V749.6M330.7 647.81H324.2M481.43 743.1V749.6M330.7 618.03H324.2M517.32 743.1V749.6M330.7 588.26H324.2" stroke="#1e1e1e" stroke-width="1.25" fill="none"/>
<text transform="translate(337.88 768.5) scale(0.93 1.06)" font-size="11.3" text-anchor="middle">0</text>
<text transform="translate(315.1 737.14) rotate(-90) scale(0.93 1.06)" font-size="11.3" text-anchor="middle">0</text>
<text transform="translate(373.77 768.5) scale(0.93 1.06)" font-size="11.3" text-anchor="middle">1</text>
<text transform="translate(315.1 707.37) rotate(-90) scale(0.93 1.06)" font-size="11.3" text-anchor="middle">1</text>
<text transform="translate(409.66 768.5) scale(0.93 1.06)" font-size="11.3" text-anchor="middle">2</text>
<text transform="translate(315.1 677.59) rotate(-90) scale(0.93 1.06)" font-size="11.3" text-anchor="middle">2</text>
<text transform="translate(445.54 768.5) scale(0.93 1.06)" font-size="11.3" text-anchor="middle">3</text>
<text transform="translate(315.1 647.81) rotate(-90) scale(0.93 1.06)" font-size="11.3" text-anchor="middle">3</text>
<text transform="translate(481.43 768.5) scale(0.93 1.06)" font-size="11.3" text-anchor="middle">4</text>
<text transform="translate(315.1 618.03) rotate(-90) scale(0.93 1.06)" font-size="11.3" text-anchor="middle">4</text>
<text transform="translate(517.32 768.5) scale(0.93 1.06)" font-size="11.3" text-anchor="middle">5</text>
<text transform="translate(315.1 588.26) rotate(-90) scale(0.93 1.06)" font-size="11.3" text-anchor="middle">5</text>
<text x="427.6" y="794.9" font-size="11.3" text-anchor="middle">Predicted Shannon index</text>
<text transform="translate(288.5 662.7) rotate(-90)" font-size="11.3" text-anchor="middle">Measured Shannon Index</text>
<text transform="translate(427.6 560.2) scale(1 1.1)" font-size="13.65" font-weight="bold" text-anchor="middle">Diversity, Resolution: 1.0 ha</text>
</svg>
</body></html>
